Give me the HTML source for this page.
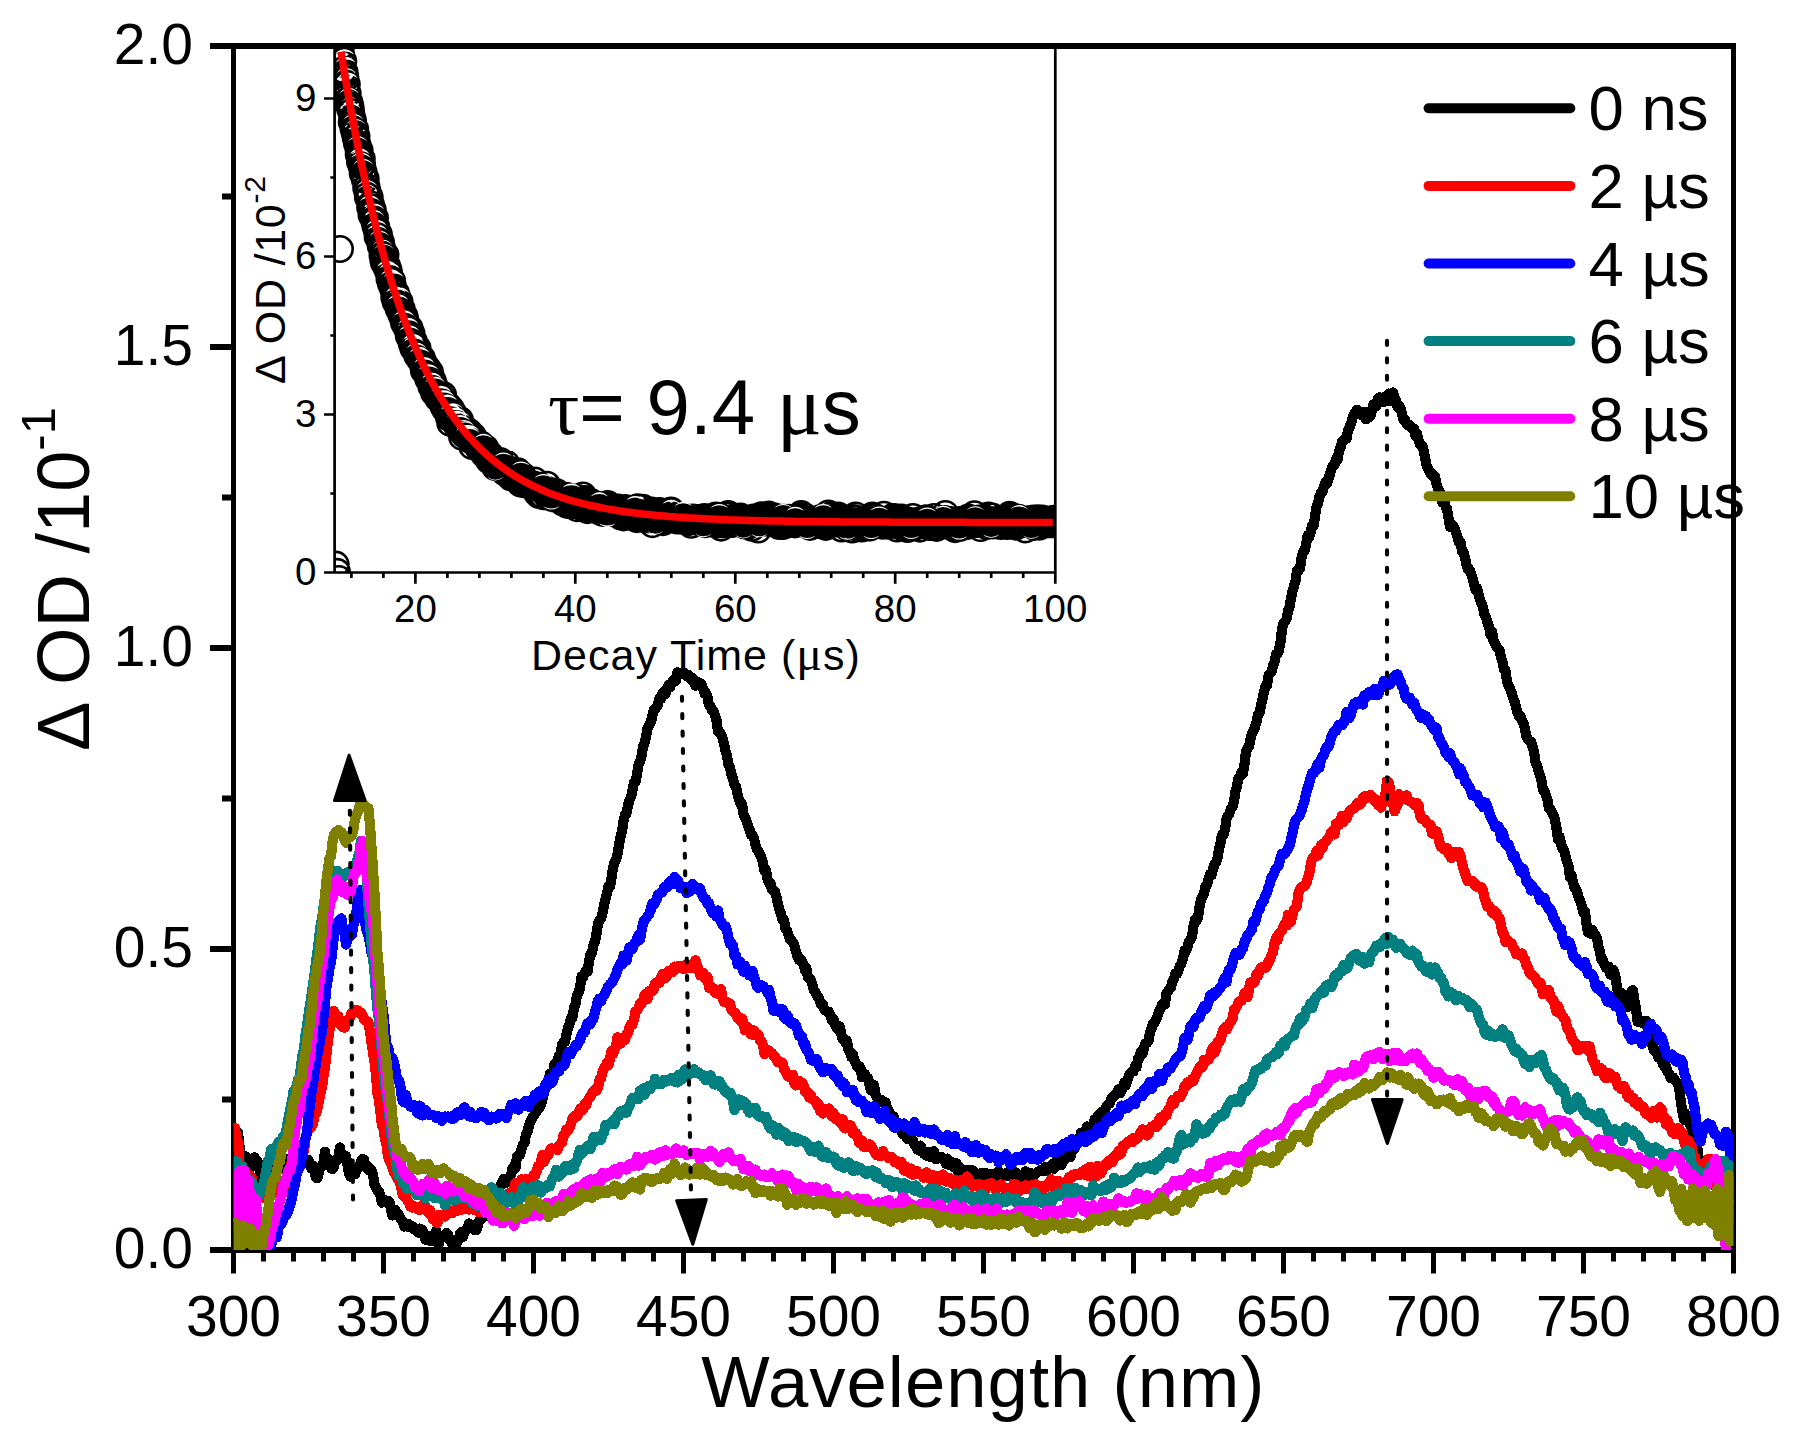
<!DOCTYPE html>
<html lang="en"><head><meta charset="utf-8"><title>Transient absorption spectra</title>
<style>html,body{margin:0;padding:0;background:#fff}svg{display:block}text{font-family:'Liberation Sans', Arial, sans-serif;fill:#000}.s{font-family:'Liberation Serif', 'DejaVu Serif', serif}</style>
</head><body>
<svg width="1798" height="1443" viewBox="0 0 1798 1443">
<rect width="1798" height="1443" fill="#fff"/>
<defs><clipPath id="cm"><rect x="233.5" y="46.0" width="1500.0" height="1204.0"/></clipPath>
<clipPath id="ci"><rect x="334.6" y="46" width="720.7" height="526.5"/></clipPath></defs>
<g stroke="#000" fill="none" stroke-linecap="butt">
<path d="M210,46.0 H1736.0 M210,1250.0 H1736.0 M210,949.0 H233.5 M210,648.0 H233.5 M210,347.0 H233.5 M222,1099.5 H233.5 M222,798.5 H233.5 M222,497.5 H233.5 M222,196.5 H233.5" stroke-width="6"/>
<path d="M233.5,46.0 V1273.5 M1733.5,46.0 V1273.5 M383.5,1250.0 V1273.5 M533.5,1250.0 V1273.5 M683.5,1250.0 V1273.5 M833.5,1250.0 V1273.5 M983.5,1250.0 V1273.5 M1133.5,1250.0 V1273.5 M1283.5,1250.0 V1273.5 M1433.5,1250.0 V1273.5 M1583.5,1250.0 V1273.5 M263.5,1250.0 V1261.5 M293.5,1250.0 V1261.5 M323.5,1250.0 V1261.5 M353.5,1250.0 V1261.5 M413.5,1250.0 V1261.5 M443.5,1250.0 V1261.5 M473.5,1250.0 V1261.5 M503.5,1250.0 V1261.5 M563.5,1250.0 V1261.5 M593.5,1250.0 V1261.5 M623.5,1250.0 V1261.5 M653.5,1250.0 V1261.5 M713.5,1250.0 V1261.5 M743.5,1250.0 V1261.5 M773.5,1250.0 V1261.5 M803.5,1250.0 V1261.5 M863.5,1250.0 V1261.5 M893.5,1250.0 V1261.5 M923.5,1250.0 V1261.5 M953.5,1250.0 V1261.5 M1013.5,1250.0 V1261.5 M1043.5,1250.0 V1261.5 M1073.5,1250.0 V1261.5 M1103.5,1250.0 V1261.5 M1163.5,1250.0 V1261.5 M1193.5,1250.0 V1261.5 M1223.5,1250.0 V1261.5 M1253.5,1250.0 V1261.5 M1313.5,1250.0 V1261.5 M1343.5,1250.0 V1261.5 M1373.5,1250.0 V1261.5 M1403.5,1250.0 V1261.5 M1463.5,1250.0 V1261.5 M1493.5,1250.0 V1261.5 M1523.5,1250.0 V1261.5 M1553.5,1250.0 V1261.5 M1613.5,1250.0 V1261.5 M1643.5,1250.0 V1261.5 M1673.5,1250.0 V1261.5 M1703.5,1250.0 V1261.5" stroke-width="5"/>
</g>
<g font-size="57px" text-anchor="end">
<text x="193" y="1268.0">0.0</text>
<text x="193" y="967.0">0.5</text>
<text x="193" y="666.0">1.0</text>
<text x="193" y="365.0">1.5</text>
<text x="193" y="64.0">2.0</text>
</g>
<g font-size="57px" text-anchor="middle">
<text x="233.5" y="1335.5">300</text>
<text x="383.5" y="1335.5">350</text>
<text x="533.5" y="1335.5">400</text>
<text x="683.5" y="1335.5">450</text>
<text x="833.5" y="1335.5">500</text>
<text x="983.5" y="1335.5">550</text>
<text x="1133.5" y="1335.5">600</text>
<text x="1283.5" y="1335.5">650</text>
<text x="1433.5" y="1335.5">700</text>
<text x="1583.5" y="1335.5">750</text>
<text x="1733.5" y="1335.5">800</text>
</g>
<text x="701.2" y="1406.8" font-size="72.5px" letter-spacing="1">Wavelength (nm)</text>
<text transform="translate(89.3,751) rotate(-90)" font-size="74px">Δ OD /10<tspan font-size="49px" dy="-34">-1</tspan></text>
<g clip-path="url(#ci)">
<polyline points="415.4,347.5 419.4,356.5 423.4,365.1 427.4,373.3 431.4,381.0 435.4,388.3 439.4,395.3 443.4,401.9 447.4,408.1 451.4,414.0 455.4,419.7 459.4,425.0 463.4,430.0 467.4,434.8 471.4,439.4 475.4,443.7 479.4,447.7 483.4,451.6 487.4,455.3 491.4,458.8 495.4,462.1 499.4,465.2 503.4,468.2 507.4,471.0 511.4,473.6 515.4,476.2 519.4,478.6 523.4,480.8 527.4,483.0 531.4,485.0 535.4,487.0 539.4,488.8 543.4,490.6 547.4,492.2 551.3,493.8 555.3,495.3 559.3,496.7 563.3,498.0 567.3,499.3 571.3,500.5 575.3,501.6 579.3,502.7 583.3,503.7 587.3,504.7 591.3,505.6 595.3,506.5 599.3,507.3 603.3,508.1 607.3,508.8 611.3,509.5 615.3,510.2 619.3,510.9 623.3,511.5 627.3,512.0 631.3,512.6 635.3,513.1 639.3,513.6 643.3,514.0 647.3,514.5 651.3,514.9 655.3,515.3 659.3,515.6 663.3,516.0 667.3,516.3 671.3,516.6 675.3,516.9 679.3,517.2 683.3,517.5 687.3,517.8 691.3,518.0 695.3,518.2 699.3,518.5 703.3,518.7 707.3,518.9 711.3,519.0 715.3,519.2 719.3,519.4 723.3,519.6 727.3,519.7 731.3,519.8 735.3,520.0 739.3,520.1 743.3,520.2 747.3,520.3 751.3,520.5 755.3,520.6 759.3,520.7 763.3,520.8 767.3,520.8 771.3,520.9 775.3,521.0 779.3,521.1 783.3,521.2 787.3,521.2 791.3,521.3 795.3,521.3 799.3,521.4 803.3,521.5 807.3,521.5 811.3,521.6 815.2,521.6 819.2,521.7 823.2,521.7 827.2,521.7 831.2,521.8 835.2,521.8 839.2,521.8 843.2,521.9 847.2,521.9 851.2,521.9 855.2,522.0 859.2,522.0 863.2,522.0 867.2,522.0 871.2,522.1 875.2,522.1 879.2,522.1 883.2,522.1 887.2,522.1 891.2,522.2 895.2,522.2 899.2,522.2 903.2,522.2 907.2,522.2 911.2,522.2 915.2,522.2 919.2,522.2 923.2,522.3 927.2,522.3 931.2,522.3 935.2,522.3 939.2,522.3 943.2,522.3 947.2,522.3 951.2,522.3 955.2,522.3 959.2,522.3 963.2,522.3 967.2,522.3 971.2,522.4 975.2,522.4 979.2,522.4 983.2,522.4 987.2,522.4 991.2,522.4 995.2,522.4 999.2,522.4 1003.2,522.4 1007.2,522.4 1011.2,522.4 1015.2,522.4 1019.2,522.4 1023.2,522.4 1027.2,522.4 1031.2,522.4 1035.2,522.4 1039.2,522.4 1043.2,522.4 1047.2,522.4 1051.2,522.4 1055.2,522.4 1059.2,522.4" fill="none" stroke="#000" stroke-width="27" stroke-linejoin="round"/>
<path d="M327.5,46.8a12.7,12.7 0 1,0 25.4,0a12.7,12.7 0 1,0 -25.4,0M328.0,48.6a12.7,12.7 0 1,0 25.4,0a12.7,12.7 0 1,0 -25.4,0M328.4,53.2a12.7,12.7 0 1,0 25.4,0a12.7,12.7 0 1,0 -25.4,0M328.8,58.0a12.7,12.7 0 1,0 25.4,0a12.7,12.7 0 1,0 -25.4,0M329.3,59.3a12.7,12.7 0 1,0 25.4,0a12.7,12.7 0 1,0 -25.4,0M329.7,63.7a12.7,12.7 0 1,0 25.4,0a12.7,12.7 0 1,0 -25.4,0M330.2,63.0a12.7,12.7 0 1,0 25.4,0a12.7,12.7 0 1,0 -25.4,0M330.6,61.5a12.7,12.7 0 1,0 25.4,0a12.7,12.7 0 1,0 -25.4,0M331.0,70.1a12.7,12.7 0 1,0 25.4,0a12.7,12.7 0 1,0 -25.4,0M331.5,73.2a12.7,12.7 0 1,0 25.4,0a12.7,12.7 0 1,0 -25.4,0M331.9,72.2a12.7,12.7 0 1,0 25.4,0a12.7,12.7 0 1,0 -25.4,0M332.4,75.3a12.7,12.7 0 1,0 25.4,0a12.7,12.7 0 1,0 -25.4,0M332.8,78.7a12.7,12.7 0 1,0 25.4,0a12.7,12.7 0 1,0 -25.4,0M333.2,84.7a12.7,12.7 0 1,0 25.4,0a12.7,12.7 0 1,0 -25.4,0M333.7,84.3a12.7,12.7 0 1,0 25.4,0a12.7,12.7 0 1,0 -25.4,0M334.1,84.5a12.7,12.7 0 1,0 25.4,0a12.7,12.7 0 1,0 -25.4,0M334.6,93.7a12.7,12.7 0 1,0 25.4,0a12.7,12.7 0 1,0 -25.4,0M335.0,93.3a12.7,12.7 0 1,0 25.4,0a12.7,12.7 0 1,0 -25.4,0M335.4,100.5a12.7,12.7 0 1,0 25.4,0a12.7,12.7 0 1,0 -25.4,0M335.9,101.0a12.7,12.7 0 1,0 25.4,0a12.7,12.7 0 1,0 -25.4,0M336.3,105.3a12.7,12.7 0 1,0 25.4,0a12.7,12.7 0 1,0 -25.4,0M336.8,102.5a12.7,12.7 0 1,0 25.4,0a12.7,12.7 0 1,0 -25.4,0M337.2,108.4a12.7,12.7 0 1,0 25.4,0a12.7,12.7 0 1,0 -25.4,0M337.6,105.8a12.7,12.7 0 1,0 25.4,0a12.7,12.7 0 1,0 -25.4,0M338.1,108.6a12.7,12.7 0 1,0 25.4,0a12.7,12.7 0 1,0 -25.4,0M338.5,112.1a12.7,12.7 0 1,0 25.4,0a12.7,12.7 0 1,0 -25.4,0M339.0,122.1a12.7,12.7 0 1,0 25.4,0a12.7,12.7 0 1,0 -25.4,0M339.4,118.0a12.7,12.7 0 1,0 25.4,0a12.7,12.7 0 1,0 -25.4,0M339.8,118.8a12.7,12.7 0 1,0 25.4,0a12.7,12.7 0 1,0 -25.4,0M340.3,120.6a12.7,12.7 0 1,0 25.4,0a12.7,12.7 0 1,0 -25.4,0M340.7,128.3a12.7,12.7 0 1,0 25.4,0a12.7,12.7 0 1,0 -25.4,0M341.2,127.2a12.7,12.7 0 1,0 25.4,0a12.7,12.7 0 1,0 -25.4,0M341.6,131.2a12.7,12.7 0 1,0 25.4,0a12.7,12.7 0 1,0 -25.4,0M342.0,132.9a12.7,12.7 0 1,0 25.4,0a12.7,12.7 0 1,0 -25.4,0M342.5,129.1a12.7,12.7 0 1,0 25.4,0a12.7,12.7 0 1,0 -25.4,0M342.9,137.5a12.7,12.7 0 1,0 25.4,0a12.7,12.7 0 1,0 -25.4,0M343.4,137.2a12.7,12.7 0 1,0 25.4,0a12.7,12.7 0 1,0 -25.4,0M343.8,136.5a12.7,12.7 0 1,0 25.4,0a12.7,12.7 0 1,0 -25.4,0M344.2,143.5a12.7,12.7 0 1,0 25.4,0a12.7,12.7 0 1,0 -25.4,0M344.7,144.2a12.7,12.7 0 1,0 25.4,0a12.7,12.7 0 1,0 -25.4,0M345.1,145.7a12.7,12.7 0 1,0 25.4,0a12.7,12.7 0 1,0 -25.4,0M345.6,148.0a12.7,12.7 0 1,0 25.4,0a12.7,12.7 0 1,0 -25.4,0M346.0,154.4a12.7,12.7 0 1,0 25.4,0a12.7,12.7 0 1,0 -25.4,0M346.4,152.3a12.7,12.7 0 1,0 25.4,0a12.7,12.7 0 1,0 -25.4,0M346.9,150.3a12.7,12.7 0 1,0 25.4,0a12.7,12.7 0 1,0 -25.4,0M347.3,161.9a12.7,12.7 0 1,0 25.4,0a12.7,12.7 0 1,0 -25.4,0M347.8,156.2a12.7,12.7 0 1,0 25.4,0a12.7,12.7 0 1,0 -25.4,0M348.2,160.8a12.7,12.7 0 1,0 25.4,0a12.7,12.7 0 1,0 -25.4,0M348.6,165.3a12.7,12.7 0 1,0 25.4,0a12.7,12.7 0 1,0 -25.4,0M349.1,158.8a12.7,12.7 0 1,0 25.4,0a12.7,12.7 0 1,0 -25.4,0M349.5,164.9a12.7,12.7 0 1,0 25.4,0a12.7,12.7 0 1,0 -25.4,0M350.0,173.4a12.7,12.7 0 1,0 25.4,0a12.7,12.7 0 1,0 -25.4,0M350.4,171.3a12.7,12.7 0 1,0 25.4,0a12.7,12.7 0 1,0 -25.4,0M350.8,171.7a12.7,12.7 0 1,0 25.4,0a12.7,12.7 0 1,0 -25.4,0M351.3,176.3a12.7,12.7 0 1,0 25.4,0a12.7,12.7 0 1,0 -25.4,0M351.7,175.4a12.7,12.7 0 1,0 25.4,0a12.7,12.7 0 1,0 -25.4,0M352.2,179.9a12.7,12.7 0 1,0 25.4,0a12.7,12.7 0 1,0 -25.4,0M352.6,179.5a12.7,12.7 0 1,0 25.4,0a12.7,12.7 0 1,0 -25.4,0M353.0,179.0a12.7,12.7 0 1,0 25.4,0a12.7,12.7 0 1,0 -25.4,0M353.5,187.8a12.7,12.7 0 1,0 25.4,0a12.7,12.7 0 1,0 -25.4,0M353.9,186.9a12.7,12.7 0 1,0 25.4,0a12.7,12.7 0 1,0 -25.4,0M354.4,191.1a12.7,12.7 0 1,0 25.4,0a12.7,12.7 0 1,0 -25.4,0M354.8,191.1a12.7,12.7 0 1,0 25.4,0a12.7,12.7 0 1,0 -25.4,0M355.2,197.3a12.7,12.7 0 1,0 25.4,0a12.7,12.7 0 1,0 -25.4,0M355.7,197.2a12.7,12.7 0 1,0 25.4,0a12.7,12.7 0 1,0 -25.4,0M356.1,197.9a12.7,12.7 0 1,0 25.4,0a12.7,12.7 0 1,0 -25.4,0M356.6,196.2a12.7,12.7 0 1,0 25.4,0a12.7,12.7 0 1,0 -25.4,0M357.0,197.3a12.7,12.7 0 1,0 25.4,0a12.7,12.7 0 1,0 -25.4,0M357.4,207.2a12.7,12.7 0 1,0 25.4,0a12.7,12.7 0 1,0 -25.4,0M357.9,207.4a12.7,12.7 0 1,0 25.4,0a12.7,12.7 0 1,0 -25.4,0M358.3,204.5a12.7,12.7 0 1,0 25.4,0a12.7,12.7 0 1,0 -25.4,0M358.8,215.0a12.7,12.7 0 1,0 25.4,0a12.7,12.7 0 1,0 -25.4,0M359.2,211.8a12.7,12.7 0 1,0 25.4,0a12.7,12.7 0 1,0 -25.4,0M359.6,212.4a12.7,12.7 0 1,0 25.4,0a12.7,12.7 0 1,0 -25.4,0M360.1,209.8a12.7,12.7 0 1,0 25.4,0a12.7,12.7 0 1,0 -25.4,0M360.5,213.5a12.7,12.7 0 1,0 25.4,0a12.7,12.7 0 1,0 -25.4,0M361.0,218.6a12.7,12.7 0 1,0 25.4,0a12.7,12.7 0 1,0 -25.4,0M361.4,220.5a12.7,12.7 0 1,0 25.4,0a12.7,12.7 0 1,0 -25.4,0M361.8,221.9a12.7,12.7 0 1,0 25.4,0a12.7,12.7 0 1,0 -25.4,0M362.3,217.9a12.7,12.7 0 1,0 25.4,0a12.7,12.7 0 1,0 -25.4,0M362.7,226.0a12.7,12.7 0 1,0 25.4,0a12.7,12.7 0 1,0 -25.4,0M363.2,227.3a12.7,12.7 0 1,0 25.4,0a12.7,12.7 0 1,0 -25.4,0M363.6,226.9a12.7,12.7 0 1,0 25.4,0a12.7,12.7 0 1,0 -25.4,0M364.0,230.2a12.7,12.7 0 1,0 25.4,0a12.7,12.7 0 1,0 -25.4,0M364.5,232.1a12.7,12.7 0 1,0 25.4,0a12.7,12.7 0 1,0 -25.4,0M364.9,236.8a12.7,12.7 0 1,0 25.4,0a12.7,12.7 0 1,0 -25.4,0M365.4,234.9a12.7,12.7 0 1,0 25.4,0a12.7,12.7 0 1,0 -25.4,0M365.8,238.0a12.7,12.7 0 1,0 25.4,0a12.7,12.7 0 1,0 -25.4,0M366.2,234.4a12.7,12.7 0 1,0 25.4,0a12.7,12.7 0 1,0 -25.4,0M366.7,237.7a12.7,12.7 0 1,0 25.4,0a12.7,12.7 0 1,0 -25.4,0M367.1,241.6a12.7,12.7 0 1,0 25.4,0a12.7,12.7 0 1,0 -25.4,0M367.6,241.0a12.7,12.7 0 1,0 25.4,0a12.7,12.7 0 1,0 -25.4,0M368.0,245.9a12.7,12.7 0 1,0 25.4,0a12.7,12.7 0 1,0 -25.4,0M368.4,243.0a12.7,12.7 0 1,0 25.4,0a12.7,12.7 0 1,0 -25.4,0M368.9,248.0a12.7,12.7 0 1,0 25.4,0a12.7,12.7 0 1,0 -25.4,0M369.3,247.7a12.7,12.7 0 1,0 25.4,0a12.7,12.7 0 1,0 -25.4,0M369.8,255.4a12.7,12.7 0 1,0 25.4,0a12.7,12.7 0 1,0 -25.4,0M370.2,251.7a12.7,12.7 0 1,0 25.4,0a12.7,12.7 0 1,0 -25.4,0M370.6,259.9a12.7,12.7 0 1,0 25.4,0a12.7,12.7 0 1,0 -25.4,0M371.1,262.6a12.7,12.7 0 1,0 25.4,0a12.7,12.7 0 1,0 -25.4,0M371.5,258.5a12.7,12.7 0 1,0 25.4,0a12.7,12.7 0 1,0 -25.4,0M372.0,262.0a12.7,12.7 0 1,0 25.4,0a12.7,12.7 0 1,0 -25.4,0M372.4,260.0a12.7,12.7 0 1,0 25.4,0a12.7,12.7 0 1,0 -25.4,0M372.8,254.8a12.7,12.7 0 1,0 25.4,0a12.7,12.7 0 1,0 -25.4,0M373.3,266.3a12.7,12.7 0 1,0 25.4,0a12.7,12.7 0 1,0 -25.4,0M373.7,267.2a12.7,12.7 0 1,0 25.4,0a12.7,12.7 0 1,0 -25.4,0M374.2,266.0a12.7,12.7 0 1,0 25.4,0a12.7,12.7 0 1,0 -25.4,0M374.6,266.5a12.7,12.7 0 1,0 25.4,0a12.7,12.7 0 1,0 -25.4,0M375.0,270.2a12.7,12.7 0 1,0 25.4,0a12.7,12.7 0 1,0 -25.4,0M375.5,271.7a12.7,12.7 0 1,0 25.4,0a12.7,12.7 0 1,0 -25.4,0M375.9,270.2a12.7,12.7 0 1,0 25.4,0a12.7,12.7 0 1,0 -25.4,0M376.3,272.3a12.7,12.7 0 1,0 25.4,0a12.7,12.7 0 1,0 -25.4,0M376.8,278.8a12.7,12.7 0 1,0 25.4,0a12.7,12.7 0 1,0 -25.4,0M377.2,277.1a12.7,12.7 0 1,0 25.4,0a12.7,12.7 0 1,0 -25.4,0M377.7,278.2a12.7,12.7 0 1,0 25.4,0a12.7,12.7 0 1,0 -25.4,0M378.1,283.2a12.7,12.7 0 1,0 25.4,0a12.7,12.7 0 1,0 -25.4,0M378.5,280.3a12.7,12.7 0 1,0 25.4,0a12.7,12.7 0 1,0 -25.4,0M379.0,285.4a12.7,12.7 0 1,0 25.4,0a12.7,12.7 0 1,0 -25.4,0M379.4,280.8a12.7,12.7 0 1,0 25.4,0a12.7,12.7 0 1,0 -25.4,0M379.9,284.7a12.7,12.7 0 1,0 25.4,0a12.7,12.7 0 1,0 -25.4,0M380.3,286.5a12.7,12.7 0 1,0 25.4,0a12.7,12.7 0 1,0 -25.4,0M380.7,290.0a12.7,12.7 0 1,0 25.4,0a12.7,12.7 0 1,0 -25.4,0M381.2,289.9a12.7,12.7 0 1,0 25.4,0a12.7,12.7 0 1,0 -25.4,0M381.6,297.4a12.7,12.7 0 1,0 25.4,0a12.7,12.7 0 1,0 -25.4,0M382.1,295.9a12.7,12.7 0 1,0 25.4,0a12.7,12.7 0 1,0 -25.4,0M382.5,292.4a12.7,12.7 0 1,0 25.4,0a12.7,12.7 0 1,0 -25.4,0M382.9,301.8a12.7,12.7 0 1,0 25.4,0a12.7,12.7 0 1,0 -25.4,0M383.4,293.4a12.7,12.7 0 1,0 25.4,0a12.7,12.7 0 1,0 -25.4,0M383.8,303.2a12.7,12.7 0 1,0 25.4,0a12.7,12.7 0 1,0 -25.4,0M384.3,296.4a12.7,12.7 0 1,0 25.4,0a12.7,12.7 0 1,0 -25.4,0M384.7,302.9a12.7,12.7 0 1,0 25.4,0a12.7,12.7 0 1,0 -25.4,0M385.1,298.9a12.7,12.7 0 1,0 25.4,0a12.7,12.7 0 1,0 -25.4,0M385.6,302.3a12.7,12.7 0 1,0 25.4,0a12.7,12.7 0 1,0 -25.4,0M386.0,309.0a12.7,12.7 0 1,0 25.4,0a12.7,12.7 0 1,0 -25.4,0M386.5,301.2a12.7,12.7 0 1,0 25.4,0a12.7,12.7 0 1,0 -25.4,0M386.9,301.8a12.7,12.7 0 1,0 25.4,0a12.7,12.7 0 1,0 -25.4,0M387.3,308.0a12.7,12.7 0 1,0 25.4,0a12.7,12.7 0 1,0 -25.4,0M387.8,310.0a12.7,12.7 0 1,0 25.4,0a12.7,12.7 0 1,0 -25.4,0M388.2,310.8a12.7,12.7 0 1,0 25.4,0a12.7,12.7 0 1,0 -25.4,0M388.7,314.7a12.7,12.7 0 1,0 25.4,0a12.7,12.7 0 1,0 -25.4,0M389.1,309.2a12.7,12.7 0 1,0 25.4,0a12.7,12.7 0 1,0 -25.4,0M389.5,315.8a12.7,12.7 0 1,0 25.4,0a12.7,12.7 0 1,0 -25.4,0M390.0,315.4a12.7,12.7 0 1,0 25.4,0a12.7,12.7 0 1,0 -25.4,0M390.4,319.0a12.7,12.7 0 1,0 25.4,0a12.7,12.7 0 1,0 -25.4,0M390.9,319.7a12.7,12.7 0 1,0 25.4,0a12.7,12.7 0 1,0 -25.4,0M391.3,323.0a12.7,12.7 0 1,0 25.4,0a12.7,12.7 0 1,0 -25.4,0M391.7,315.9a12.7,12.7 0 1,0 25.4,0a12.7,12.7 0 1,0 -25.4,0M392.2,321.7a12.7,12.7 0 1,0 25.4,0a12.7,12.7 0 1,0 -25.4,0M392.6,319.2a12.7,12.7 0 1,0 25.4,0a12.7,12.7 0 1,0 -25.4,0M393.1,323.5a12.7,12.7 0 1,0 25.4,0a12.7,12.7 0 1,0 -25.4,0M393.5,327.0a12.7,12.7 0 1,0 25.4,0a12.7,12.7 0 1,0 -25.4,0M393.9,326.9a12.7,12.7 0 1,0 25.4,0a12.7,12.7 0 1,0 -25.4,0M394.4,328.8a12.7,12.7 0 1,0 25.4,0a12.7,12.7 0 1,0 -25.4,0M394.8,328.1a12.7,12.7 0 1,0 25.4,0a12.7,12.7 0 1,0 -25.4,0M395.3,330.5a12.7,12.7 0 1,0 25.4,0a12.7,12.7 0 1,0 -25.4,0M395.7,331.4a12.7,12.7 0 1,0 25.4,0a12.7,12.7 0 1,0 -25.4,0M396.1,336.0a12.7,12.7 0 1,0 25.4,0a12.7,12.7 0 1,0 -25.4,0M396.6,335.3a12.7,12.7 0 1,0 25.4,0a12.7,12.7 0 1,0 -25.4,0M397.0,328.3a12.7,12.7 0 1,0 25.4,0a12.7,12.7 0 1,0 -25.4,0M397.5,337.0a12.7,12.7 0 1,0 25.4,0a12.7,12.7 0 1,0 -25.4,0M397.9,339.4a12.7,12.7 0 1,0 25.4,0a12.7,12.7 0 1,0 -25.4,0M398.3,335.9a12.7,12.7 0 1,0 25.4,0a12.7,12.7 0 1,0 -25.4,0M398.8,333.5a12.7,12.7 0 1,0 25.4,0a12.7,12.7 0 1,0 -25.4,0M399.2,343.9a12.7,12.7 0 1,0 25.4,0a12.7,12.7 0 1,0 -25.4,0M399.7,340.9a12.7,12.7 0 1,0 25.4,0a12.7,12.7 0 1,0 -25.4,0M400.1,343.4a12.7,12.7 0 1,0 25.4,0a12.7,12.7 0 1,0 -25.4,0M400.5,348.1a12.7,12.7 0 1,0 25.4,0a12.7,12.7 0 1,0 -25.4,0M401.0,341.0a12.7,12.7 0 1,0 25.4,0a12.7,12.7 0 1,0 -25.4,0M401.4,344.5a12.7,12.7 0 1,0 25.4,0a12.7,12.7 0 1,0 -25.4,0M401.9,345.3a12.7,12.7 0 1,0 25.4,0a12.7,12.7 0 1,0 -25.4,0M402.3,349.0a12.7,12.7 0 1,0 25.4,0a12.7,12.7 0 1,0 -25.4,0M402.7,346.1a12.7,12.7 0 1,0 25.4,0a12.7,12.7 0 1,0 -25.4,0M403.2,350.3a12.7,12.7 0 1,0 25.4,0a12.7,12.7 0 1,0 -25.4,0M403.6,350.1a12.7,12.7 0 1,0 25.4,0a12.7,12.7 0 1,0 -25.4,0M404.1,354.2a12.7,12.7 0 1,0 25.4,0a12.7,12.7 0 1,0 -25.4,0M404.5,355.6a12.7,12.7 0 1,0 25.4,0a12.7,12.7 0 1,0 -25.4,0M404.9,348.2a12.7,12.7 0 1,0 25.4,0a12.7,12.7 0 1,0 -25.4,0M405.4,355.2a12.7,12.7 0 1,0 25.4,0a12.7,12.7 0 1,0 -25.4,0M405.8,353.6a12.7,12.7 0 1,0 25.4,0a12.7,12.7 0 1,0 -25.4,0M406.3,355.7a12.7,12.7 0 1,0 25.4,0a12.7,12.7 0 1,0 -25.4,0M406.7,358.0a12.7,12.7 0 1,0 25.4,0a12.7,12.7 0 1,0 -25.4,0M407.1,359.2a12.7,12.7 0 1,0 25.4,0a12.7,12.7 0 1,0 -25.4,0M407.6,356.4a12.7,12.7 0 1,0 25.4,0a12.7,12.7 0 1,0 -25.4,0M408.0,360.4a12.7,12.7 0 1,0 25.4,0a12.7,12.7 0 1,0 -25.4,0M408.5,360.9a12.7,12.7 0 1,0 25.4,0a12.7,12.7 0 1,0 -25.4,0M408.9,361.2a12.7,12.7 0 1,0 25.4,0a12.7,12.7 0 1,0 -25.4,0M409.3,358.4a12.7,12.7 0 1,0 25.4,0a12.7,12.7 0 1,0 -25.4,0M409.8,361.0a12.7,12.7 0 1,0 25.4,0a12.7,12.7 0 1,0 -25.4,0M410.2,362.9a12.7,12.7 0 1,0 25.4,0a12.7,12.7 0 1,0 -25.4,0M410.7,366.9a12.7,12.7 0 1,0 25.4,0a12.7,12.7 0 1,0 -25.4,0M411.1,370.5a12.7,12.7 0 1,0 25.4,0a12.7,12.7 0 1,0 -25.4,0M411.5,363.8a12.7,12.7 0 1,0 25.4,0a12.7,12.7 0 1,0 -25.4,0M412.0,364.6a12.7,12.7 0 1,0 25.4,0a12.7,12.7 0 1,0 -25.4,0M412.4,369.1a12.7,12.7 0 1,0 25.4,0a12.7,12.7 0 1,0 -25.4,0M412.9,367.8a12.7,12.7 0 1,0 25.4,0a12.7,12.7 0 1,0 -25.4,0M413.3,367.9a12.7,12.7 0 1,0 25.4,0a12.7,12.7 0 1,0 -25.4,0M413.7,368.6a12.7,12.7 0 1,0 25.4,0a12.7,12.7 0 1,0 -25.4,0M414.2,369.2a12.7,12.7 0 1,0 25.4,0a12.7,12.7 0 1,0 -25.4,0M414.6,374.6a12.7,12.7 0 1,0 25.4,0a12.7,12.7 0 1,0 -25.4,0M415.1,369.0a12.7,12.7 0 1,0 25.4,0a12.7,12.7 0 1,0 -25.4,0M415.5,378.9a12.7,12.7 0 1,0 25.4,0a12.7,12.7 0 1,0 -25.4,0M415.9,372.9a12.7,12.7 0 1,0 25.4,0a12.7,12.7 0 1,0 -25.4,0M416.4,375.0a12.7,12.7 0 1,0 25.4,0a12.7,12.7 0 1,0 -25.4,0M416.8,374.6a12.7,12.7 0 1,0 25.4,0a12.7,12.7 0 1,0 -25.4,0M417.3,372.1a12.7,12.7 0 1,0 25.4,0a12.7,12.7 0 1,0 -25.4,0M417.7,374.3a12.7,12.7 0 1,0 25.4,0a12.7,12.7 0 1,0 -25.4,0M418.1,383.7a12.7,12.7 0 1,0 25.4,0a12.7,12.7 0 1,0 -25.4,0M418.6,386.3a12.7,12.7 0 1,0 25.4,0a12.7,12.7 0 1,0 -25.4,0M419.0,378.9a12.7,12.7 0 1,0 25.4,0a12.7,12.7 0 1,0 -25.4,0M419.5,385.7a12.7,12.7 0 1,0 25.4,0a12.7,12.7 0 1,0 -25.4,0M419.9,383.3a12.7,12.7 0 1,0 25.4,0a12.7,12.7 0 1,0 -25.4,0M420.3,381.3a12.7,12.7 0 1,0 25.4,0a12.7,12.7 0 1,0 -25.4,0M420.8,390.2a12.7,12.7 0 1,0 25.4,0a12.7,12.7 0 1,0 -25.4,0M421.2,392.6a12.7,12.7 0 1,0 25.4,0a12.7,12.7 0 1,0 -25.4,0M421.7,385.6a12.7,12.7 0 1,0 25.4,0a12.7,12.7 0 1,0 -25.4,0M422.1,387.1a12.7,12.7 0 1,0 25.4,0a12.7,12.7 0 1,0 -25.4,0M422.5,388.8a12.7,12.7 0 1,0 25.4,0a12.7,12.7 0 1,0 -25.4,0M423.0,388.7a12.7,12.7 0 1,0 25.4,0a12.7,12.7 0 1,0 -25.4,0M423.4,392.4a12.7,12.7 0 1,0 25.4,0a12.7,12.7 0 1,0 -25.4,0M423.9,395.3a12.7,12.7 0 1,0 25.4,0a12.7,12.7 0 1,0 -25.4,0M424.3,391.7a12.7,12.7 0 1,0 25.4,0a12.7,12.7 0 1,0 -25.4,0M424.7,395.1a12.7,12.7 0 1,0 25.4,0a12.7,12.7 0 1,0 -25.4,0M425.2,398.1a12.7,12.7 0 1,0 25.4,0a12.7,12.7 0 1,0 -25.4,0M425.6,391.8a12.7,12.7 0 1,0 25.4,0a12.7,12.7 0 1,0 -25.4,0M426.1,394.4a12.7,12.7 0 1,0 25.4,0a12.7,12.7 0 1,0 -25.4,0M426.5,393.6a12.7,12.7 0 1,0 25.4,0a12.7,12.7 0 1,0 -25.4,0M426.9,398.9a12.7,12.7 0 1,0 25.4,0a12.7,12.7 0 1,0 -25.4,0M427.4,398.6a12.7,12.7 0 1,0 25.4,0a12.7,12.7 0 1,0 -25.4,0M427.8,400.4a12.7,12.7 0 1,0 25.4,0a12.7,12.7 0 1,0 -25.4,0M428.3,400.8a12.7,12.7 0 1,0 25.4,0a12.7,12.7 0 1,0 -25.4,0M428.7,398.0a12.7,12.7 0 1,0 25.4,0a12.7,12.7 0 1,0 -25.4,0M429.1,401.9a12.7,12.7 0 1,0 25.4,0a12.7,12.7 0 1,0 -25.4,0M429.6,398.9a12.7,12.7 0 1,0 25.4,0a12.7,12.7 0 1,0 -25.4,0M430.0,399.7a12.7,12.7 0 1,0 25.4,0a12.7,12.7 0 1,0 -25.4,0M430.4,394.9a12.7,12.7 0 1,0 25.4,0a12.7,12.7 0 1,0 -25.4,0M430.9,406.7a12.7,12.7 0 1,0 25.4,0a12.7,12.7 0 1,0 -25.4,0M431.3,400.0a12.7,12.7 0 1,0 25.4,0a12.7,12.7 0 1,0 -25.4,0M431.8,403.9a12.7,12.7 0 1,0 25.4,0a12.7,12.7 0 1,0 -25.4,0M432.2,404.3a12.7,12.7 0 1,0 25.4,0a12.7,12.7 0 1,0 -25.4,0M432.6,409.7a12.7,12.7 0 1,0 25.4,0a12.7,12.7 0 1,0 -25.4,0M433.1,407.2a12.7,12.7 0 1,0 25.4,0a12.7,12.7 0 1,0 -25.4,0M433.5,403.9a12.7,12.7 0 1,0 25.4,0a12.7,12.7 0 1,0 -25.4,0M434.0,407.3a12.7,12.7 0 1,0 25.4,0a12.7,12.7 0 1,0 -25.4,0M434.4,407.4a12.7,12.7 0 1,0 25.4,0a12.7,12.7 0 1,0 -25.4,0M434.8,409.3a12.7,12.7 0 1,0 25.4,0a12.7,12.7 0 1,0 -25.4,0M435.3,405.3a12.7,12.7 0 1,0 25.4,0a12.7,12.7 0 1,0 -25.4,0M435.7,409.8a12.7,12.7 0 1,0 25.4,0a12.7,12.7 0 1,0 -25.4,0M436.2,417.5a12.7,12.7 0 1,0 25.4,0a12.7,12.7 0 1,0 -25.4,0M436.6,413.3a12.7,12.7 0 1,0 25.4,0a12.7,12.7 0 1,0 -25.4,0M437.0,418.1a12.7,12.7 0 1,0 25.4,0a12.7,12.7 0 1,0 -25.4,0M437.5,422.9a12.7,12.7 0 1,0 25.4,0a12.7,12.7 0 1,0 -25.4,0M437.9,414.7a12.7,12.7 0 1,0 25.4,0a12.7,12.7 0 1,0 -25.4,0M438.4,409.2a12.7,12.7 0 1,0 25.4,0a12.7,12.7 0 1,0 -25.4,0M438.8,414.1a12.7,12.7 0 1,0 25.4,0a12.7,12.7 0 1,0 -25.4,0M439.2,418.7a12.7,12.7 0 1,0 25.4,0a12.7,12.7 0 1,0 -25.4,0M439.7,418.5a12.7,12.7 0 1,0 25.4,0a12.7,12.7 0 1,0 -25.4,0M440.1,412.4a12.7,12.7 0 1,0 25.4,0a12.7,12.7 0 1,0 -25.4,0M440.6,416.2a12.7,12.7 0 1,0 25.4,0a12.7,12.7 0 1,0 -25.4,0M441.0,417.2a12.7,12.7 0 1,0 25.4,0a12.7,12.7 0 1,0 -25.4,0M441.4,418.1a12.7,12.7 0 1,0 25.4,0a12.7,12.7 0 1,0 -25.4,0M441.9,418.4a12.7,12.7 0 1,0 25.4,0a12.7,12.7 0 1,0 -25.4,0M442.3,416.5a12.7,12.7 0 1,0 25.4,0a12.7,12.7 0 1,0 -25.4,0M442.8,418.0a12.7,12.7 0 1,0 25.4,0a12.7,12.7 0 1,0 -25.4,0M443.2,419.7a12.7,12.7 0 1,0 25.4,0a12.7,12.7 0 1,0 -25.4,0M443.6,424.4a12.7,12.7 0 1,0 25.4,0a12.7,12.7 0 1,0 -25.4,0M444.1,419.9a12.7,12.7 0 1,0 25.4,0a12.7,12.7 0 1,0 -25.4,0M444.5,424.4a12.7,12.7 0 1,0 25.4,0a12.7,12.7 0 1,0 -25.4,0M445.0,419.2a12.7,12.7 0 1,0 25.4,0a12.7,12.7 0 1,0 -25.4,0M445.4,427.5a12.7,12.7 0 1,0 25.4,0a12.7,12.7 0 1,0 -25.4,0M445.8,424.3a12.7,12.7 0 1,0 25.4,0a12.7,12.7 0 1,0 -25.4,0M446.3,424.5a12.7,12.7 0 1,0 25.4,0a12.7,12.7 0 1,0 -25.4,0M446.7,429.4a12.7,12.7 0 1,0 25.4,0a12.7,12.7 0 1,0 -25.4,0M447.2,420.0a12.7,12.7 0 1,0 25.4,0a12.7,12.7 0 1,0 -25.4,0M447.6,421.4a12.7,12.7 0 1,0 25.4,0a12.7,12.7 0 1,0 -25.4,0M448.0,428.2a12.7,12.7 0 1,0 25.4,0a12.7,12.7 0 1,0 -25.4,0M448.5,424.8a12.7,12.7 0 1,0 25.4,0a12.7,12.7 0 1,0 -25.4,0M448.9,426.6a12.7,12.7 0 1,0 25.4,0a12.7,12.7 0 1,0 -25.4,0M449.4,436.9a12.7,12.7 0 1,0 25.4,0a12.7,12.7 0 1,0 -25.4,0M449.8,428.1a12.7,12.7 0 1,0 25.4,0a12.7,12.7 0 1,0 -25.4,0M450.2,429.7a12.7,12.7 0 1,0 25.4,0a12.7,12.7 0 1,0 -25.4,0M450.7,429.8a12.7,12.7 0 1,0 25.4,0a12.7,12.7 0 1,0 -25.4,0M451.6,434.6a12.7,12.7 0 1,0 25.4,0a12.7,12.7 0 1,0 -25.4,0M452.4,433.0a12.7,12.7 0 1,0 25.4,0a12.7,12.7 0 1,0 -25.4,0M453.3,433.8a12.7,12.7 0 1,0 25.4,0a12.7,12.7 0 1,0 -25.4,0M454.2,430.4a12.7,12.7 0 1,0 25.4,0a12.7,12.7 0 1,0 -25.4,0M455.1,434.2a12.7,12.7 0 1,0 25.4,0a12.7,12.7 0 1,0 -25.4,0M456.0,436.3a12.7,12.7 0 1,0 25.4,0a12.7,12.7 0 1,0 -25.4,0M456.8,432.3a12.7,12.7 0 1,0 25.4,0a12.7,12.7 0 1,0 -25.4,0M457.7,440.1a12.7,12.7 0 1,0 25.4,0a12.7,12.7 0 1,0 -25.4,0M458.6,440.5a12.7,12.7 0 1,0 25.4,0a12.7,12.7 0 1,0 -25.4,0M459.5,446.2a12.7,12.7 0 1,0 25.4,0a12.7,12.7 0 1,0 -25.4,0M460.4,436.1a12.7,12.7 0 1,0 25.4,0a12.7,12.7 0 1,0 -25.4,0M461.2,439.0a12.7,12.7 0 1,0 25.4,0a12.7,12.7 0 1,0 -25.4,0M462.1,440.1a12.7,12.7 0 1,0 25.4,0a12.7,12.7 0 1,0 -25.4,0M463.0,441.8a12.7,12.7 0 1,0 25.4,0a12.7,12.7 0 1,0 -25.4,0M463.9,444.6a12.7,12.7 0 1,0 25.4,0a12.7,12.7 0 1,0 -25.4,0M464.8,445.1a12.7,12.7 0 1,0 25.4,0a12.7,12.7 0 1,0 -25.4,0M465.6,447.5a12.7,12.7 0 1,0 25.4,0a12.7,12.7 0 1,0 -25.4,0M466.5,448.3a12.7,12.7 0 1,0 25.4,0a12.7,12.7 0 1,0 -25.4,0M467.4,448.3a12.7,12.7 0 1,0 25.4,0a12.7,12.7 0 1,0 -25.4,0M468.3,444.4a12.7,12.7 0 1,0 25.4,0a12.7,12.7 0 1,0 -25.4,0M469.2,448.4a12.7,12.7 0 1,0 25.4,0a12.7,12.7 0 1,0 -25.4,0M470.0,451.2a12.7,12.7 0 1,0 25.4,0a12.7,12.7 0 1,0 -25.4,0M470.9,453.7a12.7,12.7 0 1,0 25.4,0a12.7,12.7 0 1,0 -25.4,0M471.8,454.7a12.7,12.7 0 1,0 25.4,0a12.7,12.7 0 1,0 -25.4,0M472.7,448.2a12.7,12.7 0 1,0 25.4,0a12.7,12.7 0 1,0 -25.4,0M473.6,452.6a12.7,12.7 0 1,0 25.4,0a12.7,12.7 0 1,0 -25.4,0M474.4,454.9a12.7,12.7 0 1,0 25.4,0a12.7,12.7 0 1,0 -25.4,0M475.3,457.0a12.7,12.7 0 1,0 25.4,0a12.7,12.7 0 1,0 -25.4,0M476.2,460.3a12.7,12.7 0 1,0 25.4,0a12.7,12.7 0 1,0 -25.4,0M477.1,457.6a12.7,12.7 0 1,0 25.4,0a12.7,12.7 0 1,0 -25.4,0M478.0,455.3a12.7,12.7 0 1,0 25.4,0a12.7,12.7 0 1,0 -25.4,0M478.8,460.2a12.7,12.7 0 1,0 25.4,0a12.7,12.7 0 1,0 -25.4,0M479.7,460.4a12.7,12.7 0 1,0 25.4,0a12.7,12.7 0 1,0 -25.4,0M480.6,461.1a12.7,12.7 0 1,0 25.4,0a12.7,12.7 0 1,0 -25.4,0M481.5,460.7a12.7,12.7 0 1,0 25.4,0a12.7,12.7 0 1,0 -25.4,0M482.4,467.0a12.7,12.7 0 1,0 25.4,0a12.7,12.7 0 1,0 -25.4,0M483.2,463.3a12.7,12.7 0 1,0 25.4,0a12.7,12.7 0 1,0 -25.4,0M484.1,466.0a12.7,12.7 0 1,0 25.4,0a12.7,12.7 0 1,0 -25.4,0M485.0,461.0a12.7,12.7 0 1,0 25.4,0a12.7,12.7 0 1,0 -25.4,0M485.9,467.1a12.7,12.7 0 1,0 25.4,0a12.7,12.7 0 1,0 -25.4,0M486.7,463.4a12.7,12.7 0 1,0 25.4,0a12.7,12.7 0 1,0 -25.4,0M487.6,460.9a12.7,12.7 0 1,0 25.4,0a12.7,12.7 0 1,0 -25.4,0M488.5,467.6a12.7,12.7 0 1,0 25.4,0a12.7,12.7 0 1,0 -25.4,0M489.4,469.2a12.7,12.7 0 1,0 25.4,0a12.7,12.7 0 1,0 -25.4,0M490.3,467.2a12.7,12.7 0 1,0 25.4,0a12.7,12.7 0 1,0 -25.4,0M491.1,468.5a12.7,12.7 0 1,0 25.4,0a12.7,12.7 0 1,0 -25.4,0M492.0,472.4a12.7,12.7 0 1,0 25.4,0a12.7,12.7 0 1,0 -25.4,0M492.9,468.3a12.7,12.7 0 1,0 25.4,0a12.7,12.7 0 1,0 -25.4,0M493.8,463.8a12.7,12.7 0 1,0 25.4,0a12.7,12.7 0 1,0 -25.4,0M494.7,471.8a12.7,12.7 0 1,0 25.4,0a12.7,12.7 0 1,0 -25.4,0M495.5,472.2a12.7,12.7 0 1,0 25.4,0a12.7,12.7 0 1,0 -25.4,0M496.4,475.6a12.7,12.7 0 1,0 25.4,0a12.7,12.7 0 1,0 -25.4,0M497.3,471.7a12.7,12.7 0 1,0 25.4,0a12.7,12.7 0 1,0 -25.4,0M498.2,477.4a12.7,12.7 0 1,0 25.4,0a12.7,12.7 0 1,0 -25.4,0M499.1,477.5a12.7,12.7 0 1,0 25.4,0a12.7,12.7 0 1,0 -25.4,0M499.9,470.3a12.7,12.7 0 1,0 25.4,0a12.7,12.7 0 1,0 -25.4,0M500.8,478.0a12.7,12.7 0 1,0 25.4,0a12.7,12.7 0 1,0 -25.4,0M501.7,472.0a12.7,12.7 0 1,0 25.4,0a12.7,12.7 0 1,0 -25.4,0M502.6,471.1a12.7,12.7 0 1,0 25.4,0a12.7,12.7 0 1,0 -25.4,0M503.5,475.8a12.7,12.7 0 1,0 25.4,0a12.7,12.7 0 1,0 -25.4,0M504.3,475.4a12.7,12.7 0 1,0 25.4,0a12.7,12.7 0 1,0 -25.4,0M505.2,471.3a12.7,12.7 0 1,0 25.4,0a12.7,12.7 0 1,0 -25.4,0M506.1,478.9a12.7,12.7 0 1,0 25.4,0a12.7,12.7 0 1,0 -25.4,0M507.0,480.7a12.7,12.7 0 1,0 25.4,0a12.7,12.7 0 1,0 -25.4,0M507.9,483.7a12.7,12.7 0 1,0 25.4,0a12.7,12.7 0 1,0 -25.4,0M508.7,479.6a12.7,12.7 0 1,0 25.4,0a12.7,12.7 0 1,0 -25.4,0M509.6,475.4a12.7,12.7 0 1,0 25.4,0a12.7,12.7 0 1,0 -25.4,0M510.5,477.6a12.7,12.7 0 1,0 25.4,0a12.7,12.7 0 1,0 -25.4,0M511.4,484.3a12.7,12.7 0 1,0 25.4,0a12.7,12.7 0 1,0 -25.4,0M512.3,484.5a12.7,12.7 0 1,0 25.4,0a12.7,12.7 0 1,0 -25.4,0M513.1,483.8a12.7,12.7 0 1,0 25.4,0a12.7,12.7 0 1,0 -25.4,0M514.0,481.7a12.7,12.7 0 1,0 25.4,0a12.7,12.7 0 1,0 -25.4,0M514.9,483.8a12.7,12.7 0 1,0 25.4,0a12.7,12.7 0 1,0 -25.4,0M515.8,482.9a12.7,12.7 0 1,0 25.4,0a12.7,12.7 0 1,0 -25.4,0M516.7,483.1a12.7,12.7 0 1,0 25.4,0a12.7,12.7 0 1,0 -25.4,0M517.5,485.5a12.7,12.7 0 1,0 25.4,0a12.7,12.7 0 1,0 -25.4,0M518.4,485.1a12.7,12.7 0 1,0 25.4,0a12.7,12.7 0 1,0 -25.4,0M519.3,484.7a12.7,12.7 0 1,0 25.4,0a12.7,12.7 0 1,0 -25.4,0M520.2,486.1a12.7,12.7 0 1,0 25.4,0a12.7,12.7 0 1,0 -25.4,0M521.1,484.6a12.7,12.7 0 1,0 25.4,0a12.7,12.7 0 1,0 -25.4,0M521.9,480.5a12.7,12.7 0 1,0 25.4,0a12.7,12.7 0 1,0 -25.4,0M522.8,485.1a12.7,12.7 0 1,0 25.4,0a12.7,12.7 0 1,0 -25.4,0M523.7,487.3a12.7,12.7 0 1,0 25.4,0a12.7,12.7 0 1,0 -25.4,0M524.6,493.4a12.7,12.7 0 1,0 25.4,0a12.7,12.7 0 1,0 -25.4,0M525.5,487.0a12.7,12.7 0 1,0 25.4,0a12.7,12.7 0 1,0 -25.4,0M526.3,495.0a12.7,12.7 0 1,0 25.4,0a12.7,12.7 0 1,0 -25.4,0M527.2,493.7a12.7,12.7 0 1,0 25.4,0a12.7,12.7 0 1,0 -25.4,0M528.1,486.7a12.7,12.7 0 1,0 25.4,0a12.7,12.7 0 1,0 -25.4,0M529.0,487.5a12.7,12.7 0 1,0 25.4,0a12.7,12.7 0 1,0 -25.4,0M529.9,490.7a12.7,12.7 0 1,0 25.4,0a12.7,12.7 0 1,0 -25.4,0M530.7,496.2a12.7,12.7 0 1,0 25.4,0a12.7,12.7 0 1,0 -25.4,0M531.6,492.2a12.7,12.7 0 1,0 25.4,0a12.7,12.7 0 1,0 -25.4,0M532.5,493.5a12.7,12.7 0 1,0 25.4,0a12.7,12.7 0 1,0 -25.4,0M533.4,489.6a12.7,12.7 0 1,0 25.4,0a12.7,12.7 0 1,0 -25.4,0M534.3,484.7a12.7,12.7 0 1,0 25.4,0a12.7,12.7 0 1,0 -25.4,0M535.1,491.7a12.7,12.7 0 1,0 25.4,0a12.7,12.7 0 1,0 -25.4,0M536.0,495.3a12.7,12.7 0 1,0 25.4,0a12.7,12.7 0 1,0 -25.4,0M536.9,496.9a12.7,12.7 0 1,0 25.4,0a12.7,12.7 0 1,0 -25.4,0M537.8,493.6a12.7,12.7 0 1,0 25.4,0a12.7,12.7 0 1,0 -25.4,0M538.6,494.4a12.7,12.7 0 1,0 25.4,0a12.7,12.7 0 1,0 -25.4,0M539.5,497.9a12.7,12.7 0 1,0 25.4,0a12.7,12.7 0 1,0 -25.4,0M540.4,494.1a12.7,12.7 0 1,0 25.4,0a12.7,12.7 0 1,0 -25.4,0M541.3,498.5a12.7,12.7 0 1,0 25.4,0a12.7,12.7 0 1,0 -25.4,0M542.2,491.5a12.7,12.7 0 1,0 25.4,0a12.7,12.7 0 1,0 -25.4,0M543.0,491.9a12.7,12.7 0 1,0 25.4,0a12.7,12.7 0 1,0 -25.4,0M543.9,492.2a12.7,12.7 0 1,0 25.4,0a12.7,12.7 0 1,0 -25.4,0M544.8,497.6a12.7,12.7 0 1,0 25.4,0a12.7,12.7 0 1,0 -25.4,0M545.7,494.7a12.7,12.7 0 1,0 25.4,0a12.7,12.7 0 1,0 -25.4,0M546.6,497.1a12.7,12.7 0 1,0 25.4,0a12.7,12.7 0 1,0 -25.4,0M547.4,498.2a12.7,12.7 0 1,0 25.4,0a12.7,12.7 0 1,0 -25.4,0M548.3,498.4a12.7,12.7 0 1,0 25.4,0a12.7,12.7 0 1,0 -25.4,0M549.2,501.8a12.7,12.7 0 1,0 25.4,0a12.7,12.7 0 1,0 -25.4,0M550.1,502.5a12.7,12.7 0 1,0 25.4,0a12.7,12.7 0 1,0 -25.4,0M551.0,495.5a12.7,12.7 0 1,0 25.4,0a12.7,12.7 0 1,0 -25.4,0M551.8,499.0a12.7,12.7 0 1,0 25.4,0a12.7,12.7 0 1,0 -25.4,0M552.7,498.0a12.7,12.7 0 1,0 25.4,0a12.7,12.7 0 1,0 -25.4,0M553.6,495.7a12.7,12.7 0 1,0 25.4,0a12.7,12.7 0 1,0 -25.4,0M554.5,504.9a12.7,12.7 0 1,0 25.4,0a12.7,12.7 0 1,0 -25.4,0M555.4,502.1a12.7,12.7 0 1,0 25.4,0a12.7,12.7 0 1,0 -25.4,0M556.2,499.2a12.7,12.7 0 1,0 25.4,0a12.7,12.7 0 1,0 -25.4,0M557.1,498.8a12.7,12.7 0 1,0 25.4,0a12.7,12.7 0 1,0 -25.4,0M558.0,501.5a12.7,12.7 0 1,0 25.4,0a12.7,12.7 0 1,0 -25.4,0M558.9,497.2a12.7,12.7 0 1,0 25.4,0a12.7,12.7 0 1,0 -25.4,0M559.8,500.1a12.7,12.7 0 1,0 25.4,0a12.7,12.7 0 1,0 -25.4,0M560.6,505.0a12.7,12.7 0 1,0 25.4,0a12.7,12.7 0 1,0 -25.4,0M561.5,504.3a12.7,12.7 0 1,0 25.4,0a12.7,12.7 0 1,0 -25.4,0M562.4,498.9a12.7,12.7 0 1,0 25.4,0a12.7,12.7 0 1,0 -25.4,0M563.3,500.3a12.7,12.7 0 1,0 25.4,0a12.7,12.7 0 1,0 -25.4,0M564.2,508.2a12.7,12.7 0 1,0 25.4,0a12.7,12.7 0 1,0 -25.4,0M565.0,497.9a12.7,12.7 0 1,0 25.4,0a12.7,12.7 0 1,0 -25.4,0M565.9,500.6a12.7,12.7 0 1,0 25.4,0a12.7,12.7 0 1,0 -25.4,0M566.8,498.4a12.7,12.7 0 1,0 25.4,0a12.7,12.7 0 1,0 -25.4,0M567.7,504.2a12.7,12.7 0 1,0 25.4,0a12.7,12.7 0 1,0 -25.4,0M568.6,504.2a12.7,12.7 0 1,0 25.4,0a12.7,12.7 0 1,0 -25.4,0M569.4,507.1a12.7,12.7 0 1,0 25.4,0a12.7,12.7 0 1,0 -25.4,0M570.3,495.4a12.7,12.7 0 1,0 25.4,0a12.7,12.7 0 1,0 -25.4,0M571.2,504.4a12.7,12.7 0 1,0 25.4,0a12.7,12.7 0 1,0 -25.4,0M572.1,498.9a12.7,12.7 0 1,0 25.4,0a12.7,12.7 0 1,0 -25.4,0M573.0,506.4a12.7,12.7 0 1,0 25.4,0a12.7,12.7 0 1,0 -25.4,0M573.8,504.0a12.7,12.7 0 1,0 25.4,0a12.7,12.7 0 1,0 -25.4,0M574.7,510.2a12.7,12.7 0 1,0 25.4,0a12.7,12.7 0 1,0 -25.4,0M575.6,506.2a12.7,12.7 0 1,0 25.4,0a12.7,12.7 0 1,0 -25.4,0M576.5,501.9a12.7,12.7 0 1,0 25.4,0a12.7,12.7 0 1,0 -25.4,0M577.4,509.4a12.7,12.7 0 1,0 25.4,0a12.7,12.7 0 1,0 -25.4,0M578.2,502.0a12.7,12.7 0 1,0 25.4,0a12.7,12.7 0 1,0 -25.4,0M579.1,504.6a12.7,12.7 0 1,0 25.4,0a12.7,12.7 0 1,0 -25.4,0M580.0,509.3a12.7,12.7 0 1,0 25.4,0a12.7,12.7 0 1,0 -25.4,0M580.9,507.7a12.7,12.7 0 1,0 25.4,0a12.7,12.7 0 1,0 -25.4,0M581.8,507.8a12.7,12.7 0 1,0 25.4,0a12.7,12.7 0 1,0 -25.4,0M582.6,506.6a12.7,12.7 0 1,0 25.4,0a12.7,12.7 0 1,0 -25.4,0M583.5,508.4a12.7,12.7 0 1,0 25.4,0a12.7,12.7 0 1,0 -25.4,0M584.4,509.6a12.7,12.7 0 1,0 25.4,0a12.7,12.7 0 1,0 -25.4,0M585.3,508.0a12.7,12.7 0 1,0 25.4,0a12.7,12.7 0 1,0 -25.4,0M586.2,510.6a12.7,12.7 0 1,0 25.4,0a12.7,12.7 0 1,0 -25.4,0M587.0,511.6a12.7,12.7 0 1,0 25.4,0a12.7,12.7 0 1,0 -25.4,0M587.9,507.7a12.7,12.7 0 1,0 25.4,0a12.7,12.7 0 1,0 -25.4,0M588.8,504.9a12.7,12.7 0 1,0 25.4,0a12.7,12.7 0 1,0 -25.4,0M589.7,512.9a12.7,12.7 0 1,0 25.4,0a12.7,12.7 0 1,0 -25.4,0M590.5,508.1a12.7,12.7 0 1,0 25.4,0a12.7,12.7 0 1,0 -25.4,0M591.4,510.4a12.7,12.7 0 1,0 25.4,0a12.7,12.7 0 1,0 -25.4,0M592.3,511.6a12.7,12.7 0 1,0 25.4,0a12.7,12.7 0 1,0 -25.4,0M593.2,505.8a12.7,12.7 0 1,0 25.4,0a12.7,12.7 0 1,0 -25.4,0M594.1,510.4a12.7,12.7 0 1,0 25.4,0a12.7,12.7 0 1,0 -25.4,0M594.9,504.0a12.7,12.7 0 1,0 25.4,0a12.7,12.7 0 1,0 -25.4,0M595.8,511.6a12.7,12.7 0 1,0 25.4,0a12.7,12.7 0 1,0 -25.4,0M596.7,508.0a12.7,12.7 0 1,0 25.4,0a12.7,12.7 0 1,0 -25.4,0M597.6,510.1a12.7,12.7 0 1,0 25.4,0a12.7,12.7 0 1,0 -25.4,0M598.5,512.0a12.7,12.7 0 1,0 25.4,0a12.7,12.7 0 1,0 -25.4,0M599.3,507.8a12.7,12.7 0 1,0 25.4,0a12.7,12.7 0 1,0 -25.4,0M600.2,510.3a12.7,12.7 0 1,0 25.4,0a12.7,12.7 0 1,0 -25.4,0M601.1,508.0a12.7,12.7 0 1,0 25.4,0a12.7,12.7 0 1,0 -25.4,0M602.0,510.3a12.7,12.7 0 1,0 25.4,0a12.7,12.7 0 1,0 -25.4,0M602.9,513.8a12.7,12.7 0 1,0 25.4,0a12.7,12.7 0 1,0 -25.4,0M603.7,510.7a12.7,12.7 0 1,0 25.4,0a12.7,12.7 0 1,0 -25.4,0M604.6,510.4a12.7,12.7 0 1,0 25.4,0a12.7,12.7 0 1,0 -25.4,0M605.5,507.5a12.7,12.7 0 1,0 25.4,0a12.7,12.7 0 1,0 -25.4,0M606.4,513.8a12.7,12.7 0 1,0 25.4,0a12.7,12.7 0 1,0 -25.4,0M607.3,511.1a12.7,12.7 0 1,0 25.4,0a12.7,12.7 0 1,0 -25.4,0M608.1,516.7a12.7,12.7 0 1,0 25.4,0a12.7,12.7 0 1,0 -25.4,0M609.0,509.1a12.7,12.7 0 1,0 25.4,0a12.7,12.7 0 1,0 -25.4,0M609.9,514.9a12.7,12.7 0 1,0 25.4,0a12.7,12.7 0 1,0 -25.4,0M610.8,517.4a12.7,12.7 0 1,0 25.4,0a12.7,12.7 0 1,0 -25.4,0M611.7,511.8a12.7,12.7 0 1,0 25.4,0a12.7,12.7 0 1,0 -25.4,0M612.5,508.1a12.7,12.7 0 1,0 25.4,0a12.7,12.7 0 1,0 -25.4,0M613.4,516.8a12.7,12.7 0 1,0 25.4,0a12.7,12.7 0 1,0 -25.4,0M614.3,515.5a12.7,12.7 0 1,0 25.4,0a12.7,12.7 0 1,0 -25.4,0M615.2,514.5a12.7,12.7 0 1,0 25.4,0a12.7,12.7 0 1,0 -25.4,0M616.1,515.9a12.7,12.7 0 1,0 25.4,0a12.7,12.7 0 1,0 -25.4,0M616.9,511.1a12.7,12.7 0 1,0 25.4,0a12.7,12.7 0 1,0 -25.4,0M617.8,515.1a12.7,12.7 0 1,0 25.4,0a12.7,12.7 0 1,0 -25.4,0M618.7,514.9a12.7,12.7 0 1,0 25.4,0a12.7,12.7 0 1,0 -25.4,0M619.6,510.8a12.7,12.7 0 1,0 25.4,0a12.7,12.7 0 1,0 -25.4,0M620.5,515.3a12.7,12.7 0 1,0 25.4,0a12.7,12.7 0 1,0 -25.4,0M621.3,511.5a12.7,12.7 0 1,0 25.4,0a12.7,12.7 0 1,0 -25.4,0M622.2,516.2a12.7,12.7 0 1,0 25.4,0a12.7,12.7 0 1,0 -25.4,0M623.1,517.1a12.7,12.7 0 1,0 25.4,0a12.7,12.7 0 1,0 -25.4,0M624.0,519.2a12.7,12.7 0 1,0 25.4,0a12.7,12.7 0 1,0 -25.4,0M624.9,507.3a12.7,12.7 0 1,0 25.4,0a12.7,12.7 0 1,0 -25.4,0M625.7,514.5a12.7,12.7 0 1,0 25.4,0a12.7,12.7 0 1,0 -25.4,0M626.6,512.8a12.7,12.7 0 1,0 25.4,0a12.7,12.7 0 1,0 -25.4,0M627.5,513.8a12.7,12.7 0 1,0 25.4,0a12.7,12.7 0 1,0 -25.4,0M628.4,513.2a12.7,12.7 0 1,0 25.4,0a12.7,12.7 0 1,0 -25.4,0M629.3,513.7a12.7,12.7 0 1,0 25.4,0a12.7,12.7 0 1,0 -25.4,0M630.1,507.7a12.7,12.7 0 1,0 25.4,0a12.7,12.7 0 1,0 -25.4,0M631.0,517.5a12.7,12.7 0 1,0 25.4,0a12.7,12.7 0 1,0 -25.4,0M631.9,519.3a12.7,12.7 0 1,0 25.4,0a12.7,12.7 0 1,0 -25.4,0M632.8,517.6a12.7,12.7 0 1,0 25.4,0a12.7,12.7 0 1,0 -25.4,0M633.7,518.7a12.7,12.7 0 1,0 25.4,0a12.7,12.7 0 1,0 -25.4,0M634.5,512.0a12.7,12.7 0 1,0 25.4,0a12.7,12.7 0 1,0 -25.4,0M635.4,511.9a12.7,12.7 0 1,0 25.4,0a12.7,12.7 0 1,0 -25.4,0M636.3,517.8a12.7,12.7 0 1,0 25.4,0a12.7,12.7 0 1,0 -25.4,0M637.2,519.3a12.7,12.7 0 1,0 25.4,0a12.7,12.7 0 1,0 -25.4,0M638.1,516.0a12.7,12.7 0 1,0 25.4,0a12.7,12.7 0 1,0 -25.4,0M638.9,510.4a12.7,12.7 0 1,0 25.4,0a12.7,12.7 0 1,0 -25.4,0M639.8,524.2a12.7,12.7 0 1,0 25.4,0a12.7,12.7 0 1,0 -25.4,0M640.7,513.4a12.7,12.7 0 1,0 25.4,0a12.7,12.7 0 1,0 -25.4,0M641.6,518.7a12.7,12.7 0 1,0 25.4,0a12.7,12.7 0 1,0 -25.4,0M642.5,511.9a12.7,12.7 0 1,0 25.4,0a12.7,12.7 0 1,0 -25.4,0M643.3,518.9a12.7,12.7 0 1,0 25.4,0a12.7,12.7 0 1,0 -25.4,0M644.2,516.4a12.7,12.7 0 1,0 25.4,0a12.7,12.7 0 1,0 -25.4,0M645.1,520.4a12.7,12.7 0 1,0 25.4,0a12.7,12.7 0 1,0 -25.4,0M646.0,518.8a12.7,12.7 0 1,0 25.4,0a12.7,12.7 0 1,0 -25.4,0M646.8,511.1a12.7,12.7 0 1,0 25.4,0a12.7,12.7 0 1,0 -25.4,0M647.7,513.1a12.7,12.7 0 1,0 25.4,0a12.7,12.7 0 1,0 -25.4,0M648.6,517.1a12.7,12.7 0 1,0 25.4,0a12.7,12.7 0 1,0 -25.4,0M649.5,518.7a12.7,12.7 0 1,0 25.4,0a12.7,12.7 0 1,0 -25.4,0M650.4,522.2a12.7,12.7 0 1,0 25.4,0a12.7,12.7 0 1,0 -25.4,0M651.2,517.3a12.7,12.7 0 1,0 25.4,0a12.7,12.7 0 1,0 -25.4,0M652.1,516.2a12.7,12.7 0 1,0 25.4,0a12.7,12.7 0 1,0 -25.4,0M653.0,516.5a12.7,12.7 0 1,0 25.4,0a12.7,12.7 0 1,0 -25.4,0M653.9,516.6a12.7,12.7 0 1,0 25.4,0a12.7,12.7 0 1,0 -25.4,0M654.8,520.0a12.7,12.7 0 1,0 25.4,0a12.7,12.7 0 1,0 -25.4,0M655.6,516.6a12.7,12.7 0 1,0 25.4,0a12.7,12.7 0 1,0 -25.4,0M656.5,516.6a12.7,12.7 0 1,0 25.4,0a12.7,12.7 0 1,0 -25.4,0M657.4,512.3a12.7,12.7 0 1,0 25.4,0a12.7,12.7 0 1,0 -25.4,0M658.3,510.5a12.7,12.7 0 1,0 25.4,0a12.7,12.7 0 1,0 -25.4,0M659.2,517.1a12.7,12.7 0 1,0 25.4,0a12.7,12.7 0 1,0 -25.4,0M660.0,519.3a12.7,12.7 0 1,0 25.4,0a12.7,12.7 0 1,0 -25.4,0M660.9,517.0a12.7,12.7 0 1,0 25.4,0a12.7,12.7 0 1,0 -25.4,0M661.8,518.9a12.7,12.7 0 1,0 25.4,0a12.7,12.7 0 1,0 -25.4,0M662.7,519.4a12.7,12.7 0 1,0 25.4,0a12.7,12.7 0 1,0 -25.4,0M663.6,517.2a12.7,12.7 0 1,0 25.4,0a12.7,12.7 0 1,0 -25.4,0M664.4,520.5a12.7,12.7 0 1,0 25.4,0a12.7,12.7 0 1,0 -25.4,0M665.3,515.2a12.7,12.7 0 1,0 25.4,0a12.7,12.7 0 1,0 -25.4,0M666.2,517.5a12.7,12.7 0 1,0 25.4,0a12.7,12.7 0 1,0 -25.4,0M667.1,516.5a12.7,12.7 0 1,0 25.4,0a12.7,12.7 0 1,0 -25.4,0M668.0,517.9a12.7,12.7 0 1,0 25.4,0a12.7,12.7 0 1,0 -25.4,0M668.8,519.8a12.7,12.7 0 1,0 25.4,0a12.7,12.7 0 1,0 -25.4,0M669.7,520.5a12.7,12.7 0 1,0 25.4,0a12.7,12.7 0 1,0 -25.4,0M670.6,518.3a12.7,12.7 0 1,0 25.4,0a12.7,12.7 0 1,0 -25.4,0M671.5,519.4a12.7,12.7 0 1,0 25.4,0a12.7,12.7 0 1,0 -25.4,0M672.4,516.9a12.7,12.7 0 1,0 25.4,0a12.7,12.7 0 1,0 -25.4,0M673.2,517.7a12.7,12.7 0 1,0 25.4,0a12.7,12.7 0 1,0 -25.4,0M674.1,522.2a12.7,12.7 0 1,0 25.4,0a12.7,12.7 0 1,0 -25.4,0M675.0,517.6a12.7,12.7 0 1,0 25.4,0a12.7,12.7 0 1,0 -25.4,0M675.9,522.2a12.7,12.7 0 1,0 25.4,0a12.7,12.7 0 1,0 -25.4,0M676.8,519.9a12.7,12.7 0 1,0 25.4,0a12.7,12.7 0 1,0 -25.4,0M677.6,518.9a12.7,12.7 0 1,0 25.4,0a12.7,12.7 0 1,0 -25.4,0M678.5,524.8a12.7,12.7 0 1,0 25.4,0a12.7,12.7 0 1,0 -25.4,0M679.4,517.8a12.7,12.7 0 1,0 25.4,0a12.7,12.7 0 1,0 -25.4,0M680.3,517.6a12.7,12.7 0 1,0 25.4,0a12.7,12.7 0 1,0 -25.4,0M681.2,518.7a12.7,12.7 0 1,0 25.4,0a12.7,12.7 0 1,0 -25.4,0M682.0,519.6a12.7,12.7 0 1,0 25.4,0a12.7,12.7 0 1,0 -25.4,0M682.9,519.5a12.7,12.7 0 1,0 25.4,0a12.7,12.7 0 1,0 -25.4,0M683.8,521.5a12.7,12.7 0 1,0 25.4,0a12.7,12.7 0 1,0 -25.4,0M684.7,519.2a12.7,12.7 0 1,0 25.4,0a12.7,12.7 0 1,0 -25.4,0M685.6,520.2a12.7,12.7 0 1,0 25.4,0a12.7,12.7 0 1,0 -25.4,0M686.4,518.1a12.7,12.7 0 1,0 25.4,0a12.7,12.7 0 1,0 -25.4,0M687.3,522.4a12.7,12.7 0 1,0 25.4,0a12.7,12.7 0 1,0 -25.4,0M688.2,517.8a12.7,12.7 0 1,0 25.4,0a12.7,12.7 0 1,0 -25.4,0M689.1,518.1a12.7,12.7 0 1,0 25.4,0a12.7,12.7 0 1,0 -25.4,0M690.0,519.1a12.7,12.7 0 1,0 25.4,0a12.7,12.7 0 1,0 -25.4,0M690.8,520.1a12.7,12.7 0 1,0 25.4,0a12.7,12.7 0 1,0 -25.4,0M691.7,516.9a12.7,12.7 0 1,0 25.4,0a12.7,12.7 0 1,0 -25.4,0M692.6,524.2a12.7,12.7 0 1,0 25.4,0a12.7,12.7 0 1,0 -25.4,0M693.5,517.3a12.7,12.7 0 1,0 25.4,0a12.7,12.7 0 1,0 -25.4,0M694.4,518.1a12.7,12.7 0 1,0 25.4,0a12.7,12.7 0 1,0 -25.4,0M695.2,518.0a12.7,12.7 0 1,0 25.4,0a12.7,12.7 0 1,0 -25.4,0M696.1,517.7a12.7,12.7 0 1,0 25.4,0a12.7,12.7 0 1,0 -25.4,0M697.0,521.1a12.7,12.7 0 1,0 25.4,0a12.7,12.7 0 1,0 -25.4,0M697.9,519.9a12.7,12.7 0 1,0 25.4,0a12.7,12.7 0 1,0 -25.4,0M698.7,517.0a12.7,12.7 0 1,0 25.4,0a12.7,12.7 0 1,0 -25.4,0M699.6,517.7a12.7,12.7 0 1,0 25.4,0a12.7,12.7 0 1,0 -25.4,0M700.5,518.5a12.7,12.7 0 1,0 25.4,0a12.7,12.7 0 1,0 -25.4,0M701.4,524.1a12.7,12.7 0 1,0 25.4,0a12.7,12.7 0 1,0 -25.4,0M702.3,517.5a12.7,12.7 0 1,0 25.4,0a12.7,12.7 0 1,0 -25.4,0M703.1,515.4a12.7,12.7 0 1,0 25.4,0a12.7,12.7 0 1,0 -25.4,0M704.0,516.0a12.7,12.7 0 1,0 25.4,0a12.7,12.7 0 1,0 -25.4,0M704.9,518.6a12.7,12.7 0 1,0 25.4,0a12.7,12.7 0 1,0 -25.4,0M705.8,524.4a12.7,12.7 0 1,0 25.4,0a12.7,12.7 0 1,0 -25.4,0M706.7,516.3a12.7,12.7 0 1,0 25.4,0a12.7,12.7 0 1,0 -25.4,0M707.5,519.9a12.7,12.7 0 1,0 25.4,0a12.7,12.7 0 1,0 -25.4,0M708.4,527.7a12.7,12.7 0 1,0 25.4,0a12.7,12.7 0 1,0 -25.4,0M709.3,518.3a12.7,12.7 0 1,0 25.4,0a12.7,12.7 0 1,0 -25.4,0M710.2,524.4a12.7,12.7 0 1,0 25.4,0a12.7,12.7 0 1,0 -25.4,0M711.1,523.8a12.7,12.7 0 1,0 25.4,0a12.7,12.7 0 1,0 -25.4,0M711.9,521.7a12.7,12.7 0 1,0 25.4,0a12.7,12.7 0 1,0 -25.4,0M712.8,515.5a12.7,12.7 0 1,0 25.4,0a12.7,12.7 0 1,0 -25.4,0M713.7,520.9a12.7,12.7 0 1,0 25.4,0a12.7,12.7 0 1,0 -25.4,0M714.6,518.8a12.7,12.7 0 1,0 25.4,0a12.7,12.7 0 1,0 -25.4,0M715.5,514.0a12.7,12.7 0 1,0 25.4,0a12.7,12.7 0 1,0 -25.4,0M716.3,514.6a12.7,12.7 0 1,0 25.4,0a12.7,12.7 0 1,0 -25.4,0M717.2,520.1a12.7,12.7 0 1,0 25.4,0a12.7,12.7 0 1,0 -25.4,0M718.1,520.6a12.7,12.7 0 1,0 25.4,0a12.7,12.7 0 1,0 -25.4,0M719.0,524.0a12.7,12.7 0 1,0 25.4,0a12.7,12.7 0 1,0 -25.4,0M719.9,522.2a12.7,12.7 0 1,0 25.4,0a12.7,12.7 0 1,0 -25.4,0M720.7,518.5a12.7,12.7 0 1,0 25.4,0a12.7,12.7 0 1,0 -25.4,0M721.6,518.7a12.7,12.7 0 1,0 25.4,0a12.7,12.7 0 1,0 -25.4,0M722.5,519.6a12.7,12.7 0 1,0 25.4,0a12.7,12.7 0 1,0 -25.4,0M723.4,516.8a12.7,12.7 0 1,0 25.4,0a12.7,12.7 0 1,0 -25.4,0M724.3,522.6a12.7,12.7 0 1,0 25.4,0a12.7,12.7 0 1,0 -25.4,0M725.1,520.2a12.7,12.7 0 1,0 25.4,0a12.7,12.7 0 1,0 -25.4,0M726.0,517.7a12.7,12.7 0 1,0 25.4,0a12.7,12.7 0 1,0 -25.4,0M726.9,518.2a12.7,12.7 0 1,0 25.4,0a12.7,12.7 0 1,0 -25.4,0M727.8,516.6a12.7,12.7 0 1,0 25.4,0a12.7,12.7 0 1,0 -25.4,0M728.7,518.9a12.7,12.7 0 1,0 25.4,0a12.7,12.7 0 1,0 -25.4,0M729.5,521.2a12.7,12.7 0 1,0 25.4,0a12.7,12.7 0 1,0 -25.4,0M730.4,519.0a12.7,12.7 0 1,0 25.4,0a12.7,12.7 0 1,0 -25.4,0M731.3,523.5a12.7,12.7 0 1,0 25.4,0a12.7,12.7 0 1,0 -25.4,0M732.2,525.6a12.7,12.7 0 1,0 25.4,0a12.7,12.7 0 1,0 -25.4,0M733.1,518.4a12.7,12.7 0 1,0 25.4,0a12.7,12.7 0 1,0 -25.4,0M733.9,520.5a12.7,12.7 0 1,0 25.4,0a12.7,12.7 0 1,0 -25.4,0M734.8,519.3a12.7,12.7 0 1,0 25.4,0a12.7,12.7 0 1,0 -25.4,0M735.7,525.9a12.7,12.7 0 1,0 25.4,0a12.7,12.7 0 1,0 -25.4,0M736.6,521.6a12.7,12.7 0 1,0 25.4,0a12.7,12.7 0 1,0 -25.4,0M737.5,522.4a12.7,12.7 0 1,0 25.4,0a12.7,12.7 0 1,0 -25.4,0M738.3,523.3a12.7,12.7 0 1,0 25.4,0a12.7,12.7 0 1,0 -25.4,0M739.2,527.8a12.7,12.7 0 1,0 25.4,0a12.7,12.7 0 1,0 -25.4,0M740.1,521.6a12.7,12.7 0 1,0 25.4,0a12.7,12.7 0 1,0 -25.4,0M741.0,517.6a12.7,12.7 0 1,0 25.4,0a12.7,12.7 0 1,0 -25.4,0M741.9,519.3a12.7,12.7 0 1,0 25.4,0a12.7,12.7 0 1,0 -25.4,0M742.7,522.5a12.7,12.7 0 1,0 25.4,0a12.7,12.7 0 1,0 -25.4,0M743.6,520.6a12.7,12.7 0 1,0 25.4,0a12.7,12.7 0 1,0 -25.4,0M744.5,518.1a12.7,12.7 0 1,0 25.4,0a12.7,12.7 0 1,0 -25.4,0M745.4,529.6a12.7,12.7 0 1,0 25.4,0a12.7,12.7 0 1,0 -25.4,0M746.3,521.1a12.7,12.7 0 1,0 25.4,0a12.7,12.7 0 1,0 -25.4,0M747.1,518.9a12.7,12.7 0 1,0 25.4,0a12.7,12.7 0 1,0 -25.4,0M748.0,518.5a12.7,12.7 0 1,0 25.4,0a12.7,12.7 0 1,0 -25.4,0M748.9,515.2a12.7,12.7 0 1,0 25.4,0a12.7,12.7 0 1,0 -25.4,0M749.8,517.0a12.7,12.7 0 1,0 25.4,0a12.7,12.7 0 1,0 -25.4,0M750.6,519.7a12.7,12.7 0 1,0 25.4,0a12.7,12.7 0 1,0 -25.4,0M751.5,519.8a12.7,12.7 0 1,0 25.4,0a12.7,12.7 0 1,0 -25.4,0M752.4,518.2a12.7,12.7 0 1,0 25.4,0a12.7,12.7 0 1,0 -25.4,0M753.3,522.6a12.7,12.7 0 1,0 25.4,0a12.7,12.7 0 1,0 -25.4,0M754.2,521.0a12.7,12.7 0 1,0 25.4,0a12.7,12.7 0 1,0 -25.4,0M755.0,517.9a12.7,12.7 0 1,0 25.4,0a12.7,12.7 0 1,0 -25.4,0M755.9,514.5a12.7,12.7 0 1,0 25.4,0a12.7,12.7 0 1,0 -25.4,0M756.8,521.4a12.7,12.7 0 1,0 25.4,0a12.7,12.7 0 1,0 -25.4,0M757.7,521.1a12.7,12.7 0 1,0 25.4,0a12.7,12.7 0 1,0 -25.4,0M758.6,520.3a12.7,12.7 0 1,0 25.4,0a12.7,12.7 0 1,0 -25.4,0M759.4,516.6a12.7,12.7 0 1,0 25.4,0a12.7,12.7 0 1,0 -25.4,0M760.3,521.1a12.7,12.7 0 1,0 25.4,0a12.7,12.7 0 1,0 -25.4,0M761.2,516.2a12.7,12.7 0 1,0 25.4,0a12.7,12.7 0 1,0 -25.4,0M762.1,524.2a12.7,12.7 0 1,0 25.4,0a12.7,12.7 0 1,0 -25.4,0M763.0,521.6a12.7,12.7 0 1,0 25.4,0a12.7,12.7 0 1,0 -25.4,0M763.8,521.7a12.7,12.7 0 1,0 25.4,0a12.7,12.7 0 1,0 -25.4,0M764.7,518.5a12.7,12.7 0 1,0 25.4,0a12.7,12.7 0 1,0 -25.4,0M765.6,517.6a12.7,12.7 0 1,0 25.4,0a12.7,12.7 0 1,0 -25.4,0M766.5,526.0a12.7,12.7 0 1,0 25.4,0a12.7,12.7 0 1,0 -25.4,0M767.4,524.1a12.7,12.7 0 1,0 25.4,0a12.7,12.7 0 1,0 -25.4,0M768.2,520.0a12.7,12.7 0 1,0 25.4,0a12.7,12.7 0 1,0 -25.4,0M769.1,523.3a12.7,12.7 0 1,0 25.4,0a12.7,12.7 0 1,0 -25.4,0M770.0,526.1a12.7,12.7 0 1,0 25.4,0a12.7,12.7 0 1,0 -25.4,0M770.9,517.8a12.7,12.7 0 1,0 25.4,0a12.7,12.7 0 1,0 -25.4,0M771.8,519.6a12.7,12.7 0 1,0 25.4,0a12.7,12.7 0 1,0 -25.4,0M772.6,519.6a12.7,12.7 0 1,0 25.4,0a12.7,12.7 0 1,0 -25.4,0M773.5,522.8a12.7,12.7 0 1,0 25.4,0a12.7,12.7 0 1,0 -25.4,0M774.4,517.9a12.7,12.7 0 1,0 25.4,0a12.7,12.7 0 1,0 -25.4,0M775.3,522.0a12.7,12.7 0 1,0 25.4,0a12.7,12.7 0 1,0 -25.4,0M776.2,517.7a12.7,12.7 0 1,0 25.4,0a12.7,12.7 0 1,0 -25.4,0M777.0,524.2a12.7,12.7 0 1,0 25.4,0a12.7,12.7 0 1,0 -25.4,0M777.9,524.1a12.7,12.7 0 1,0 25.4,0a12.7,12.7 0 1,0 -25.4,0M778.8,520.6a12.7,12.7 0 1,0 25.4,0a12.7,12.7 0 1,0 -25.4,0M779.7,523.6a12.7,12.7 0 1,0 25.4,0a12.7,12.7 0 1,0 -25.4,0M780.6,519.1a12.7,12.7 0 1,0 25.4,0a12.7,12.7 0 1,0 -25.4,0M781.4,520.5a12.7,12.7 0 1,0 25.4,0a12.7,12.7 0 1,0 -25.4,0M782.3,524.4a12.7,12.7 0 1,0 25.4,0a12.7,12.7 0 1,0 -25.4,0M783.2,521.1a12.7,12.7 0 1,0 25.4,0a12.7,12.7 0 1,0 -25.4,0M784.1,522.5a12.7,12.7 0 1,0 25.4,0a12.7,12.7 0 1,0 -25.4,0M785.0,518.4a12.7,12.7 0 1,0 25.4,0a12.7,12.7 0 1,0 -25.4,0M785.8,523.5a12.7,12.7 0 1,0 25.4,0a12.7,12.7 0 1,0 -25.4,0M786.7,522.8a12.7,12.7 0 1,0 25.4,0a12.7,12.7 0 1,0 -25.4,0M787.6,517.5a12.7,12.7 0 1,0 25.4,0a12.7,12.7 0 1,0 -25.4,0M788.5,514.1a12.7,12.7 0 1,0 25.4,0a12.7,12.7 0 1,0 -25.4,0M789.4,514.9a12.7,12.7 0 1,0 25.4,0a12.7,12.7 0 1,0 -25.4,0M790.2,521.2a12.7,12.7 0 1,0 25.4,0a12.7,12.7 0 1,0 -25.4,0M791.1,520.8a12.7,12.7 0 1,0 25.4,0a12.7,12.7 0 1,0 -25.4,0M792.0,516.5a12.7,12.7 0 1,0 25.4,0a12.7,12.7 0 1,0 -25.4,0M792.9,521.9a12.7,12.7 0 1,0 25.4,0a12.7,12.7 0 1,0 -25.4,0M793.8,524.7a12.7,12.7 0 1,0 25.4,0a12.7,12.7 0 1,0 -25.4,0M794.6,521.1a12.7,12.7 0 1,0 25.4,0a12.7,12.7 0 1,0 -25.4,0M795.5,520.0a12.7,12.7 0 1,0 25.4,0a12.7,12.7 0 1,0 -25.4,0M796.4,524.2a12.7,12.7 0 1,0 25.4,0a12.7,12.7 0 1,0 -25.4,0M797.3,526.9a12.7,12.7 0 1,0 25.4,0a12.7,12.7 0 1,0 -25.4,0M798.2,526.2a12.7,12.7 0 1,0 25.4,0a12.7,12.7 0 1,0 -25.4,0M799.0,519.4a12.7,12.7 0 1,0 25.4,0a12.7,12.7 0 1,0 -25.4,0M799.9,524.1a12.7,12.7 0 1,0 25.4,0a12.7,12.7 0 1,0 -25.4,0M800.8,522.0a12.7,12.7 0 1,0 25.4,0a12.7,12.7 0 1,0 -25.4,0M801.7,520.9a12.7,12.7 0 1,0 25.4,0a12.7,12.7 0 1,0 -25.4,0M802.5,519.6a12.7,12.7 0 1,0 25.4,0a12.7,12.7 0 1,0 -25.4,0M803.4,522.7a12.7,12.7 0 1,0 25.4,0a12.7,12.7 0 1,0 -25.4,0M804.3,520.0a12.7,12.7 0 1,0 25.4,0a12.7,12.7 0 1,0 -25.4,0M805.2,524.5a12.7,12.7 0 1,0 25.4,0a12.7,12.7 0 1,0 -25.4,0M806.1,522.8a12.7,12.7 0 1,0 25.4,0a12.7,12.7 0 1,0 -25.4,0M806.9,525.0a12.7,12.7 0 1,0 25.4,0a12.7,12.7 0 1,0 -25.4,0M807.8,518.0a12.7,12.7 0 1,0 25.4,0a12.7,12.7 0 1,0 -25.4,0M808.7,521.8a12.7,12.7 0 1,0 25.4,0a12.7,12.7 0 1,0 -25.4,0M809.6,524.1a12.7,12.7 0 1,0 25.4,0a12.7,12.7 0 1,0 -25.4,0M810.5,522.8a12.7,12.7 0 1,0 25.4,0a12.7,12.7 0 1,0 -25.4,0M811.3,522.4a12.7,12.7 0 1,0 25.4,0a12.7,12.7 0 1,0 -25.4,0M812.2,519.4a12.7,12.7 0 1,0 25.4,0a12.7,12.7 0 1,0 -25.4,0M813.1,526.9a12.7,12.7 0 1,0 25.4,0a12.7,12.7 0 1,0 -25.4,0M814.0,525.1a12.7,12.7 0 1,0 25.4,0a12.7,12.7 0 1,0 -25.4,0M814.9,523.0a12.7,12.7 0 1,0 25.4,0a12.7,12.7 0 1,0 -25.4,0M815.7,513.5a12.7,12.7 0 1,0 25.4,0a12.7,12.7 0 1,0 -25.4,0M816.6,518.6a12.7,12.7 0 1,0 25.4,0a12.7,12.7 0 1,0 -25.4,0M817.5,522.1a12.7,12.7 0 1,0 25.4,0a12.7,12.7 0 1,0 -25.4,0M818.4,519.4a12.7,12.7 0 1,0 25.4,0a12.7,12.7 0 1,0 -25.4,0M819.3,515.1a12.7,12.7 0 1,0 25.4,0a12.7,12.7 0 1,0 -25.4,0M820.1,522.5a12.7,12.7 0 1,0 25.4,0a12.7,12.7 0 1,0 -25.4,0M821.0,523.0a12.7,12.7 0 1,0 25.4,0a12.7,12.7 0 1,0 -25.4,0M821.9,517.8a12.7,12.7 0 1,0 25.4,0a12.7,12.7 0 1,0 -25.4,0M822.8,520.2a12.7,12.7 0 1,0 25.4,0a12.7,12.7 0 1,0 -25.4,0M823.7,519.6a12.7,12.7 0 1,0 25.4,0a12.7,12.7 0 1,0 -25.4,0M824.5,523.5a12.7,12.7 0 1,0 25.4,0a12.7,12.7 0 1,0 -25.4,0M825.4,515.5a12.7,12.7 0 1,0 25.4,0a12.7,12.7 0 1,0 -25.4,0M826.3,516.3a12.7,12.7 0 1,0 25.4,0a12.7,12.7 0 1,0 -25.4,0M827.2,520.0a12.7,12.7 0 1,0 25.4,0a12.7,12.7 0 1,0 -25.4,0M828.1,519.6a12.7,12.7 0 1,0 25.4,0a12.7,12.7 0 1,0 -25.4,0M828.9,528.5a12.7,12.7 0 1,0 25.4,0a12.7,12.7 0 1,0 -25.4,0M829.8,519.8a12.7,12.7 0 1,0 25.4,0a12.7,12.7 0 1,0 -25.4,0M830.7,522.5a12.7,12.7 0 1,0 25.4,0a12.7,12.7 0 1,0 -25.4,0M831.6,520.5a12.7,12.7 0 1,0 25.4,0a12.7,12.7 0 1,0 -25.4,0M832.5,519.7a12.7,12.7 0 1,0 25.4,0a12.7,12.7 0 1,0 -25.4,0M833.3,523.0a12.7,12.7 0 1,0 25.4,0a12.7,12.7 0 1,0 -25.4,0M834.2,527.4a12.7,12.7 0 1,0 25.4,0a12.7,12.7 0 1,0 -25.4,0M835.1,520.7a12.7,12.7 0 1,0 25.4,0a12.7,12.7 0 1,0 -25.4,0M836.0,524.3a12.7,12.7 0 1,0 25.4,0a12.7,12.7 0 1,0 -25.4,0M836.9,523.0a12.7,12.7 0 1,0 25.4,0a12.7,12.7 0 1,0 -25.4,0M837.7,523.9a12.7,12.7 0 1,0 25.4,0a12.7,12.7 0 1,0 -25.4,0M838.6,523.0a12.7,12.7 0 1,0 25.4,0a12.7,12.7 0 1,0 -25.4,0M839.5,529.5a12.7,12.7 0 1,0 25.4,0a12.7,12.7 0 1,0 -25.4,0M840.4,518.0a12.7,12.7 0 1,0 25.4,0a12.7,12.7 0 1,0 -25.4,0M841.3,521.1a12.7,12.7 0 1,0 25.4,0a12.7,12.7 0 1,0 -25.4,0M842.1,518.3a12.7,12.7 0 1,0 25.4,0a12.7,12.7 0 1,0 -25.4,0M843.0,515.5a12.7,12.7 0 1,0 25.4,0a12.7,12.7 0 1,0 -25.4,0M843.9,521.9a12.7,12.7 0 1,0 25.4,0a12.7,12.7 0 1,0 -25.4,0M844.8,527.9a12.7,12.7 0 1,0 25.4,0a12.7,12.7 0 1,0 -25.4,0M845.7,524.9a12.7,12.7 0 1,0 25.4,0a12.7,12.7 0 1,0 -25.4,0M846.5,525.9a12.7,12.7 0 1,0 25.4,0a12.7,12.7 0 1,0 -25.4,0M847.4,523.6a12.7,12.7 0 1,0 25.4,0a12.7,12.7 0 1,0 -25.4,0M848.3,521.7a12.7,12.7 0 1,0 25.4,0a12.7,12.7 0 1,0 -25.4,0M849.2,528.5a12.7,12.7 0 1,0 25.4,0a12.7,12.7 0 1,0 -25.4,0M850.1,520.9a12.7,12.7 0 1,0 25.4,0a12.7,12.7 0 1,0 -25.4,0M850.9,526.9a12.7,12.7 0 1,0 25.4,0a12.7,12.7 0 1,0 -25.4,0M851.8,521.0a12.7,12.7 0 1,0 25.4,0a12.7,12.7 0 1,0 -25.4,0M852.7,522.4a12.7,12.7 0 1,0 25.4,0a12.7,12.7 0 1,0 -25.4,0M853.6,523.1a12.7,12.7 0 1,0 25.4,0a12.7,12.7 0 1,0 -25.4,0M854.5,522.3a12.7,12.7 0 1,0 25.4,0a12.7,12.7 0 1,0 -25.4,0M855.3,523.8a12.7,12.7 0 1,0 25.4,0a12.7,12.7 0 1,0 -25.4,0M856.2,524.0a12.7,12.7 0 1,0 25.4,0a12.7,12.7 0 1,0 -25.4,0M857.1,527.5a12.7,12.7 0 1,0 25.4,0a12.7,12.7 0 1,0 -25.4,0M858.0,522.2a12.7,12.7 0 1,0 25.4,0a12.7,12.7 0 1,0 -25.4,0M858.8,516.0a12.7,12.7 0 1,0 25.4,0a12.7,12.7 0 1,0 -25.4,0M859.7,515.6a12.7,12.7 0 1,0 25.4,0a12.7,12.7 0 1,0 -25.4,0M860.6,517.8a12.7,12.7 0 1,0 25.4,0a12.7,12.7 0 1,0 -25.4,0M861.5,519.8a12.7,12.7 0 1,0 25.4,0a12.7,12.7 0 1,0 -25.4,0M862.4,524.3a12.7,12.7 0 1,0 25.4,0a12.7,12.7 0 1,0 -25.4,0M863.2,517.4a12.7,12.7 0 1,0 25.4,0a12.7,12.7 0 1,0 -25.4,0M864.1,522.3a12.7,12.7 0 1,0 25.4,0a12.7,12.7 0 1,0 -25.4,0M865.0,522.3a12.7,12.7 0 1,0 25.4,0a12.7,12.7 0 1,0 -25.4,0M865.9,523.0a12.7,12.7 0 1,0 25.4,0a12.7,12.7 0 1,0 -25.4,0M866.8,521.8a12.7,12.7 0 1,0 25.4,0a12.7,12.7 0 1,0 -25.4,0M867.6,523.5a12.7,12.7 0 1,0 25.4,0a12.7,12.7 0 1,0 -25.4,0M868.5,522.4a12.7,12.7 0 1,0 25.4,0a12.7,12.7 0 1,0 -25.4,0M869.4,525.7a12.7,12.7 0 1,0 25.4,0a12.7,12.7 0 1,0 -25.4,0M870.3,523.3a12.7,12.7 0 1,0 25.4,0a12.7,12.7 0 1,0 -25.4,0M871.2,514.7a12.7,12.7 0 1,0 25.4,0a12.7,12.7 0 1,0 -25.4,0M872.0,522.4a12.7,12.7 0 1,0 25.4,0a12.7,12.7 0 1,0 -25.4,0M872.9,522.9a12.7,12.7 0 1,0 25.4,0a12.7,12.7 0 1,0 -25.4,0M873.8,520.4a12.7,12.7 0 1,0 25.4,0a12.7,12.7 0 1,0 -25.4,0M874.7,519.8a12.7,12.7 0 1,0 25.4,0a12.7,12.7 0 1,0 -25.4,0M875.6,525.8a12.7,12.7 0 1,0 25.4,0a12.7,12.7 0 1,0 -25.4,0M876.4,522.8a12.7,12.7 0 1,0 25.4,0a12.7,12.7 0 1,0 -25.4,0M877.3,519.1a12.7,12.7 0 1,0 25.4,0a12.7,12.7 0 1,0 -25.4,0M878.2,521.3a12.7,12.7 0 1,0 25.4,0a12.7,12.7 0 1,0 -25.4,0M879.1,521.8a12.7,12.7 0 1,0 25.4,0a12.7,12.7 0 1,0 -25.4,0M880.0,517.1a12.7,12.7 0 1,0 25.4,0a12.7,12.7 0 1,0 -25.4,0M880.8,524.4a12.7,12.7 0 1,0 25.4,0a12.7,12.7 0 1,0 -25.4,0M881.7,521.9a12.7,12.7 0 1,0 25.4,0a12.7,12.7 0 1,0 -25.4,0M882.6,523.9a12.7,12.7 0 1,0 25.4,0a12.7,12.7 0 1,0 -25.4,0M883.5,517.3a12.7,12.7 0 1,0 25.4,0a12.7,12.7 0 1,0 -25.4,0M884.4,528.5a12.7,12.7 0 1,0 25.4,0a12.7,12.7 0 1,0 -25.4,0M885.2,524.4a12.7,12.7 0 1,0 25.4,0a12.7,12.7 0 1,0 -25.4,0M886.1,523.9a12.7,12.7 0 1,0 25.4,0a12.7,12.7 0 1,0 -25.4,0M887.0,520.0a12.7,12.7 0 1,0 25.4,0a12.7,12.7 0 1,0 -25.4,0M887.9,520.2a12.7,12.7 0 1,0 25.4,0a12.7,12.7 0 1,0 -25.4,0M888.8,517.6a12.7,12.7 0 1,0 25.4,0a12.7,12.7 0 1,0 -25.4,0M889.6,527.3a12.7,12.7 0 1,0 25.4,0a12.7,12.7 0 1,0 -25.4,0M890.5,519.7a12.7,12.7 0 1,0 25.4,0a12.7,12.7 0 1,0 -25.4,0M891.4,523.2a12.7,12.7 0 1,0 25.4,0a12.7,12.7 0 1,0 -25.4,0M892.3,524.4a12.7,12.7 0 1,0 25.4,0a12.7,12.7 0 1,0 -25.4,0M893.2,520.4a12.7,12.7 0 1,0 25.4,0a12.7,12.7 0 1,0 -25.4,0M894.0,525.2a12.7,12.7 0 1,0 25.4,0a12.7,12.7 0 1,0 -25.4,0M894.9,529.0a12.7,12.7 0 1,0 25.4,0a12.7,12.7 0 1,0 -25.4,0M895.8,523.4a12.7,12.7 0 1,0 25.4,0a12.7,12.7 0 1,0 -25.4,0M896.7,527.1a12.7,12.7 0 1,0 25.4,0a12.7,12.7 0 1,0 -25.4,0M897.6,524.3a12.7,12.7 0 1,0 25.4,0a12.7,12.7 0 1,0 -25.4,0M898.4,521.0a12.7,12.7 0 1,0 25.4,0a12.7,12.7 0 1,0 -25.4,0M899.3,521.2a12.7,12.7 0 1,0 25.4,0a12.7,12.7 0 1,0 -25.4,0M900.2,517.0a12.7,12.7 0 1,0 25.4,0a12.7,12.7 0 1,0 -25.4,0M901.1,522.9a12.7,12.7 0 1,0 25.4,0a12.7,12.7 0 1,0 -25.4,0M902.0,527.2a12.7,12.7 0 1,0 25.4,0a12.7,12.7 0 1,0 -25.4,0M902.8,524.7a12.7,12.7 0 1,0 25.4,0a12.7,12.7 0 1,0 -25.4,0M903.7,525.2a12.7,12.7 0 1,0 25.4,0a12.7,12.7 0 1,0 -25.4,0M904.6,526.2a12.7,12.7 0 1,0 25.4,0a12.7,12.7 0 1,0 -25.4,0M905.5,520.8a12.7,12.7 0 1,0 25.4,0a12.7,12.7 0 1,0 -25.4,0M906.4,524.4a12.7,12.7 0 1,0 25.4,0a12.7,12.7 0 1,0 -25.4,0M907.2,528.7a12.7,12.7 0 1,0 25.4,0a12.7,12.7 0 1,0 -25.4,0M908.1,520.0a12.7,12.7 0 1,0 25.4,0a12.7,12.7 0 1,0 -25.4,0M909.0,522.6a12.7,12.7 0 1,0 25.4,0a12.7,12.7 0 1,0 -25.4,0M909.9,521.1a12.7,12.7 0 1,0 25.4,0a12.7,12.7 0 1,0 -25.4,0M910.7,521.9a12.7,12.7 0 1,0 25.4,0a12.7,12.7 0 1,0 -25.4,0M911.6,520.2a12.7,12.7 0 1,0 25.4,0a12.7,12.7 0 1,0 -25.4,0M912.5,522.1a12.7,12.7 0 1,0 25.4,0a12.7,12.7 0 1,0 -25.4,0M913.4,518.2a12.7,12.7 0 1,0 25.4,0a12.7,12.7 0 1,0 -25.4,0M914.3,520.9a12.7,12.7 0 1,0 25.4,0a12.7,12.7 0 1,0 -25.4,0M915.1,521.0a12.7,12.7 0 1,0 25.4,0a12.7,12.7 0 1,0 -25.4,0M916.0,520.9a12.7,12.7 0 1,0 25.4,0a12.7,12.7 0 1,0 -25.4,0M916.9,527.0a12.7,12.7 0 1,0 25.4,0a12.7,12.7 0 1,0 -25.4,0M917.8,522.8a12.7,12.7 0 1,0 25.4,0a12.7,12.7 0 1,0 -25.4,0M918.7,523.1a12.7,12.7 0 1,0 25.4,0a12.7,12.7 0 1,0 -25.4,0M919.5,521.6a12.7,12.7 0 1,0 25.4,0a12.7,12.7 0 1,0 -25.4,0M920.4,526.7a12.7,12.7 0 1,0 25.4,0a12.7,12.7 0 1,0 -25.4,0M921.3,517.0a12.7,12.7 0 1,0 25.4,0a12.7,12.7 0 1,0 -25.4,0M922.2,521.9a12.7,12.7 0 1,0 25.4,0a12.7,12.7 0 1,0 -25.4,0M923.1,526.2a12.7,12.7 0 1,0 25.4,0a12.7,12.7 0 1,0 -25.4,0M923.9,527.9a12.7,12.7 0 1,0 25.4,0a12.7,12.7 0 1,0 -25.4,0M924.8,523.2a12.7,12.7 0 1,0 25.4,0a12.7,12.7 0 1,0 -25.4,0M925.7,522.6a12.7,12.7 0 1,0 25.4,0a12.7,12.7 0 1,0 -25.4,0M926.6,524.6a12.7,12.7 0 1,0 25.4,0a12.7,12.7 0 1,0 -25.4,0M927.5,522.0a12.7,12.7 0 1,0 25.4,0a12.7,12.7 0 1,0 -25.4,0M928.3,524.4a12.7,12.7 0 1,0 25.4,0a12.7,12.7 0 1,0 -25.4,0M929.2,520.5a12.7,12.7 0 1,0 25.4,0a12.7,12.7 0 1,0 -25.4,0M930.1,524.7a12.7,12.7 0 1,0 25.4,0a12.7,12.7 0 1,0 -25.4,0M931.0,522.4a12.7,12.7 0 1,0 25.4,0a12.7,12.7 0 1,0 -25.4,0M931.9,519.1a12.7,12.7 0 1,0 25.4,0a12.7,12.7 0 1,0 -25.4,0M932.7,513.9a12.7,12.7 0 1,0 25.4,0a12.7,12.7 0 1,0 -25.4,0M933.6,525.6a12.7,12.7 0 1,0 25.4,0a12.7,12.7 0 1,0 -25.4,0M934.5,523.8a12.7,12.7 0 1,0 25.4,0a12.7,12.7 0 1,0 -25.4,0M935.4,525.1a12.7,12.7 0 1,0 25.4,0a12.7,12.7 0 1,0 -25.4,0M936.3,519.8a12.7,12.7 0 1,0 25.4,0a12.7,12.7 0 1,0 -25.4,0M937.1,526.1a12.7,12.7 0 1,0 25.4,0a12.7,12.7 0 1,0 -25.4,0M938.0,523.9a12.7,12.7 0 1,0 25.4,0a12.7,12.7 0 1,0 -25.4,0M938.9,522.4a12.7,12.7 0 1,0 25.4,0a12.7,12.7 0 1,0 -25.4,0M939.8,525.5a12.7,12.7 0 1,0 25.4,0a12.7,12.7 0 1,0 -25.4,0M940.7,525.5a12.7,12.7 0 1,0 25.4,0a12.7,12.7 0 1,0 -25.4,0M941.5,523.9a12.7,12.7 0 1,0 25.4,0a12.7,12.7 0 1,0 -25.4,0M942.4,529.2a12.7,12.7 0 1,0 25.4,0a12.7,12.7 0 1,0 -25.4,0M943.3,527.1a12.7,12.7 0 1,0 25.4,0a12.7,12.7 0 1,0 -25.4,0M944.2,523.7a12.7,12.7 0 1,0 25.4,0a12.7,12.7 0 1,0 -25.4,0M945.1,521.9a12.7,12.7 0 1,0 25.4,0a12.7,12.7 0 1,0 -25.4,0M945.9,522.9a12.7,12.7 0 1,0 25.4,0a12.7,12.7 0 1,0 -25.4,0M946.8,528.1a12.7,12.7 0 1,0 25.4,0a12.7,12.7 0 1,0 -25.4,0M947.7,523.9a12.7,12.7 0 1,0 25.4,0a12.7,12.7 0 1,0 -25.4,0M948.6,519.7a12.7,12.7 0 1,0 25.4,0a12.7,12.7 0 1,0 -25.4,0M949.5,520.5a12.7,12.7 0 1,0 25.4,0a12.7,12.7 0 1,0 -25.4,0M950.3,522.6a12.7,12.7 0 1,0 25.4,0a12.7,12.7 0 1,0 -25.4,0M951.2,525.2a12.7,12.7 0 1,0 25.4,0a12.7,12.7 0 1,0 -25.4,0M952.1,520.3a12.7,12.7 0 1,0 25.4,0a12.7,12.7 0 1,0 -25.4,0M953.0,524.2a12.7,12.7 0 1,0 25.4,0a12.7,12.7 0 1,0 -25.4,0M953.9,526.2a12.7,12.7 0 1,0 25.4,0a12.7,12.7 0 1,0 -25.4,0M954.7,525.0a12.7,12.7 0 1,0 25.4,0a12.7,12.7 0 1,0 -25.4,0M955.6,517.6a12.7,12.7 0 1,0 25.4,0a12.7,12.7 0 1,0 -25.4,0M956.5,521.6a12.7,12.7 0 1,0 25.4,0a12.7,12.7 0 1,0 -25.4,0M957.4,518.6a12.7,12.7 0 1,0 25.4,0a12.7,12.7 0 1,0 -25.4,0M958.3,523.9a12.7,12.7 0 1,0 25.4,0a12.7,12.7 0 1,0 -25.4,0M959.1,519.3a12.7,12.7 0 1,0 25.4,0a12.7,12.7 0 1,0 -25.4,0M960.0,524.3a12.7,12.7 0 1,0 25.4,0a12.7,12.7 0 1,0 -25.4,0M960.9,522.9a12.7,12.7 0 1,0 25.4,0a12.7,12.7 0 1,0 -25.4,0M961.8,514.2a12.7,12.7 0 1,0 25.4,0a12.7,12.7 0 1,0 -25.4,0M962.6,519.9a12.7,12.7 0 1,0 25.4,0a12.7,12.7 0 1,0 -25.4,0M963.5,524.0a12.7,12.7 0 1,0 25.4,0a12.7,12.7 0 1,0 -25.4,0M964.4,522.6a12.7,12.7 0 1,0 25.4,0a12.7,12.7 0 1,0 -25.4,0M965.3,521.3a12.7,12.7 0 1,0 25.4,0a12.7,12.7 0 1,0 -25.4,0M966.2,518.4a12.7,12.7 0 1,0 25.4,0a12.7,12.7 0 1,0 -25.4,0M967.0,524.0a12.7,12.7 0 1,0 25.4,0a12.7,12.7 0 1,0 -25.4,0M967.9,528.1a12.7,12.7 0 1,0 25.4,0a12.7,12.7 0 1,0 -25.4,0M968.8,523.3a12.7,12.7 0 1,0 25.4,0a12.7,12.7 0 1,0 -25.4,0M969.7,522.3a12.7,12.7 0 1,0 25.4,0a12.7,12.7 0 1,0 -25.4,0M970.6,522.0a12.7,12.7 0 1,0 25.4,0a12.7,12.7 0 1,0 -25.4,0M971.4,518.1a12.7,12.7 0 1,0 25.4,0a12.7,12.7 0 1,0 -25.4,0M972.3,521.3a12.7,12.7 0 1,0 25.4,0a12.7,12.7 0 1,0 -25.4,0M973.2,519.7a12.7,12.7 0 1,0 25.4,0a12.7,12.7 0 1,0 -25.4,0M974.1,526.0a12.7,12.7 0 1,0 25.4,0a12.7,12.7 0 1,0 -25.4,0M975.0,519.5a12.7,12.7 0 1,0 25.4,0a12.7,12.7 0 1,0 -25.4,0M975.8,515.5a12.7,12.7 0 1,0 25.4,0a12.7,12.7 0 1,0 -25.4,0M976.7,519.9a12.7,12.7 0 1,0 25.4,0a12.7,12.7 0 1,0 -25.4,0M977.6,521.6a12.7,12.7 0 1,0 25.4,0a12.7,12.7 0 1,0 -25.4,0M978.5,521.9a12.7,12.7 0 1,0 25.4,0a12.7,12.7 0 1,0 -25.4,0M979.4,516.5a12.7,12.7 0 1,0 25.4,0a12.7,12.7 0 1,0 -25.4,0M980.2,525.4a12.7,12.7 0 1,0 25.4,0a12.7,12.7 0 1,0 -25.4,0M981.1,522.7a12.7,12.7 0 1,0 25.4,0a12.7,12.7 0 1,0 -25.4,0M982.0,520.9a12.7,12.7 0 1,0 25.4,0a12.7,12.7 0 1,0 -25.4,0M982.9,520.0a12.7,12.7 0 1,0 25.4,0a12.7,12.7 0 1,0 -25.4,0M983.8,523.8a12.7,12.7 0 1,0 25.4,0a12.7,12.7 0 1,0 -25.4,0M984.6,521.4a12.7,12.7 0 1,0 25.4,0a12.7,12.7 0 1,0 -25.4,0M985.5,523.3a12.7,12.7 0 1,0 25.4,0a12.7,12.7 0 1,0 -25.4,0M986.4,522.0a12.7,12.7 0 1,0 25.4,0a12.7,12.7 0 1,0 -25.4,0M987.3,522.8a12.7,12.7 0 1,0 25.4,0a12.7,12.7 0 1,0 -25.4,0M988.2,526.1a12.7,12.7 0 1,0 25.4,0a12.7,12.7 0 1,0 -25.4,0M989.0,522.5a12.7,12.7 0 1,0 25.4,0a12.7,12.7 0 1,0 -25.4,0M989.9,519.5a12.7,12.7 0 1,0 25.4,0a12.7,12.7 0 1,0 -25.4,0M990.8,525.6a12.7,12.7 0 1,0 25.4,0a12.7,12.7 0 1,0 -25.4,0M991.7,523.2a12.7,12.7 0 1,0 25.4,0a12.7,12.7 0 1,0 -25.4,0M992.6,520.2a12.7,12.7 0 1,0 25.4,0a12.7,12.7 0 1,0 -25.4,0M993.4,525.9a12.7,12.7 0 1,0 25.4,0a12.7,12.7 0 1,0 -25.4,0M994.3,521.8a12.7,12.7 0 1,0 25.4,0a12.7,12.7 0 1,0 -25.4,0M995.2,525.9a12.7,12.7 0 1,0 25.4,0a12.7,12.7 0 1,0 -25.4,0M996.1,518.7a12.7,12.7 0 1,0 25.4,0a12.7,12.7 0 1,0 -25.4,0M997.0,514.8a12.7,12.7 0 1,0 25.4,0a12.7,12.7 0 1,0 -25.4,0M997.8,515.8a12.7,12.7 0 1,0 25.4,0a12.7,12.7 0 1,0 -25.4,0M998.7,523.1a12.7,12.7 0 1,0 25.4,0a12.7,12.7 0 1,0 -25.4,0M999.6,520.0a12.7,12.7 0 1,0 25.4,0a12.7,12.7 0 1,0 -25.4,0M1000.5,522.0a12.7,12.7 0 1,0 25.4,0a12.7,12.7 0 1,0 -25.4,0M1001.4,522.1a12.7,12.7 0 1,0 25.4,0a12.7,12.7 0 1,0 -25.4,0M1002.2,517.3a12.7,12.7 0 1,0 25.4,0a12.7,12.7 0 1,0 -25.4,0M1003.1,526.7a12.7,12.7 0 1,0 25.4,0a12.7,12.7 0 1,0 -25.4,0M1004.0,519.0a12.7,12.7 0 1,0 25.4,0a12.7,12.7 0 1,0 -25.4,0M1004.9,522.6a12.7,12.7 0 1,0 25.4,0a12.7,12.7 0 1,0 -25.4,0M1005.8,517.8a12.7,12.7 0 1,0 25.4,0a12.7,12.7 0 1,0 -25.4,0M1006.6,521.8a12.7,12.7 0 1,0 25.4,0a12.7,12.7 0 1,0 -25.4,0M1007.5,524.6a12.7,12.7 0 1,0 25.4,0a12.7,12.7 0 1,0 -25.4,0M1008.4,521.5a12.7,12.7 0 1,0 25.4,0a12.7,12.7 0 1,0 -25.4,0M1009.3,520.0a12.7,12.7 0 1,0 25.4,0a12.7,12.7 0 1,0 -25.4,0M1010.2,522.3a12.7,12.7 0 1,0 25.4,0a12.7,12.7 0 1,0 -25.4,0M1011.0,520.8a12.7,12.7 0 1,0 25.4,0a12.7,12.7 0 1,0 -25.4,0M1011.9,524.1a12.7,12.7 0 1,0 25.4,0a12.7,12.7 0 1,0 -25.4,0M1012.8,529.4a12.7,12.7 0 1,0 25.4,0a12.7,12.7 0 1,0 -25.4,0M1013.7,519.5a12.7,12.7 0 1,0 25.4,0a12.7,12.7 0 1,0 -25.4,0M1014.6,520.1a12.7,12.7 0 1,0 25.4,0a12.7,12.7 0 1,0 -25.4,0M1015.4,521.9a12.7,12.7 0 1,0 25.4,0a12.7,12.7 0 1,0 -25.4,0M1016.3,522.2a12.7,12.7 0 1,0 25.4,0a12.7,12.7 0 1,0 -25.4,0M1017.2,519.0a12.7,12.7 0 1,0 25.4,0a12.7,12.7 0 1,0 -25.4,0M1018.1,523.9a12.7,12.7 0 1,0 25.4,0a12.7,12.7 0 1,0 -25.4,0M1018.9,524.7a12.7,12.7 0 1,0 25.4,0a12.7,12.7 0 1,0 -25.4,0M1019.8,523.0a12.7,12.7 0 1,0 25.4,0a12.7,12.7 0 1,0 -25.4,0M1020.7,518.5a12.7,12.7 0 1,0 25.4,0a12.7,12.7 0 1,0 -25.4,0M1021.6,526.9a12.7,12.7 0 1,0 25.4,0a12.7,12.7 0 1,0 -25.4,0M1022.5,518.5a12.7,12.7 0 1,0 25.4,0a12.7,12.7 0 1,0 -25.4,0M1023.3,524.5a12.7,12.7 0 1,0 25.4,0a12.7,12.7 0 1,0 -25.4,0M1024.2,526.0a12.7,12.7 0 1,0 25.4,0a12.7,12.7 0 1,0 -25.4,0M1025.1,518.3a12.7,12.7 0 1,0 25.4,0a12.7,12.7 0 1,0 -25.4,0M1026.0,522.7a12.7,12.7 0 1,0 25.4,0a12.7,12.7 0 1,0 -25.4,0M1026.9,526.7a12.7,12.7 0 1,0 25.4,0a12.7,12.7 0 1,0 -25.4,0M1027.7,523.6a12.7,12.7 0 1,0 25.4,0a12.7,12.7 0 1,0 -25.4,0M1028.6,519.4a12.7,12.7 0 1,0 25.4,0a12.7,12.7 0 1,0 -25.4,0M1029.5,518.5a12.7,12.7 0 1,0 25.4,0a12.7,12.7 0 1,0 -25.4,0M1030.4,523.8a12.7,12.7 0 1,0 25.4,0a12.7,12.7 0 1,0 -25.4,0M1031.3,521.1a12.7,12.7 0 1,0 25.4,0a12.7,12.7 0 1,0 -25.4,0M1032.1,520.1a12.7,12.7 0 1,0 25.4,0a12.7,12.7 0 1,0 -25.4,0M1033.0,524.5a12.7,12.7 0 1,0 25.4,0a12.7,12.7 0 1,0 -25.4,0M1033.9,521.3a12.7,12.7 0 1,0 25.4,0a12.7,12.7 0 1,0 -25.4,0M1034.8,522.5a12.7,12.7 0 1,0 25.4,0a12.7,12.7 0 1,0 -25.4,0M1035.7,524.2a12.7,12.7 0 1,0 25.4,0a12.7,12.7 0 1,0 -25.4,0M1036.5,524.0a12.7,12.7 0 1,0 25.4,0a12.7,12.7 0 1,0 -25.4,0M1037.4,522.2a12.7,12.7 0 1,0 25.4,0a12.7,12.7 0 1,0 -25.4,0M1038.3,522.3a12.7,12.7 0 1,0 25.4,0a12.7,12.7 0 1,0 -25.4,0M1039.2,524.3a12.7,12.7 0 1,0 25.4,0a12.7,12.7 0 1,0 -25.4,0M1040.1,523.8a12.7,12.7 0 1,0 25.4,0a12.7,12.7 0 1,0 -25.4,0M1040.9,518.8a12.7,12.7 0 1,0 25.4,0a12.7,12.7 0 1,0 -25.4,0M1041.8,521.7a12.7,12.7 0 1,0 25.4,0a12.7,12.7 0 1,0 -25.4,0M1042.7,519.5a12.7,12.7 0 1,0 25.4,0a12.7,12.7 0 1,0 -25.4,0M1043.6,518.5a12.7,12.7 0 1,0 25.4,0a12.7,12.7 0 1,0 -25.4,0M327.3,249.0a12.7,12.7 0 1,0 25.4,0a12.7,12.7 0 1,0 -25.4,0M323.0,564.6a12.7,12.7 0 1,0 25.4,0a12.7,12.7 0 1,0 -25.4,0M324.3,571.8a12.7,12.7 0 1,0 25.4,0a12.7,12.7 0 1,0 -25.4,0M326.1,579.0a12.7,12.7 0 1,0 25.4,0a12.7,12.7 0 1,0 -25.4,0" fill="none" stroke="#000" stroke-width="2.6"/>
<path d="M334.6,54.8A11.4,11.4 0 0 1 354.3,54.8A16.1,16.1 0 0 0 334.6,54.8ZM335.7,62.8A11.4,11.4 0 0 1 355.5,62.8A16.7,16.7 0 0 0 335.7,62.8ZM336.3,73.6A11.4,11.4 0 0 1 356.0,73.6A14.1,14.1 0 0 0 336.3,73.6ZM337.9,78.2A11.4,11.4 0 0 1 357.6,78.2A15.5,15.5 0 0 0 337.9,78.2ZM339.2,93.7A11.4,11.4 0 0 1 359.0,93.7A13.4,13.4 0 0 0 339.2,93.7ZM340.5,108.1A11.4,11.4 0 0 1 360.3,108.1A15.3,15.3 0 0 0 340.5,108.1ZM343.5,119.7A11.4,11.4 0 0 1 363.3,119.7A13.2,13.2 0 0 0 343.5,119.7ZM345.9,125.1A11.4,11.4 0 0 1 365.7,125.1A12.7,12.7 0 0 0 345.9,125.1ZM347.8,141.9A11.4,11.4 0 0 1 367.6,141.9A13.5,13.5 0 0 0 347.8,141.9ZM349.8,154.2A11.4,11.4 0 0 1 369.6,154.2A16.6,16.6 0 0 0 349.8,154.2ZM351.2,158.1A11.4,11.4 0 0 1 370.9,158.1A14.3,14.3 0 0 0 351.2,158.1ZM353.3,164.7A11.4,11.4 0 0 1 373.1,164.7A13.2,13.2 0 0 0 353.3,164.7ZM357.4,185.9A11.4,11.4 0 0 1 377.1,185.9A13.5,13.5 0 0 0 357.4,185.9ZM357.3,190.1A11.4,11.4 0 0 1 377.0,190.1A13.1,13.1 0 0 0 357.3,190.1ZM360.0,201.3A11.4,11.4 0 0 1 379.8,201.3A15.0,15.0 0 0 0 360.0,201.3ZM364.5,209.4A11.4,11.4 0 0 1 384.3,209.4A14.8,14.8 0 0 0 364.5,209.4ZM364.3,216.0A11.4,11.4 0 0 1 384.1,216.0A13.7,13.7 0 0 0 364.3,216.0ZM366.7,225.5A11.4,11.4 0 0 1 386.4,225.5A16.0,16.0 0 0 0 366.7,225.5ZM367.3,230.1A11.4,11.4 0 0 1 387.0,230.1A16.4,16.4 0 0 0 367.3,230.1ZM369.5,236.1A11.4,11.4 0 0 1 389.2,236.1A14.0,14.0 0 0 0 369.5,236.1ZM372.9,245.6A11.4,11.4 0 0 1 392.7,245.6A12.7,12.7 0 0 0 372.9,245.6ZM374.1,249.5A11.4,11.4 0 0 1 393.8,249.5A12.8,12.8 0 0 0 374.1,249.5ZM377.3,266.4A11.4,11.4 0 0 1 397.0,266.4A16.7,16.7 0 0 0 377.3,266.4ZM379.8,268.2A11.4,11.4 0 0 1 399.5,268.2A16.8,16.8 0 0 0 379.8,268.2ZM381.1,274.8A11.4,11.4 0 0 1 400.8,274.8A16.0,16.0 0 0 0 381.1,274.8ZM383.8,277.0A11.4,11.4 0 0 1 403.5,277.0A15.9,15.9 0 0 0 383.8,277.0ZM386.0,292.6A11.4,11.4 0 0 1 405.8,292.6A16.4,16.4 0 0 0 386.0,292.6ZM389.7,293.2A11.4,11.4 0 0 1 409.5,293.2A16.0,16.0 0 0 0 389.7,293.2ZM388.3,299.8A11.4,11.4 0 0 1 408.0,299.8A16.1,16.1 0 0 0 388.3,299.8ZM394.2,315.8A11.4,11.4 0 0 1 413.9,315.8A16.7,16.7 0 0 0 394.2,315.8ZM398.4,323.8A11.4,11.4 0 0 1 418.2,323.8A15.9,15.9 0 0 0 398.4,323.8ZM399.3,330.8A11.4,11.4 0 0 1 419.0,330.8A16.5,16.5 0 0 0 399.3,330.8ZM403.3,339.6A11.4,11.4 0 0 1 423.0,339.6A16.8,16.8 0 0 0 403.3,339.6ZM403.9,341.7A11.4,11.4 0 0 1 423.7,341.7A15.7,15.7 0 0 0 403.9,341.7ZM406.7,348.6A11.4,11.4 0 0 1 426.5,348.6A13.8,13.8 0 0 0 406.7,348.6ZM409.6,352.8A11.4,11.4 0 0 1 429.4,352.8A15.3,15.3 0 0 0 409.6,352.8ZM414.4,362.7A11.4,11.4 0 0 1 434.1,362.7A16.5,16.5 0 0 0 414.4,362.7ZM418.7,369.8A11.4,11.4 0 0 1 438.4,369.8A16.6,16.6 0 0 0 418.7,369.8ZM422.0,378.5A11.4,11.4 0 0 1 441.8,378.5A14.8,14.8 0 0 0 422.0,378.5ZM425.1,382.6A11.4,11.4 0 0 1 444.9,382.6A14.0,14.0 0 0 0 425.1,382.6ZM431.2,391.5A11.4,11.4 0 0 1 450.9,391.5A16.7,16.7 0 0 0 431.2,391.5ZM434.1,396.1A11.4,11.4 0 0 1 453.9,396.1A15.7,15.7 0 0 0 434.1,396.1ZM437.3,400.2A11.4,11.4 0 0 1 457.0,400.2A16.3,16.3 0 0 0 437.3,400.2ZM441.0,409.4A11.4,11.4 0 0 1 460.7,409.4A16.8,16.8 0 0 0 441.0,409.4ZM443.2,408.8A11.4,11.4 0 0 1 462.9,408.8A14.0,14.0 0 0 0 443.2,408.8ZM445.9,413.2A11.4,11.4 0 0 1 465.6,413.2A16.5,16.5 0 0 0 445.9,413.2ZM446.8,416.9A11.4,11.4 0 0 1 466.6,416.9A14.8,14.8 0 0 0 446.8,416.9ZM447.2,416.5A11.4,11.4 0 0 1 466.9,416.5A15.3,15.3 0 0 0 447.2,416.5ZM449.9,417.2A11.4,11.4 0 0 1 469.6,417.2A14.9,14.9 0 0 0 449.9,417.2ZM450.5,420.7A11.4,11.4 0 0 1 470.2,420.7A15.0,15.0 0 0 0 450.5,420.7ZM454.1,425.6A11.4,11.4 0 0 1 473.8,425.6A12.9,12.9 0 0 0 454.1,425.6ZM455.1,426.8A11.4,11.4 0 0 1 474.8,426.8A13.4,13.4 0 0 0 455.1,426.8ZM456.2,430.7A11.4,11.4 0 0 1 476.0,430.7A15.6,15.6 0 0 0 456.2,430.7ZM459.5,431.0A11.4,11.4 0 0 1 479.3,431.0A14.2,14.2 0 0 0 459.5,431.0ZM459.7,432.9A11.4,11.4 0 0 1 479.5,432.9A14.5,14.5 0 0 0 459.7,432.9ZM474.6,437.9A11.4,11.4 0 0 1 492.1,437.9A17.2,17.2 0 0 0 474.6,437.9ZM494.6,456.5A11.4,11.4 0 0 1 512.1,456.5A16.1,16.1 0 0 0 494.6,456.5ZM512.2,465.6A11.4,11.4 0 0 1 529.7,465.6A14.8,14.8 0 0 0 512.2,465.6ZM534.6,478.0A11.4,11.4 0 0 1 552.1,478.0A15.2,15.2 0 0 0 534.6,478.0ZM562.6,487.6A11.4,11.4 0 0 1 580.1,487.6A17.8,17.8 0 0 0 562.6,487.6ZM590.6,496.4A11.4,11.4 0 0 1 608.1,496.4A17.8,17.8 0 0 0 590.6,496.4ZM626.6,500.1A11.4,11.4 0 0 1 644.1,500.1A17.0,17.0 0 0 0 626.6,500.1ZM662.6,503.8A11.4,11.4 0 0 1 680.0,503.8A17.4,17.4 0 0 0 662.6,503.8ZM674.6,505.9A11.4,11.4 0 0 1 692.0,505.9A16.5,16.5 0 0 0 674.6,505.9ZM710.6,508.0A11.4,11.4 0 0 1 728.0,508.0A15.5,15.5 0 0 0 710.6,508.0ZM774.5,508.1A11.4,11.4 0 0 1 792.0,508.1A14.0,14.0 0 0 0 774.5,508.1ZM786.5,510.8A11.4,11.4 0 0 1 804.0,510.8A17.0,17.0 0 0 0 786.5,510.8ZM814.5,508.1A11.4,11.4 0 0 1 832.0,508.1A16.3,16.3 0 0 0 814.5,508.1ZM870.5,510.5A11.4,11.4 0 0 1 888.0,510.5A16.3,16.3 0 0 0 870.5,510.5ZM918.5,511.6A11.4,11.4 0 0 1 935.9,511.6A16.3,16.3 0 0 0 918.5,511.6ZM934.5,509.7A11.4,11.4 0 0 1 951.9,509.7A16.1,16.1 0 0 0 934.5,509.7ZM966.5,510.2A11.4,11.4 0 0 1 983.9,510.2A14.1,14.1 0 0 0 966.5,510.2ZM1010.4,509.2A11.4,11.4 0 0 1 1027.9,509.2A15.3,15.3 0 0 0 1010.4,509.2ZM487.3,477.1A11.4,11.4 0 0 0 503.4,477.1A14.8,14.8 0 0 1 487.3,477.1ZM543.3,506.2A11.4,11.4 0 0 0 559.4,506.2A15.7,15.7 0 0 1 543.3,506.2ZM599.3,523.4A11.4,11.4 0 0 0 615.4,523.4A17.6,17.6 0 0 1 599.3,523.4ZM647.2,530.9A11.4,11.4 0 0 0 663.4,530.9A13.3,13.3 0 0 1 647.2,530.9ZM695.2,533.8A11.4,11.4 0 0 0 711.4,533.8A14.3,14.3 0 0 1 695.2,533.8ZM735.2,535.1A11.4,11.4 0 0 0 751.3,535.1A14.9,14.9 0 0 1 735.2,535.1ZM751.2,534.0A11.4,11.4 0 0 0 767.3,534.0A15.4,15.4 0 0 1 751.2,534.0ZM799.2,535.7A11.4,11.4 0 0 0 815.3,535.7A16.5,16.5 0 0 1 799.2,535.7ZM839.2,536.5A11.4,11.4 0 0 0 855.3,536.5A16.4,16.4 0 0 1 839.2,536.5ZM863.2,535.7A11.4,11.4 0 0 0 879.3,535.7A16.4,16.4 0 0 1 863.2,535.7ZM903.2,535.7A11.4,11.4 0 0 0 919.3,535.7A16.0,16.0 0 0 1 903.2,535.7ZM951.1,536.2A11.4,11.4 0 0 0 967.3,536.2A15.8,15.8 0 0 1 951.1,536.2ZM983.1,534.5A11.4,11.4 0 0 0 999.2,534.5A15.5,15.5 0 0 1 983.1,534.5ZM1023.1,535.4A11.4,11.4 0 0 0 1039.2,535.4A14.9,14.9 0 0 1 1023.1,535.4Z" fill="#fff"/>
<polyline points="341.0,51.8 345.0,76.2 349.0,99.3 353.0,121.2 357.0,142.0 361.0,161.7 365.0,180.4 369.0,198.1 373.0,214.9 377.0,230.9 381.0,246.0 385.0,260.3 389.0,273.9 393.0,286.7 397.0,299.0 401.0,310.5 405.0,321.5 409.0,331.9 413.0,341.8 417.0,351.1 421.0,360.0 425.0,368.4 429.0,376.4 433.0,384.0 437.0,391.2 441.0,398.0 445.0,404.4 449.0,410.5 453.0,416.3 457.0,421.8 461.0,427.0 465.0,432.0 469.0,436.7 473.0,441.1 477.0,445.3 481.0,449.3 485.0,453.1 489.0,456.7 493.0,460.1 497.0,463.3 501.0,466.4 505.0,469.3 509.0,472.1 513.0,474.7 517.0,477.1 521.0,479.5 525.0,481.7 529.0,483.8 533.0,485.8 537.0,487.7 541.0,489.5 545.0,491.2 548.9,492.9 552.9,494.4 556.9,495.8 560.9,497.2 564.9,498.5 568.9,499.8 572.9,500.9 576.9,502.1 580.9,503.1 584.9,504.1 588.9,505.1 592.9,506.0 596.9,506.8 600.9,507.6 604.9,508.4 608.9,509.1 612.9,509.8 616.9,510.5 620.9,511.1 624.9,511.7 628.9,512.2 632.9,512.8 636.9,513.3 640.9,513.8 644.9,514.2 648.9,514.6 652.9,515.0 656.9,515.4 660.9,515.8 664.9,516.1 668.9,516.5 672.9,516.8 676.9,517.1 680.9,517.3 684.9,517.6 688.9,517.9 692.9,518.1 696.9,518.3 700.9,518.5 704.9,518.7 708.9,518.9 712.9,519.1 716.9,519.3 720.9,519.5 724.9,519.6 728.9,519.8 732.9,519.9 736.9,520.0 740.9,520.2 744.9,520.3 748.9,520.4 752.9,520.5 756.9,520.6 760.9,520.7 764.9,520.8 768.9,520.9 772.9,521.0 776.9,521.0 780.9,521.1 784.9,521.2 788.9,521.2 792.9,521.3 796.9,521.4 800.9,521.4 804.9,521.5 808.9,521.5 812.9,521.6 816.8,521.6 820.8,521.7 824.8,521.7 828.8,521.7 832.8,521.8 836.8,521.8 840.8,521.9 844.8,521.9 848.8,521.9 852.8,521.9 856.8,522.0 860.8,522.0 864.8,522.0 868.8,522.0 872.8,522.1 876.8,522.1 880.8,522.1 884.8,522.1 888.8,522.1 892.8,522.2 896.8,522.2 900.8,522.2 904.8,522.2 908.8,522.2 912.8,522.2 916.8,522.2 920.8,522.3 924.8,522.3 928.8,522.3 932.8,522.3 936.8,522.3 940.8,522.3 944.8,522.3 948.8,522.3 952.8,522.3 956.8,522.3 960.8,522.3 964.8,522.3 968.8,522.4 972.8,522.4 976.8,522.4 980.8,522.4 984.8,522.4 988.8,522.4 992.8,522.4 996.8,522.4 1000.8,522.4 1004.8,522.4 1008.8,522.4 1012.8,522.4 1016.8,522.4 1020.8,522.4 1024.8,522.4 1028.8,522.4 1032.8,522.4 1036.8,522.4 1040.8,522.4 1044.8,522.4 1048.8,522.4 1052.8,522.4" fill="none" stroke="#ff0000" stroke-width="7.5" stroke-linejoin="round"/>
</g>
<path d="M334.6,46 V573.8 M324,572.5 H1056.7 M1055.3,46 V583.8 M324,414.5 H334.6 M324,256.5 H334.6 M324,98.5 H334.6 M330.3,493.5 H334.6 M330.3,335.5 H334.6 M330.3,177.5 H334.6 M351.4,572.5 V578 M383.4,572.5 V578 M415.4,572.5 V583.8 M447.4,572.5 V578 M479.4,572.5 V578 M511.4,572.5 V578 M543.4,572.5 V578 M575.3,572.5 V583.8 M607.3,572.5 V578 M639.3,572.5 V578 M671.3,572.5 V578 M703.3,572.5 V578 M735.3,572.5 V583.8 M767.3,572.5 V578 M799.3,572.5 V578 M831.2,572.5 V578 M863.2,572.5 V578 M895.2,572.5 V583.8 M927.2,572.5 V578 M959.2,572.5 V578 M991.2,572.5 V578 M1023.2,572.5 V578" fill="none" stroke="#000" stroke-width="2.7"/>
<g font-size="38.5px" text-anchor="end">
<text x="316.5" y="584.5">0</text>
<text x="316.5" y="426.5">3</text>
<text x="316.5" y="268.5">6</text>
<text x="316.5" y="110.5">9</text>
</g>
<g font-size="38.5px" text-anchor="middle">
<text x="415.4" y="621.5">20</text>
<text x="575.3" y="621.5">40</text>
<text x="735.3" y="621.5">60</text>
<text x="895.2" y="621.5">80</text>
<text x="1055.2" y="621.5">100</text>
</g>
<text x="531" y="670.2" font-size="43px" letter-spacing="1">Decay Time (<tspan class="s" font-size="48px">μ</tspan>s)</text>
<text transform="translate(284.6,384) rotate(-90)" font-size="43px" letter-spacing="0.75">Δ OD /10<tspan font-size="30px" dy="-19.6">-2</tspan></text>
<text x="548" y="434.3" font-size="78px"><tspan class="s">τ</tspan>= 9.4 <tspan class="s" font-size="84px">μ</tspan>s</text>
<g clip-path="url(#cm)" fill="none" stroke-width="10.2" stroke-linejoin="round" stroke-linecap="round" shape-rendering="crispEdges">
<polyline stroke="#000000" points="233.5,1146.4 235.0,1142.0 236.5,1139.6 238.0,1132.3 239.5,1146.2 241.0,1159.1 242.5,1165.4 244.0,1163.7 245.5,1156.2 247.0,1162.1 248.5,1170.8 250.0,1165.2 251.5,1164.8 253.0,1162.7 254.5,1157.2 256.0,1165.2 257.5,1161.3 259.0,1166.5 260.5,1176.2 262.0,1181.0 263.5,1179.3 265.0,1177.3 266.5,1171.9 268.0,1167.4 269.5,1169.4 271.0,1167.2 272.5,1163.7 274.0,1162.3 275.5,1163.6 277.0,1159.4 278.5,1158.8 280.0,1157.7 281.5,1162.0 283.0,1163.6 284.5,1168.0 286.0,1159.4 287.5,1158.7 289.0,1163.6 290.5,1161.7 292.0,1160.4 293.5,1165.7 295.0,1161.8 296.5,1157.9 298.0,1156.8 299.5,1161.0 301.0,1162.2 302.5,1157.7 304.0,1157.4 305.5,1161.6 307.0,1162.9 308.5,1159.9 310.0,1164.3 311.5,1168.6 313.0,1165.8 314.5,1171.1 316.0,1177.7 317.5,1178.0 319.0,1171.5 320.5,1167.7 322.0,1165.7 323.5,1162.6 325.0,1151.7 326.5,1162.4 328.0,1158.7 329.5,1163.3 331.0,1168.0 332.5,1169.3 334.0,1166.5 335.5,1160.1 337.0,1160.5 338.5,1155.9 340.0,1147.5 341.5,1157.3 343.0,1154.9 344.5,1158.0 346.0,1156.1 347.5,1164.7 349.0,1173.3 350.5,1176.8 352.0,1174.5 353.5,1171.7 355.0,1174.3 356.5,1170.3 358.0,1167.2 359.5,1166.4 361.0,1161.0 362.5,1159.0 364.0,1159.4 365.5,1166.4 367.0,1168.7 368.5,1166.8 370.0,1171.0 371.5,1169.7 373.0,1174.4 374.5,1185.2 376.0,1187.0 377.5,1191.0 379.0,1191.5 380.5,1196.2 382.0,1202.7 383.5,1199.3 385.0,1201.3 386.5,1200.6 388.0,1200.6 389.5,1201.8 391.0,1209.9 392.5,1215.5 394.0,1212.8 395.5,1209.8 397.0,1213.9 398.5,1214.0 400.0,1217.9 401.5,1220.0 403.0,1222.6 404.5,1226.5 406.0,1226.1 407.5,1226.8 409.0,1224.3 410.5,1227.1 412.0,1226.0 413.5,1228.9 415.0,1228.1 416.5,1230.5 418.0,1232.6 419.5,1228.6 421.0,1229.3 422.5,1230.2 424.0,1235.2 425.5,1239.8 427.0,1239.4 428.5,1236.6 430.0,1241.0 431.5,1235.5 433.0,1241.1 434.5,1238.1 436.0,1230.9 437.5,1242.5 439.0,1243.4 440.5,1235.6 442.0,1236.1 443.5,1235.7 445.0,1236.1 446.5,1232.8 448.0,1234.6 449.5,1239.5 451.0,1241.2 452.5,1244.8 454.0,1243.6 455.5,1248.6 457.0,1241.8 458.5,1240.4 460.0,1233.9 461.5,1232.0 463.0,1237.1 464.5,1230.8 466.0,1230.2 467.5,1227.6 469.0,1223.4 470.5,1224.6 472.0,1225.7 473.5,1226.7 475.0,1230.3 476.5,1230.2 478.0,1224.9 479.5,1220.0 481.0,1219.1 482.5,1215.3 484.0,1214.4 485.5,1216.5 487.0,1210.7 488.5,1204.6 490.0,1201.2 491.5,1197.0 493.0,1194.0 494.5,1191.4 496.0,1190.5 497.5,1188.6 499.0,1189.4 500.5,1185.4 502.0,1183.1 503.5,1178.8 505.0,1183.2 506.5,1180.5 508.0,1180.6 509.5,1176.7 511.0,1175.0 512.5,1168.1 514.0,1166.0 515.5,1168.2 517.0,1156.2 518.5,1155.6 520.0,1155.1 521.5,1148.7 523.0,1144.8 524.5,1142.6 526.0,1134.2 527.5,1131.7 529.0,1125.5 530.5,1121.4 532.0,1118.3 533.5,1116.2 535.0,1114.0 536.5,1111.7 538.0,1103.8 539.5,1107.7 541.0,1104.6 542.5,1099.2 544.0,1092.3 545.5,1088.4 547.0,1086.4 548.5,1082.7 550.0,1073.5 551.5,1074.4 553.0,1078.2 554.5,1064.0 556.0,1064.0 557.5,1060.8 559.0,1055.2 560.5,1054.6 562.0,1044.9 563.5,1042.1 565.0,1042.0 566.5,1034.2 568.0,1027.7 569.5,1024.1 571.0,1018.1 572.5,1017.6 574.0,1007.3 575.5,1004.5 577.0,995.0 578.5,993.1 580.0,987.7 581.5,976.5 583.0,977.4 584.5,973.1 586.0,970.2 587.5,971.8 589.0,961.9 590.5,954.3 592.0,952.8 593.5,944.6 595.0,941.2 596.5,933.6 598.0,924.1 599.5,920.0 601.0,918.6 602.5,913.4 604.0,905.1 605.5,899.0 607.0,893.1 608.5,886.3 610.0,886.7 611.5,877.9 613.0,867.6 614.5,862.3 616.0,859.6 617.5,853.8 619.0,845.3 620.5,836.8 622.0,831.7 623.5,821.4 625.0,814.4 626.5,813.5 628.0,805.2 629.5,800.1 631.0,796.9 632.5,790.3 634.0,782.5 635.5,781.9 637.0,774.2 638.5,765.0 640.0,761.6 641.5,756.1 643.0,747.1 644.5,743.0 646.0,737.7 647.5,727.7 649.0,726.1 650.5,722.7 652.0,717.9 653.5,710.6 655.0,709.0 656.5,707.1 658.0,704.3 659.5,698.1 661.0,698.9 662.5,692.9 664.0,691.7 665.5,694.1 667.0,688.0 668.5,685.0 670.0,687.4 671.5,683.0 673.0,680.2 674.5,679.8 676.0,680.9 677.5,672.3 679.0,672.9 680.5,673.2 682.0,672.7 683.5,673.0 685.0,673.2 686.5,676.4 688.0,674.8 689.5,677.3 691.0,679.8 692.5,678.1 694.0,680.4 695.5,685.8 697.0,684.6 698.5,682.2 700.0,684.2 701.5,684.0 703.0,688.2 704.5,693.3 706.0,693.0 707.5,697.2 709.0,705.1 710.5,705.8 712.0,710.2 713.5,711.6 715.0,715.3 716.5,720.4 718.0,731.7 719.5,731.6 721.0,733.9 722.5,738.3 724.0,743.9 725.5,751.1 727.0,755.5 728.5,765.0 730.0,767.1 731.5,774.5 733.0,778.7 734.5,785.0 736.0,786.3 737.5,793.6 739.0,799.8 740.5,804.2 742.0,803.9 743.5,814.4 745.0,817.8 746.5,820.9 748.0,825.4 749.5,829.5 751.0,834.9 752.5,834.9 754.0,838.1 755.5,845.0 757.0,849.3 758.5,851.7 760.0,854.6 761.5,857.6 763.0,863.2 764.5,870.7 766.0,869.9 767.5,878.7 769.0,883.0 770.5,883.4 772.0,889.9 773.5,889.6 775.0,891.8 776.5,897.3 778.0,904.4 779.5,909.9 781.0,914.0 782.5,920.2 784.0,919.8 785.5,929.2 787.0,930.6 788.5,934.7 790.0,939.2 791.5,940.6 793.0,942.5 794.5,946.1 796.0,951.6 797.5,956.6 799.0,959.9 800.5,958.9 802.0,961.3 803.5,964.2 805.0,970.6 806.5,968.4 808.0,977.8 809.5,978.9 811.0,979.8 812.5,985.3 814.0,990.7 815.5,992.2 817.0,996.2 818.5,997.2 820.0,1001.9 821.5,1005.4 823.0,1004.7 824.5,1010.2 826.0,1010.7 827.5,1012.1 829.0,1011.9 830.5,1015.2 832.0,1020.8 833.5,1018.7 835.0,1024.5 836.5,1027.7 838.0,1029.9 839.5,1026.3 841.0,1032.5 842.5,1038.9 844.0,1039.0 845.5,1043.2 847.0,1040.9 848.5,1049.8 850.0,1051.7 851.5,1057.4 853.0,1054.4 854.5,1061.2 856.0,1063.1 857.5,1067.3 859.0,1066.0 860.5,1067.6 862.0,1077.2 863.5,1073.8 865.0,1073.9 866.5,1077.3 868.0,1078.0 869.5,1085.2 871.0,1090.5 872.5,1087.1 874.0,1085.0 875.5,1093.7 877.0,1098.0 878.5,1099.5 880.0,1102.3 881.5,1099.7 883.0,1102.2 884.5,1101.8 886.0,1102.9 887.5,1111.0 889.0,1110.8 890.5,1119.0 892.0,1117.8 893.5,1116.4 895.0,1121.5 896.5,1127.1 898.0,1126.7 899.5,1123.6 901.0,1128.4 902.5,1134.2 904.0,1132.3 905.5,1132.2 907.0,1138.4 908.5,1139.4 910.0,1137.3 911.5,1139.8 913.0,1140.8 914.5,1144.4 916.0,1146.0 917.5,1149.7 919.0,1150.5 920.5,1145.6 922.0,1149.8 923.5,1153.5 925.0,1153.8 926.5,1155.8 928.0,1153.2 929.5,1151.9 931.0,1157.2 932.5,1154.5 934.0,1151.1 935.5,1159.1 937.0,1157.9 938.5,1158.4 940.0,1156.8 941.5,1156.9 943.0,1158.1 944.5,1160.9 946.0,1164.0 947.5,1158.5 949.0,1164.8 950.5,1162.8 952.0,1162.2 953.5,1167.2 955.0,1167.1 956.5,1163.4 958.0,1171.3 959.5,1167.5 961.0,1168.7 962.5,1169.9 964.0,1173.3 965.5,1170.0 967.0,1172.6 968.5,1169.7 970.0,1173.4 971.5,1170.5 973.0,1170.5 974.5,1176.8 976.0,1175.0 977.5,1173.7 979.0,1179.3 980.5,1176.6 982.0,1172.6 983.5,1175.9 985.0,1172.6 986.5,1177.3 988.0,1179.5 989.5,1175.3 991.0,1174.0 992.5,1176.1 994.0,1176.4 995.5,1173.8 997.0,1176.9 998.5,1171.5 1000.0,1173.5 1001.5,1174.8 1003.0,1175.1 1004.5,1176.6 1006.0,1173.1 1007.5,1176.4 1009.0,1175.8 1010.5,1173.9 1012.0,1171.7 1013.5,1171.5 1015.0,1175.4 1016.5,1173.1 1018.0,1174.6 1019.5,1177.7 1021.0,1178.3 1022.5,1179.4 1024.0,1174.9 1025.5,1171.2 1027.0,1175.5 1028.5,1174.9 1030.0,1176.0 1031.5,1173.4 1033.0,1175.0 1034.5,1174.5 1036.0,1173.4 1037.5,1172.2 1039.0,1171.2 1040.5,1170.1 1042.0,1169.4 1043.5,1170.7 1045.0,1167.0 1046.5,1170.9 1048.0,1167.4 1049.5,1168.1 1051.0,1165.6 1052.5,1163.8 1054.0,1168.7 1055.5,1163.8 1057.0,1158.9 1058.5,1158.8 1060.0,1159.4 1061.5,1165.0 1063.0,1161.0 1064.5,1160.3 1066.0,1154.9 1067.5,1155.5 1069.0,1155.8 1070.5,1157.2 1072.0,1150.0 1073.5,1149.5 1075.0,1147.8 1076.5,1142.3 1078.0,1141.8 1079.5,1140.0 1081.0,1132.7 1082.5,1136.4 1084.0,1136.3 1085.5,1131.6 1087.0,1126.5 1088.5,1130.7 1090.0,1127.6 1091.5,1126.5 1093.0,1126.2 1094.5,1119.8 1096.0,1119.9 1097.5,1116.6 1099.0,1114.6 1100.5,1113.1 1102.0,1111.6 1103.5,1112.8 1105.0,1109.5 1106.5,1106.4 1108.0,1104.1 1109.5,1103.8 1111.0,1099.2 1112.5,1097.3 1114.0,1096.7 1115.5,1093.7 1117.0,1092.3 1118.5,1089.3 1120.0,1093.3 1121.5,1091.3 1123.0,1086.4 1124.5,1082.2 1126.0,1085.2 1127.5,1079.9 1129.0,1075.1 1130.5,1073.3 1132.0,1071.2 1133.5,1071.4 1135.0,1066.0 1136.5,1067.5 1138.0,1058.8 1139.5,1057.5 1141.0,1051.4 1142.5,1054.1 1144.0,1047.7 1145.5,1043.5 1147.0,1042.9 1148.5,1041.2 1150.0,1032.1 1151.5,1028.8 1153.0,1023.3 1154.5,1022.9 1156.0,1020.1 1157.5,1015.9 1159.0,1011.5 1160.5,1008.6 1162.0,1004.6 1163.5,1004.1 1165.0,1004.2 1166.5,992.9 1168.0,991.5 1169.5,988.8 1171.0,987.5 1172.5,981.2 1174.0,978.7 1175.5,973.6 1177.0,973.9 1178.5,970.3 1180.0,965.8 1181.5,963.3 1183.0,958.4 1184.5,950.6 1186.0,950.8 1187.5,947.3 1189.0,941.5 1190.5,939.5 1192.0,936.3 1193.5,925.8 1195.0,919.7 1196.5,920.7 1198.0,917.2 1199.5,907.1 1201.0,899.9 1202.5,896.6 1204.0,893.2 1205.5,886.3 1207.0,885.3 1208.5,879.0 1210.0,874.1 1211.5,875.4 1213.0,868.8 1214.5,864.7 1216.0,862.2 1217.5,857.8 1219.0,848.9 1220.5,842.7 1222.0,834.8 1223.5,835.2 1225.0,829.3 1226.5,819.1 1228.0,815.7 1229.5,813.4 1231.0,808.4 1232.5,806.6 1234.0,801.5 1235.5,791.3 1237.0,786.0 1238.5,778.4 1240.0,776.3 1241.5,772.2 1243.0,773.5 1244.5,763.9 1246.0,751.5 1247.5,748.4 1249.0,746.4 1250.5,738.6 1252.0,733.6 1253.5,730.1 1255.0,727.3 1256.5,721.7 1258.0,714.5 1259.5,713.0 1261.0,705.7 1262.5,699.2 1264.0,691.3 1265.5,686.5 1267.0,685.2 1268.5,675.7 1270.0,673.4 1271.5,672.2 1273.0,665.7 1274.5,661.9 1276.0,654.1 1277.5,654.1 1279.0,650.1 1280.5,641.9 1282.0,629.5 1283.5,622.7 1285.0,621.7 1286.5,619.3 1288.0,610.9 1289.5,607.0 1291.0,597.7 1292.5,591.4 1294.0,586.0 1295.5,581.1 1297.0,570.8 1298.5,570.4 1300.0,568.6 1301.5,558.4 1303.0,551.8 1304.5,551.4 1306.0,545.5 1307.5,535.6 1309.0,537.4 1310.5,533.1 1312.0,525.7 1313.5,526.0 1315.0,516.7 1316.5,506.8 1318.0,503.1 1319.5,496.5 1321.0,492.4 1322.5,491.7 1324.0,486.5 1325.5,482.1 1327.0,483.4 1328.5,478.7 1330.0,473.9 1331.5,469.3 1333.0,465.5 1334.5,464.8 1336.0,458.9 1337.5,459.6 1339.0,451.1 1340.5,447.6 1342.0,441.8 1343.5,439.9 1345.0,439.2 1346.5,438.7 1348.0,430.9 1349.5,427.4 1351.0,423.3 1352.5,418.4 1354.0,413.9 1355.5,414.3 1357.0,409.6 1358.5,412.9 1360.0,414.7 1361.5,413.6 1363.0,412.8 1364.5,411.8 1366.0,419.3 1367.5,413.2 1369.0,417.3 1370.5,416.1 1372.0,410.5 1373.5,404.4 1375.0,405.7 1376.5,406.2 1378.0,398.6 1379.5,397.3 1381.0,400.4 1382.5,398.9 1384.0,402.0 1385.5,396.5 1387.0,397.1 1388.5,393.6 1390.0,401.0 1391.5,397.2 1393.0,392.4 1394.5,397.7 1396.0,400.6 1397.5,407.2 1399.0,405.3 1400.5,407.8 1402.0,413.4 1403.5,420.1 1405.0,419.8 1406.5,423.7 1408.0,425.3 1409.5,424.8 1411.0,426.9 1412.5,429.0 1414.0,428.7 1415.5,435.7 1417.0,433.3 1418.5,440.3 1420.0,444.7 1421.5,445.4 1423.0,447.1 1424.5,454.6 1426.0,462.9 1427.5,468.0 1429.0,470.2 1430.5,474.3 1432.0,473.5 1433.5,477.0 1435.0,476.3 1436.5,484.4 1438.0,488.5 1439.5,490.8 1441.0,498.5 1442.5,502.6 1444.0,497.6 1445.5,506.3 1447.0,508.8 1448.5,517.9 1450.0,527.0 1451.5,523.7 1453.0,525.8 1454.5,528.2 1456.0,532.4 1457.5,536.9 1459.0,542.6 1460.5,541.8 1462.0,551.3 1463.5,551.7 1465.0,557.5 1466.5,565.2 1468.0,569.4 1469.5,569.6 1471.0,573.4 1472.5,578.3 1474.0,583.2 1475.5,589.9 1477.0,588.0 1478.5,594.0 1480.0,599.4 1481.5,603.5 1483.0,607.6 1484.5,614.8 1486.0,617.7 1487.5,622.5 1489.0,626.8 1490.5,634.6 1492.0,631.1 1493.5,640.9 1495.0,643.7 1496.5,646.5 1498.0,648.6 1499.5,649.8 1501.0,657.0 1502.5,662.0 1504.0,669.5 1505.5,670.5 1507.0,681.4 1508.5,685.8 1510.0,688.7 1511.5,692.5 1513.0,697.3 1514.5,701.5 1516.0,707.2 1517.5,712.9 1519.0,716.3 1520.5,716.2 1522.0,721.1 1523.5,723.4 1525.0,728.7 1526.5,737.2 1528.0,739.4 1529.5,740.7 1531.0,741.7 1532.5,746.5 1534.0,751.3 1535.5,762.2 1537.0,765.3 1538.5,771.2 1540.0,775.1 1541.5,781.4 1543.0,790.3 1544.5,791.1 1546.0,795.5 1547.5,799.7 1549.0,808.5 1550.5,809.6 1552.0,812.2 1553.5,815.7 1555.0,819.5 1556.5,828.4 1558.0,839.4 1559.5,836.6 1561.0,843.8 1562.5,848.6 1564.0,849.9 1565.5,856.1 1567.0,861.9 1568.5,866.0 1570.0,877.5 1571.5,874.7 1573.0,882.3 1574.5,887.9 1576.0,889.0 1577.5,893.4 1579.0,899.1 1580.5,901.6 1582.0,906.5 1583.5,912.9 1585.0,911.7 1586.5,923.7 1588.0,932.4 1589.5,932.7 1591.0,934.1 1592.5,930.0 1594.0,933.6 1595.5,935.2 1597.0,938.3 1598.5,946.9 1600.0,951.6 1601.5,960.1 1603.0,960.2 1604.5,964.9 1606.0,968.0 1607.5,966.9 1609.0,967.0 1610.5,974.7 1612.0,969.8 1613.5,969.8 1615.0,974.1 1616.5,984.0 1618.0,992.7 1619.5,993.1 1621.0,992.6 1622.5,996.5 1624.0,1004.3 1625.5,1002.7 1627.0,1007.4 1628.5,1005.1 1630.0,995.5 1631.5,990.7 1633.0,990.2 1634.5,1001.1 1636.0,1008.3 1637.5,1021.6 1639.0,1021.3 1640.5,1020.2 1642.0,1023.1 1643.5,1023.6 1645.0,1022.0 1646.5,1020.8 1648.0,1023.8 1649.5,1034.5 1651.0,1042.9 1652.5,1045.1 1654.0,1050.5 1655.5,1050.1 1657.0,1053.1 1658.5,1057.6 1660.0,1056.8 1661.5,1058.6 1663.0,1064.4 1664.5,1066.6 1666.0,1066.3 1667.5,1072.2 1669.0,1073.5 1670.5,1078.3 1672.0,1077.9 1673.5,1077.5 1675.0,1080.3 1676.5,1082.0 1678.0,1083.3 1679.5,1090.3 1681.0,1103.1 1682.5,1112.4 1684.0,1119.7 1685.5,1113.5 1687.0,1116.7 1688.5,1119.9 1690.0,1124.6 1691.5,1128.0 1693.0,1133.8 1694.5,1144.7 1696.0,1149.2 1697.5,1148.9 1699.0,1161.0 1700.5,1166.8 1702.0,1164.7 1703.5,1171.4 1705.0,1170.2 1706.5,1178.1 1708.0,1177.6 1709.5,1176.0 1711.0,1178.9 1712.5,1179.5 1714.0,1184.4 1715.5,1187.0 1717.0,1187.8 1718.5,1186.4 1720.0,1173.9 1721.5,1187.0 1723.0,1184.4 1724.5,1192.3 1726.0,1200.3 1727.5,1198.8 1729.0,1195.7 1730.5,1196.7 1732.0,1198.2 1733.5,1197.1"/>
<polyline stroke="#ff0000" points="233.5,1129.7 235.0,1128.1 236.5,1138.4 238.0,1142.4 239.5,1162.3 241.0,1168.5 242.5,1170.6 244.0,1171.5 245.5,1174.7 247.0,1177.7 248.5,1177.2 250.0,1175.4 251.5,1177.2 253.0,1189.2 254.5,1188.3 256.0,1188.7 257.5,1195.4 259.0,1195.8 260.5,1193.6 262.0,1190.0 263.5,1197.8 265.0,1194.3 266.5,1193.2 268.0,1191.4 269.5,1187.3 271.0,1186.7 272.5,1192.0 274.0,1193.1 275.5,1190.4 277.0,1186.1 278.5,1183.2 280.0,1184.7 281.5,1181.0 283.0,1185.2 284.5,1186.0 286.0,1188.8 287.5,1182.5 289.0,1174.4 290.5,1169.7 292.0,1159.5 293.5,1162.4 295.0,1163.4 296.5,1164.5 298.0,1162.2 299.5,1159.4 301.0,1155.6 302.5,1153.1 304.0,1151.1 305.5,1138.5 307.0,1131.4 308.5,1124.6 310.0,1128.4 311.5,1127.3 313.0,1123.3 314.5,1115.1 316.0,1113.7 317.5,1108.3 319.0,1101.2 320.5,1093.1 322.0,1087.2 323.5,1076.4 325.0,1067.3 326.5,1053.6 328.0,1040.0 329.5,1030.3 331.0,1021.1 332.5,1016.0 334.0,1010.9 335.5,1013.9 337.0,1016.9 338.5,1016.8 340.0,1024.8 341.5,1023.8 343.0,1027.4 344.5,1027.6 346.0,1021.1 347.5,1020.1 349.0,1019.5 350.5,1016.4 352.0,1012.2 353.5,1012.9 355.0,1010.0 356.5,1011.2 358.0,1010.6 359.5,1013.0 361.0,1012.5 362.5,1015.4 364.0,1019.4 365.5,1020.5 367.0,1021.1 368.5,1022.4 370.0,1031.8 371.5,1042.4 373.0,1052.4 374.5,1061.7 376.0,1075.8 377.5,1093.5 379.0,1100.3 380.5,1112.5 382.0,1126.0 383.5,1127.8 385.0,1139.1 386.5,1145.3 388.0,1156.8 389.5,1160.8 391.0,1163.0 392.5,1167.9 394.0,1172.7 395.5,1174.3 397.0,1178.0 398.5,1178.2 400.0,1183.1 401.5,1189.3 403.0,1195.8 404.5,1196.2 406.0,1196.5 407.5,1200.6 409.0,1203.0 410.5,1206.5 412.0,1207.4 413.5,1205.6 415.0,1207.1 416.5,1208.3 418.0,1209.5 419.5,1210.0 421.0,1208.1 422.5,1204.6 424.0,1207.7 425.5,1206.0 427.0,1210.9 428.5,1213.0 430.0,1209.9 431.5,1215.8 433.0,1219.2 434.5,1218.3 436.0,1222.0 437.5,1223.4 439.0,1214.8 440.5,1216.9 442.0,1216.2 443.5,1215.3 445.0,1216.5 446.5,1212.8 448.0,1211.8 449.5,1211.3 451.0,1211.3 452.5,1212.9 454.0,1210.0 455.5,1209.5 457.0,1211.1 458.5,1209.7 460.0,1210.3 461.5,1205.0 463.0,1206.1 464.5,1207.5 466.0,1209.0 467.5,1207.2 469.0,1209.6 470.5,1208.1 472.0,1207.7 473.5,1208.0 475.0,1210.2 476.5,1208.2 478.0,1211.7 479.5,1211.6 481.0,1210.6 482.5,1210.2 484.0,1211.3 485.5,1212.8 487.0,1212.9 488.5,1211.3 490.0,1212.0 491.5,1210.2 493.0,1212.1 494.5,1209.1 496.0,1202.2 497.5,1208.4 499.0,1206.9 500.5,1201.8 502.0,1202.0 503.5,1199.5 505.0,1204.8 506.5,1201.4 508.0,1193.5 509.5,1195.6 511.0,1193.3 512.5,1196.7 514.0,1189.5 515.5,1182.8 517.0,1186.4 518.5,1186.0 520.0,1184.6 521.5,1179.4 523.0,1183.8 524.5,1188.1 526.0,1179.2 527.5,1183.4 529.0,1180.3 530.5,1185.0 532.0,1180.5 533.5,1175.2 535.0,1175.3 536.5,1172.0 538.0,1166.0 539.5,1165.7 541.0,1161.2 542.5,1155.1 544.0,1162.2 545.5,1157.8 547.0,1154.2 548.5,1155.3 550.0,1150.2 551.5,1148.2 553.0,1149.4 554.5,1148.8 556.0,1148.9 557.5,1150.4 559.0,1145.2 560.5,1144.0 562.0,1142.2 563.5,1135.2 565.0,1134.1 566.5,1129.2 568.0,1130.4 569.5,1127.7 571.0,1123.8 572.5,1117.9 574.0,1118.4 575.5,1115.2 577.0,1116.2 578.5,1113.2 580.0,1108.8 581.5,1110.6 583.0,1109.3 584.5,1103.9 586.0,1105.4 587.5,1101.1 589.0,1098.1 590.5,1097.1 592.0,1093.1 593.5,1090.9 595.0,1089.3 596.5,1090.6 598.0,1088.1 599.5,1079.6 601.0,1078.7 602.5,1071.9 604.0,1068.0 605.5,1066.5 607.0,1062.6 608.5,1064.9 610.0,1058.6 611.5,1051.1 613.0,1054.0 614.5,1049.4 616.0,1046.1 617.5,1037.3 619.0,1043.1 620.5,1043.6 622.0,1041.5 623.5,1040.1 625.0,1040.0 626.5,1034.2 628.0,1033.1 629.5,1027.2 631.0,1024.1 632.5,1024.3 634.0,1019.9 635.5,1011.3 637.0,1010.8 638.5,1008.1 640.0,1003.7 641.5,1004.1 643.0,1000.8 644.5,995.3 646.0,993.6 647.5,999.3 649.0,991.3 650.5,991.3 652.0,991.6 653.5,990.0 655.0,983.4 656.5,982.3 658.0,982.3 659.5,982.6 661.0,977.9 662.5,974.1 664.0,977.8 665.5,978.4 667.0,975.3 668.5,971.1 670.0,971.8 671.5,970.9 673.0,971.8 674.5,966.6 676.0,968.2 677.5,968.4 679.0,965.7 680.5,968.1 682.0,968.6 683.5,967.2 685.0,968.7 686.5,964.4 688.0,965.9 689.5,967.6 691.0,966.9 692.5,968.3 694.0,962.9 695.5,960.4 697.0,965.3 698.5,968.6 700.0,975.0 701.5,974.9 703.0,972.6 704.5,978.2 706.0,977.6 707.5,976.7 709.0,987.9 710.5,986.7 712.0,987.3 713.5,988.5 715.0,992.8 716.5,991.2 718.0,993.8 719.5,990.3 721.0,989.3 722.5,997.9 724.0,1002.0 725.5,1001.5 727.0,1002.1 728.5,1003.7 730.0,1003.4 731.5,1010.3 733.0,1011.7 734.5,1012.6 736.0,1014.2 737.5,1017.8 739.0,1019.0 740.5,1021.1 742.0,1018.5 743.5,1023.1 745.0,1030.4 746.5,1026.7 748.0,1027.3 749.5,1031.8 751.0,1034.2 752.5,1034.8 754.0,1030.4 755.5,1035.4 757.0,1034.2 758.5,1035.4 760.0,1040.8 761.5,1041.5 763.0,1045.5 764.5,1054.2 766.0,1052.2 767.5,1052.4 769.0,1050.4 770.5,1052.0 772.0,1053.1 773.5,1056.1 775.0,1056.9 776.5,1059.2 778.0,1062.2 779.5,1062.1 781.0,1061.9 782.5,1063.2 784.0,1069.2 785.5,1071.0 787.0,1074.6 788.5,1076.9 790.0,1074.9 791.5,1077.9 793.0,1074.8 794.5,1084.0 796.0,1085.5 797.5,1082.6 799.0,1080.7 800.5,1085.3 802.0,1082.4 803.5,1085.0 805.0,1091.3 806.5,1092.5 808.0,1092.4 809.5,1097.6 811.0,1095.7 812.5,1099.4 814.0,1100.3 815.5,1100.6 817.0,1105.1 818.5,1103.7 820.0,1111.0 821.5,1108.0 823.0,1113.5 824.5,1108.7 826.0,1111.5 827.5,1109.2 829.0,1108.4 830.5,1113.0 832.0,1116.4 833.5,1113.1 835.0,1118.9 836.5,1117.0 838.0,1119.1 839.5,1121.7 841.0,1123.7 842.5,1119.2 844.0,1127.2 845.5,1128.5 847.0,1126.6 848.5,1125.7 850.0,1125.0 851.5,1126.8 853.0,1133.3 854.5,1134.1 856.0,1133.0 857.5,1135.5 859.0,1142.8 860.5,1141.2 862.0,1140.6 863.5,1146.6 865.0,1147.2 866.5,1146.7 868.0,1145.9 869.5,1144.2 871.0,1145.6 872.5,1148.7 874.0,1150.9 875.5,1153.6 877.0,1155.4 878.5,1155.6 880.0,1156.2 881.5,1153.9 883.0,1150.9 884.5,1154.8 886.0,1155.6 887.5,1156.7 889.0,1158.4 890.5,1156.9 892.0,1157.1 893.5,1160.3 895.0,1162.2 896.5,1161.0 898.0,1163.9 899.5,1163.6 901.0,1161.7 902.5,1164.5 904.0,1170.6 905.5,1166.3 907.0,1169.7 908.5,1172.3 910.0,1173.5 911.5,1168.6 913.0,1174.7 914.5,1172.7 916.0,1171.1 917.5,1171.5 919.0,1174.3 920.5,1174.1 922.0,1173.7 923.5,1177.6 925.0,1174.2 926.5,1172.2 928.0,1177.0 929.5,1178.5 931.0,1179.7 932.5,1174.9 934.0,1179.0 935.5,1179.4 937.0,1182.4 938.5,1176.1 940.0,1177.8 941.5,1177.9 943.0,1174.5 944.5,1176.0 946.0,1181.5 947.5,1179.2 949.0,1177.6 950.5,1181.7 952.0,1183.5 953.5,1184.0 955.0,1179.8 956.5,1180.7 958.0,1184.3 959.5,1181.3 961.0,1180.1 962.5,1184.3 964.0,1187.7 965.5,1181.8 967.0,1176.5 968.5,1178.6 970.0,1180.9 971.5,1183.7 973.0,1186.5 974.5,1185.5 976.0,1183.8 977.5,1185.7 979.0,1183.8 980.5,1185.4 982.0,1184.8 983.5,1192.9 985.0,1190.9 986.5,1185.5 988.0,1184.1 989.5,1185.5 991.0,1183.1 992.5,1184.6 994.0,1185.5 995.5,1189.7 997.0,1187.7 998.5,1186.0 1000.0,1184.5 1001.5,1184.6 1003.0,1187.5 1004.5,1188.1 1006.0,1191.4 1007.5,1188.1 1009.0,1191.0 1010.5,1190.2 1012.0,1188.9 1013.5,1183.7 1015.0,1183.9 1016.5,1189.3 1018.0,1192.4 1019.5,1189.7 1021.0,1190.0 1022.5,1187.3 1024.0,1186.3 1025.5,1185.4 1027.0,1189.0 1028.5,1188.5 1030.0,1186.4 1031.5,1185.5 1033.0,1187.5 1034.5,1187.5 1036.0,1184.3 1037.5,1189.7 1039.0,1187.9 1040.5,1186.1 1042.0,1189.5 1043.5,1189.4 1045.0,1186.2 1046.5,1186.9 1048.0,1183.3 1049.5,1183.0 1051.0,1179.2 1052.5,1186.6 1054.0,1181.3 1055.5,1185.2 1057.0,1183.0 1058.5,1181.0 1060.0,1182.2 1061.5,1183.1 1063.0,1183.4 1064.5,1185.6 1066.0,1182.0 1067.5,1181.3 1069.0,1177.0 1070.5,1178.3 1072.0,1177.1 1073.5,1174.5 1075.0,1174.4 1076.5,1174.4 1078.0,1174.7 1079.5,1175.1 1081.0,1172.8 1082.5,1171.3 1084.0,1174.6 1085.5,1169.4 1087.0,1170.0 1088.5,1176.0 1090.0,1166.8 1091.5,1168.3 1093.0,1172.9 1094.5,1167.7 1096.0,1176.1 1097.5,1165.8 1099.0,1171.2 1100.5,1173.7 1102.0,1171.3 1103.5,1167.0 1105.0,1166.5 1106.5,1162.7 1108.0,1164.9 1109.5,1160.2 1111.0,1159.7 1112.5,1162.3 1114.0,1156.7 1115.5,1155.6 1117.0,1156.0 1118.5,1151.0 1120.0,1154.5 1121.5,1152.6 1123.0,1145.7 1124.5,1146.3 1126.0,1143.9 1127.5,1142.1 1129.0,1142.6 1130.5,1139.9 1132.0,1142.2 1133.5,1138.1 1135.0,1139.9 1136.5,1137.4 1138.0,1137.8 1139.5,1133.9 1141.0,1131.9 1142.5,1129.2 1144.0,1132.1 1145.5,1133.3 1147.0,1135.6 1148.5,1133.5 1150.0,1129.3 1151.5,1126.5 1153.0,1126.7 1154.5,1125.0 1156.0,1127.4 1157.5,1126.0 1159.0,1119.8 1160.5,1117.3 1162.0,1120.9 1163.5,1118.1 1165.0,1114.1 1166.5,1115.4 1168.0,1110.6 1169.5,1107.8 1171.0,1105.5 1172.5,1099.7 1174.0,1103.9 1175.5,1099.0 1177.0,1097.2 1178.5,1095.5 1180.0,1097.2 1181.5,1094.4 1183.0,1092.1 1184.5,1085.9 1186.0,1086.6 1187.5,1082.2 1189.0,1083.4 1190.5,1082.5 1192.0,1079.0 1193.5,1081.3 1195.0,1076.6 1196.5,1073.3 1198.0,1070.1 1199.5,1067.0 1201.0,1067.8 1202.5,1067.3 1204.0,1059.7 1205.5,1062.0 1207.0,1060.7 1208.5,1059.7 1210.0,1056.9 1211.5,1050.3 1213.0,1047.3 1214.5,1052.8 1216.0,1049.2 1217.5,1041.7 1219.0,1042.8 1220.5,1040.0 1222.0,1033.4 1223.5,1028.7 1225.0,1027.3 1226.5,1029.5 1228.0,1027.0 1229.5,1023.1 1231.0,1021.1 1232.5,1019.2 1234.0,1009.6 1235.5,1009.0 1237.0,1006.1 1238.5,1002.1 1240.0,1001.2 1241.5,1000.5 1243.0,998.4 1244.5,993.2 1246.0,992.5 1247.5,997.2 1249.0,988.8 1250.5,982.2 1252.0,983.9 1253.5,983.4 1255.0,980.6 1256.5,974.0 1258.0,976.0 1259.5,971.2 1261.0,967.4 1262.5,966.9 1264.0,966.9 1265.5,967.6 1267.0,965.9 1268.5,961.6 1270.0,960.1 1271.5,954.8 1273.0,952.2 1274.5,943.3 1276.0,937.8 1277.5,940.4 1279.0,933.7 1280.5,931.8 1282.0,930.2 1283.5,926.5 1285.0,923.5 1286.5,925.5 1288.0,914.7 1289.5,918.0 1291.0,921.8 1292.5,914.5 1294.0,909.8 1295.5,907.9 1297.0,905.7 1298.5,892.9 1300.0,889.3 1301.5,887.1 1303.0,887.1 1304.5,885.1 1306.0,884.3 1307.5,879.4 1309.0,874.6 1310.5,865.9 1312.0,859.1 1313.5,857.3 1315.0,855.4 1316.5,851.1 1318.0,855.5 1319.5,851.5 1321.0,845.0 1322.5,848.0 1324.0,843.0 1325.5,842.4 1327.0,839.7 1328.5,837.7 1330.0,835.6 1331.5,831.7 1333.0,830.8 1334.5,834.4 1336.0,823.4 1337.5,824.1 1339.0,824.9 1340.5,819.5 1342.0,815.6 1343.5,822.1 1345.0,816.3 1346.5,818.6 1348.0,814.8 1349.5,810.8 1351.0,809.7 1352.5,808.7 1354.0,808.7 1355.5,805.9 1357.0,803.5 1358.5,802.5 1360.0,804.6 1361.5,803.3 1363.0,797.6 1364.5,796.4 1366.0,798.6 1367.5,796.5 1369.0,796.1 1370.5,794.8 1372.0,796.4 1373.5,799.1 1375.0,801.6 1376.5,800.1 1378.0,804.9 1379.5,801.3 1381.0,807.7 1382.5,803.3 1384.0,798.5 1385.5,793.0 1387.0,780.9 1388.5,781.7 1390.0,788.4 1391.5,802.7 1393.0,801.6 1394.5,811.4 1396.0,807.7 1397.5,804.8 1399.0,794.2 1400.5,796.9 1402.0,796.8 1403.5,799.0 1405.0,798.4 1406.5,795.2 1408.0,799.9 1409.5,801.3 1411.0,801.4 1412.5,803.0 1414.0,804.8 1415.5,804.3 1417.0,803.0 1418.5,805.2 1420.0,815.3 1421.5,818.7 1423.0,819.0 1424.5,819.2 1426.0,821.7 1427.5,823.7 1429.0,824.4 1430.5,824.9 1432.0,833.5 1433.5,832.7 1435.0,831.2 1436.5,831.3 1438.0,835.3 1439.5,842.6 1441.0,846.9 1442.5,847.2 1444.0,849.2 1445.5,849.5 1447.0,847.9 1448.5,853.7 1450.0,853.5 1451.5,858.4 1453.0,852.2 1454.5,851.7 1456.0,855.2 1457.5,853.8 1459.0,852.0 1460.5,855.6 1462.0,862.9 1463.5,869.0 1465.0,872.5 1466.5,878.4 1468.0,881.3 1469.5,881.0 1471.0,880.8 1472.5,880.7 1474.0,883.4 1475.5,886.0 1477.0,885.3 1478.5,887.4 1480.0,888.0 1481.5,887.4 1483.0,890.6 1484.5,898.3 1486.0,901.7 1487.5,906.8 1489.0,906.0 1490.5,908.7 1492.0,912.3 1493.5,913.6 1495.0,911.3 1496.5,913.4 1498.0,917.2 1499.5,918.4 1501.0,925.7 1502.5,932.8 1504.0,933.7 1505.5,942.0 1507.0,940.5 1508.5,941.1 1510.0,943.0 1511.5,943.4 1513.0,947.5 1514.5,948.8 1516.0,954.1 1517.5,954.3 1519.0,955.0 1520.5,955.0 1522.0,953.5 1523.5,958.1 1525.0,959.5 1526.5,965.8 1528.0,967.0 1529.5,972.8 1531.0,974.0 1532.5,975.7 1534.0,976.4 1535.5,978.0 1537.0,981.2 1538.5,984.3 1540.0,982.4 1541.5,986.2 1543.0,994.4 1544.5,991.0 1546.0,990.3 1547.5,990.7 1549.0,990.2 1550.5,997.9 1552.0,998.8 1553.5,1000.4 1555.0,1006.5 1556.5,1011.6 1558.0,1005.9 1559.5,1010.7 1561.0,1013.8 1562.5,1015.7 1564.0,1018.6 1565.5,1020.4 1567.0,1027.5 1568.5,1029.9 1570.0,1032.2 1571.5,1037.8 1573.0,1040.6 1574.5,1042.2 1576.0,1044.4 1577.5,1050.3 1579.0,1049.9 1580.5,1048.1 1582.0,1046.0 1583.5,1047.0 1585.0,1045.8 1586.5,1048.6 1588.0,1050.5 1589.5,1046.4 1591.0,1052.9 1592.5,1059.9 1594.0,1063.1 1595.5,1063.5 1597.0,1071.2 1598.5,1069.4 1600.0,1067.7 1601.5,1068.6 1603.0,1072.2 1604.5,1076.4 1606.0,1078.3 1607.5,1076.8 1609.0,1073.2 1610.5,1074.6 1612.0,1075.6 1613.5,1078.8 1615.0,1076.7 1616.5,1082.0 1618.0,1086.5 1619.5,1086.5 1621.0,1089.0 1622.5,1087.2 1624.0,1086.0 1625.5,1089.0 1627.0,1095.5 1628.5,1097.7 1630.0,1094.8 1631.5,1099.2 1633.0,1097.6 1634.5,1102.7 1636.0,1102.9 1637.5,1101.5 1639.0,1106.4 1640.5,1105.6 1642.0,1106.2 1643.5,1106.8 1645.0,1112.7 1646.5,1114.3 1648.0,1114.2 1649.5,1113.1 1651.0,1117.7 1652.5,1113.7 1654.0,1110.8 1655.5,1115.7 1657.0,1117.5 1658.5,1114.3 1660.0,1107.3 1661.5,1109.4 1663.0,1115.7 1664.5,1117.6 1666.0,1124.5 1667.5,1120.2 1669.0,1126.3 1670.5,1126.0 1672.0,1132.2 1673.5,1130.9 1675.0,1134.2 1676.5,1131.1 1678.0,1128.2 1679.5,1129.5 1681.0,1132.6 1682.5,1133.1 1684.0,1141.2 1685.5,1145.4 1687.0,1143.8 1688.5,1140.3 1690.0,1144.0 1691.5,1145.3 1693.0,1154.6 1694.5,1157.4 1696.0,1162.5 1697.5,1165.3 1699.0,1163.6 1700.5,1169.0 1702.0,1169.1 1703.5,1171.9 1705.0,1169.1 1706.5,1161.7 1708.0,1159.0 1709.5,1165.1 1711.0,1159.1 1712.5,1162.8 1714.0,1174.2 1715.5,1180.4 1717.0,1184.8 1718.5,1192.5 1720.0,1201.4 1721.5,1189.5 1723.0,1191.5 1724.5,1189.5 1726.0,1183.6 1727.5,1179.3 1729.0,1178.9 1730.5,1188.8 1732.0,1190.3 1733.5,1198.7"/>
<polyline stroke="#0000ff" points="233.5,1222.0 235.0,1221.5 236.5,1221.5 238.0,1227.2 239.5,1225.4 241.0,1225.9 242.5,1226.3 244.0,1223.4 245.5,1224.0 247.0,1224.4 248.5,1229.5 250.0,1228.2 251.5,1226.7 253.0,1231.5 254.5,1234.6 256.0,1227.9 257.5,1238.1 259.0,1237.2 260.5,1236.6 262.0,1241.9 263.5,1243.0 265.0,1247.2 266.5,1253.0 268.0,1247.7 269.5,1246.7 271.0,1246.6 272.5,1237.6 274.0,1235.4 275.5,1234.3 277.0,1237.2 278.5,1226.5 280.0,1223.4 281.5,1223.9 283.0,1220.9 284.5,1214.7 286.0,1215.6 287.5,1212.8 289.0,1208.2 290.5,1203.6 292.0,1197.7 293.5,1190.2 295.0,1183.8 296.5,1174.5 298.0,1171.0 299.5,1167.6 301.0,1160.1 302.5,1153.3 304.0,1142.5 305.5,1138.6 307.0,1132.6 308.5,1116.4 310.0,1105.7 311.5,1092.2 313.0,1083.5 314.5,1073.2 316.0,1063.5 317.5,1054.5 319.0,1047.6 320.5,1037.6 322.0,1032.2 323.5,1017.1 325.0,1003.8 326.5,986.9 328.0,977.9 329.5,968.4 331.0,962.0 332.5,948.4 334.0,935.1 335.5,925.5 337.0,922.9 338.5,921.0 340.0,922.4 341.5,918.5 343.0,929.0 344.5,933.7 346.0,944.5 347.5,939.2 349.0,936.9 350.5,932.0 352.0,934.9 353.5,924.9 355.0,919.8 356.5,911.2 358.0,899.3 359.5,894.0 361.0,889.7 362.5,891.9 364.0,917.9 365.5,925.4 367.0,931.9 368.5,936.3 370.0,942.6 371.5,952.7 373.0,957.5 374.5,964.5 376.0,971.5 377.5,979.7 379.0,993.7 380.5,996.8 382.0,1003.6 383.5,1015.4 385.0,1029.5 386.5,1050.6 388.0,1047.0 389.5,1054.0 391.0,1059.7 392.5,1058.2 394.0,1062.0 395.5,1070.2 397.0,1079.6 398.5,1079.8 400.0,1083.0 401.5,1095.2 403.0,1101.8 404.5,1099.5 406.0,1094.8 407.5,1103.8 409.0,1103.6 410.5,1106.8 412.0,1105.9 413.5,1105.2 415.0,1105.7 416.5,1111.3 418.0,1113.6 419.5,1105.6 421.0,1106.9 422.5,1115.5 424.0,1113.0 425.5,1109.7 427.0,1113.1 428.5,1114.5 430.0,1115.0 431.5,1114.7 433.0,1115.4 434.5,1115.7 436.0,1118.0 437.5,1116.0 439.0,1116.6 440.5,1117.4 442.0,1120.8 443.5,1119.0 445.0,1116.4 446.5,1116.9 448.0,1116.5 449.5,1117.7 451.0,1116.5 452.5,1119.0 454.0,1118.7 455.5,1114.7 457.0,1112.5 458.5,1115.3 460.0,1115.2 461.5,1113.3 463.0,1109.3 464.5,1107.3 466.0,1112.5 467.5,1115.4 469.0,1116.3 470.5,1111.9 472.0,1117.1 473.5,1115.7 475.0,1117.4 476.5,1118.4 478.0,1115.6 479.5,1115.3 481.0,1111.9 482.5,1113.8 484.0,1112.6 485.5,1117.6 487.0,1118.4 488.5,1120.3 490.0,1119.6 491.5,1116.6 493.0,1118.2 494.5,1116.9 496.0,1118.5 497.5,1118.1 499.0,1114.2 500.5,1115.3 502.0,1115.7 503.5,1114.1 505.0,1116.0 506.5,1118.1 508.0,1112.6 509.5,1110.3 511.0,1104.8 512.5,1108.1 514.0,1108.4 515.5,1103.4 517.0,1107.8 518.5,1109.8 520.0,1106.1 521.5,1105.3 523.0,1103.3 524.5,1106.3 526.0,1100.9 527.5,1101.2 529.0,1106.7 530.5,1102.6 532.0,1101.1 533.5,1098.7 535.0,1094.5 536.5,1095.3 538.0,1095.9 539.5,1091.3 541.0,1092.2 542.5,1094.0 544.0,1092.7 545.5,1084.3 547.0,1082.2 548.5,1079.4 550.0,1084.0 551.5,1083.1 553.0,1081.1 554.5,1075.3 556.0,1071.4 557.5,1072.3 559.0,1071.3 560.5,1066.8 562.0,1066.5 563.5,1066.3 565.0,1063.6 566.5,1057.9 568.0,1052.2 569.5,1053.8 571.0,1054.1 572.5,1051.1 574.0,1048.1 575.5,1045.1 577.0,1046.1 578.5,1042.8 580.0,1040.3 581.5,1035.2 583.0,1032.8 584.5,1032.5 586.0,1027.5 587.5,1023.3 589.0,1022.7 590.5,1024.2 592.0,1019.6 593.5,1018.5 595.0,1011.9 596.5,1006.7 598.0,1000.4 599.5,998.5 601.0,1001.3 602.5,997.5 604.0,995.2 605.5,993.2 607.0,989.1 608.5,985.8 610.0,984.2 611.5,983.4 613.0,980.8 614.5,978.1 616.0,974.6 617.5,969.3 619.0,967.1 620.5,963.0 622.0,964.6 623.5,955.6 625.0,955.4 626.5,960.8 628.0,953.6 629.5,947.3 631.0,947.3 632.5,949.1 634.0,944.1 635.5,942.5 637.0,939.1 638.5,934.7 640.0,939.8 641.5,931.2 643.0,923.7 644.5,919.7 646.0,918.6 647.5,916.3 649.0,914.5 650.5,910.7 652.0,903.8 653.5,905.2 655.0,902.3 656.5,899.6 658.0,894.6 659.5,894.1 661.0,892.5 662.5,892.2 664.0,887.2 665.5,887.9 667.0,887.4 668.5,882.7 670.0,881.7 671.5,880.5 673.0,884.2 674.5,876.9 676.0,880.4 677.5,879.7 679.0,883.0 680.5,888.4 682.0,886.7 683.5,888.4 685.0,886.8 686.5,892.9 688.0,892.3 689.5,891.8 691.0,885.5 692.5,884.0 694.0,889.4 695.5,887.9 697.0,887.4 698.5,890.1 700.0,888.3 701.5,894.3 703.0,896.3 704.5,899.3 706.0,899.1 707.5,903.3 709.0,903.1 710.5,908.2 712.0,911.9 713.5,913.5 715.0,914.4 716.5,916.5 718.0,910.5 719.5,919.2 721.0,921.6 722.5,924.4 724.0,926.6 725.5,926.5 727.0,931.0 728.5,937.9 730.0,944.0 731.5,943.4 733.0,945.7 734.5,955.9 736.0,955.9 737.5,964.5 739.0,963.8 740.5,961.7 742.0,967.2 743.5,971.7 745.0,965.7 746.5,972.0 748.0,971.0 749.5,975.5 751.0,973.7 752.5,971.0 754.0,976.9 755.5,981.2 757.0,986.1 758.5,987.8 760.0,986.7 761.5,985.4 763.0,985.9 764.5,988.2 766.0,989.1 767.5,992.5 769.0,989.8 770.5,997.6 772.0,1001.8 773.5,1010.7 775.0,1010.5 776.5,1008.2 778.0,1011.6 779.5,1009.4 781.0,1010.9 782.5,1009.3 784.0,1017.7 785.5,1019.1 787.0,1015.1 788.5,1017.7 790.0,1022.3 791.5,1023.4 793.0,1024.4 794.5,1023.4 796.0,1025.5 797.5,1030.3 799.0,1035.9 800.5,1035.2 802.0,1036.1 803.5,1044.4 805.0,1043.5 806.5,1049.5 808.0,1051.5 809.5,1054.9 811.0,1059.9 812.5,1060.1 814.0,1061.4 815.5,1058.7 817.0,1059.3 818.5,1063.9 820.0,1068.1 821.5,1069.3 823.0,1072.3 824.5,1068.8 826.0,1067.9 827.5,1070.8 829.0,1070.0 830.5,1070.3 832.0,1069.2 833.5,1075.2 835.0,1073.3 836.5,1077.5 838.0,1075.8 839.5,1082.6 841.0,1081.0 842.5,1086.0 844.0,1083.1 845.5,1085.7 847.0,1092.3 848.5,1090.2 850.0,1092.5 851.5,1093.3 853.0,1089.9 854.5,1096.6 856.0,1100.3 857.5,1097.9 859.0,1102.3 860.5,1101.3 862.0,1100.9 863.5,1104.4 865.0,1104.5 866.5,1112.4 868.0,1106.0 869.5,1109.8 871.0,1113.1 872.5,1106.8 874.0,1106.1 875.5,1112.9 877.0,1113.0 878.5,1115.3 880.0,1118.9 881.5,1116.6 883.0,1114.7 884.5,1111.0 886.0,1118.0 887.5,1118.3 889.0,1121.4 890.5,1122.9 892.0,1119.5 893.5,1126.7 895.0,1128.0 896.5,1127.4 898.0,1122.6 899.5,1123.5 901.0,1124.1 902.5,1124.7 904.0,1123.4 905.5,1127.1 907.0,1128.0 908.5,1128.5 910.0,1126.8 911.5,1130.9 913.0,1129.8 914.5,1122.0 916.0,1125.4 917.5,1128.7 919.0,1132.1 920.5,1130.1 922.0,1129.7 923.5,1129.1 925.0,1132.5 926.5,1131.2 928.0,1130.4 929.5,1130.3 931.0,1133.9 932.5,1132.6 934.0,1129.4 935.5,1134.7 937.0,1133.6 938.5,1135.7 940.0,1137.0 941.5,1139.6 943.0,1140.3 944.5,1136.7 946.0,1137.0 947.5,1135.0 949.0,1142.2 950.5,1141.9 952.0,1143.9 953.5,1141.0 955.0,1136.0 956.5,1144.2 958.0,1144.0 959.5,1143.6 961.0,1144.1 962.5,1146.1 964.0,1146.9 965.5,1142.1 967.0,1147.8 968.5,1146.4 970.0,1145.9 971.5,1152.1 973.0,1152.3 974.5,1149.2 976.0,1145.0 977.5,1149.6 979.0,1152.6 980.5,1152.0 982.0,1149.2 983.5,1150.0 985.0,1149.8 986.5,1153.6 988.0,1156.7 989.5,1158.0 991.0,1154.2 992.5,1155.7 994.0,1157.6 995.5,1155.6 997.0,1156.1 998.5,1162.4 1000.0,1159.6 1001.5,1160.2 1003.0,1157.7 1004.5,1158.2 1006.0,1154.3 1007.5,1157.4 1009.0,1161.7 1010.5,1164.9 1012.0,1163.3 1013.5,1161.4 1015.0,1159.3 1016.5,1157.2 1018.0,1157.7 1019.5,1159.9 1021.0,1156.8 1022.5,1160.0 1024.0,1156.3 1025.5,1152.8 1027.0,1153.9 1028.5,1152.7 1030.0,1152.8 1031.5,1159.1 1033.0,1157.4 1034.5,1157.1 1036.0,1159.3 1037.5,1159.8 1039.0,1155.0 1040.5,1157.8 1042.0,1156.2 1043.5,1154.0 1045.0,1154.2 1046.5,1149.3 1048.0,1148.9 1049.5,1150.5 1051.0,1152.3 1052.5,1149.8 1054.0,1149.0 1055.5,1151.3 1057.0,1152.5 1058.5,1150.6 1060.0,1150.6 1061.5,1146.1 1063.0,1144.4 1064.5,1145.4 1066.0,1143.6 1067.5,1142.0 1069.0,1146.6 1070.5,1143.0 1072.0,1139.2 1073.5,1141.8 1075.0,1145.8 1076.5,1142.0 1078.0,1143.1 1079.5,1139.4 1081.0,1137.6 1082.5,1136.6 1084.0,1137.4 1085.5,1142.3 1087.0,1135.8 1088.5,1140.0 1090.0,1134.8 1091.5,1134.1 1093.0,1136.7 1094.5,1136.1 1096.0,1134.0 1097.5,1127.7 1099.0,1130.0 1100.5,1126.7 1102.0,1133.2 1103.5,1127.4 1105.0,1124.9 1106.5,1120.4 1108.0,1119.7 1109.5,1116.8 1111.0,1120.7 1112.5,1118.0 1114.0,1118.0 1115.5,1114.3 1117.0,1112.6 1118.5,1116.0 1120.0,1110.5 1121.5,1105.6 1123.0,1109.3 1124.5,1105.9 1126.0,1105.3 1127.5,1108.0 1129.0,1103.5 1130.5,1105.2 1132.0,1101.3 1133.5,1104.3 1135.0,1104.3 1136.5,1098.4 1138.0,1096.4 1139.5,1093.8 1141.0,1094.6 1142.5,1096.4 1144.0,1089.4 1145.5,1092.0 1147.0,1086.8 1148.5,1085.0 1150.0,1081.7 1151.5,1089.4 1153.0,1085.8 1154.5,1083.4 1156.0,1079.9 1157.5,1082.1 1159.0,1074.1 1160.5,1075.6 1162.0,1081.2 1163.5,1074.8 1165.0,1072.3 1166.5,1072.6 1168.0,1067.7 1169.5,1066.9 1171.0,1068.1 1172.5,1065.1 1174.0,1063.0 1175.5,1059.3 1177.0,1058.3 1178.5,1055.8 1180.0,1056.5 1181.5,1052.9 1183.0,1047.0 1184.5,1037.7 1186.0,1040.9 1187.5,1040.4 1189.0,1033.3 1190.5,1026.2 1192.0,1024.4 1193.5,1027.1 1195.0,1020.7 1196.5,1017.9 1198.0,1017.3 1199.5,1017.8 1201.0,1013.0 1202.5,1009.5 1204.0,1006.1 1205.5,1009.0 1207.0,1007.1 1208.5,1001.7 1210.0,995.7 1211.5,994.4 1213.0,996.5 1214.5,992.5 1216.0,993.7 1217.5,991.6 1219.0,989.0 1220.5,987.8 1222.0,985.6 1223.5,979.9 1225.0,977.8 1226.5,982.4 1228.0,972.8 1229.5,968.6 1231.0,969.2 1232.5,963.5 1234.0,957.4 1235.5,952.7 1237.0,954.5 1238.5,955.0 1240.0,954.3 1241.5,949.2 1243.0,948.5 1244.5,941.6 1246.0,940.2 1247.5,935.5 1249.0,933.3 1250.5,931.7 1252.0,929.3 1253.5,921.2 1255.0,922.4 1256.5,916.9 1258.0,911.3 1259.5,909.9 1261.0,903.8 1262.5,902.6 1264.0,900.2 1265.5,895.0 1267.0,892.4 1268.5,887.2 1270.0,883.8 1271.5,877.0 1273.0,876.2 1274.5,871.8 1276.0,868.9 1277.5,866.9 1279.0,864.9 1280.5,857.6 1282.0,853.7 1283.5,854.1 1285.0,854.0 1286.5,851.1 1288.0,848.7 1289.5,845.9 1291.0,839.5 1292.5,832.7 1294.0,825.2 1295.5,820.6 1297.0,818.4 1298.5,817.4 1300.0,814.7 1301.5,810.5 1303.0,805.5 1304.5,801.2 1306.0,794.1 1307.5,788.4 1309.0,784.3 1310.5,778.4 1312.0,773.2 1313.5,773.5 1315.0,771.4 1316.5,766.9 1318.0,763.4 1319.5,767.6 1321.0,759.6 1322.5,756.2 1324.0,755.0 1325.5,748.7 1327.0,746.7 1328.5,747.3 1330.0,741.8 1331.5,736.6 1333.0,733.7 1334.5,730.7 1336.0,730.9 1337.5,727.5 1339.0,724.7 1340.5,724.5 1342.0,725.4 1343.5,722.7 1345.0,720.8 1346.5,711.8 1348.0,715.3 1349.5,718.1 1351.0,714.3 1352.5,707.7 1354.0,703.8 1355.5,705.0 1357.0,701.7 1358.5,704.1 1360.0,701.3 1361.5,703.2 1363.0,704.5 1364.5,695.4 1366.0,697.7 1367.5,696.0 1369.0,692.3 1370.5,692.6 1372.0,693.0 1373.5,695.3 1375.0,688.6 1376.5,691.9 1378.0,695.0 1379.5,690.9 1381.0,688.4 1382.5,685.5 1384.0,680.6 1385.5,682.3 1387.0,681.6 1388.5,680.9 1390.0,684.5 1391.5,680.3 1393.0,677.7 1394.5,680.3 1396.0,674.7 1397.5,674.5 1399.0,678.6 1400.5,680.9 1402.0,686.8 1403.5,688.0 1405.0,695.1 1406.5,698.6 1408.0,698.8 1409.5,697.5 1411.0,701.3 1412.5,704.8 1414.0,702.4 1415.5,706.7 1417.0,710.7 1418.5,711.7 1420.0,716.6 1421.5,718.4 1423.0,714.5 1424.5,716.7 1426.0,716.3 1427.5,720.5 1429.0,719.4 1430.5,724.3 1432.0,726.0 1433.5,729.1 1435.0,729.1 1436.5,727.6 1438.0,737.4 1439.5,737.9 1441.0,743.1 1442.5,744.6 1444.0,747.2 1445.5,752.9 1447.0,752.7 1448.5,757.0 1450.0,753.2 1451.5,759.4 1453.0,760.8 1454.5,762.6 1456.0,765.2 1457.5,768.4 1459.0,774.1 1460.5,768.5 1462.0,772.9 1463.5,774.9 1465.0,781.7 1466.5,781.9 1468.0,785.7 1469.5,787.0 1471.0,791.6 1472.5,795.5 1474.0,794.3 1475.5,796.2 1477.0,794.6 1478.5,799.4 1480.0,803.7 1481.5,802.3 1483.0,807.2 1484.5,802.4 1486.0,802.8 1487.5,806.6 1489.0,811.9 1490.5,816.6 1492.0,819.6 1493.5,822.2 1495.0,826.8 1496.5,826.7 1498.0,826.1 1499.5,827.7 1501.0,838.3 1502.5,831.8 1504.0,836.2 1505.5,844.3 1507.0,845.6 1508.5,844.2 1510.0,848.0 1511.5,853.4 1513.0,857.6 1514.5,855.3 1516.0,860.5 1517.5,863.1 1519.0,867.6 1520.5,871.6 1522.0,870.1 1523.5,868.6 1525.0,874.9 1526.5,882.2 1528.0,882.8 1529.5,883.1 1531.0,890.5 1532.5,885.7 1534.0,890.1 1535.5,889.9 1537.0,892.3 1538.5,894.7 1540.0,900.1 1541.5,896.9 1543.0,898.1 1544.5,897.8 1546.0,904.5 1547.5,905.9 1549.0,909.7 1550.5,909.0 1552.0,912.2 1553.5,918.9 1555.0,919.6 1556.5,923.7 1558.0,927.4 1559.5,928.8 1561.0,928.8 1562.5,937.9 1564.0,941.1 1565.5,945.4 1567.0,940.9 1568.5,941.8 1570.0,943.0 1571.5,948.0 1573.0,955.8 1574.5,958.0 1576.0,958.0 1577.5,959.8 1579.0,963.4 1580.5,962.9 1582.0,965.4 1583.5,966.8 1585.0,962.2 1586.5,966.5 1588.0,974.0 1589.5,972.6 1591.0,973.9 1592.5,975.1 1594.0,978.0 1595.5,986.2 1597.0,988.2 1598.5,989.1 1600.0,985.7 1601.5,992.1 1603.0,991.4 1604.5,991.5 1606.0,999.1 1607.5,1001.6 1609.0,995.3 1610.5,1001.3 1612.0,1003.5 1613.5,1001.3 1615.0,1006.3 1616.5,1003.7 1618.0,1005.7 1619.5,1008.4 1621.0,1012.1 1622.5,1020.7 1624.0,1020.0 1625.5,1023.0 1627.0,1028.0 1628.5,1034.8 1630.0,1036.3 1631.5,1039.8 1633.0,1037.1 1634.5,1034.8 1636.0,1036.8 1637.5,1039.2 1639.0,1037.1 1640.5,1039.6 1642.0,1044.1 1643.5,1037.3 1645.0,1035.1 1646.5,1037.0 1648.0,1030.3 1649.5,1026.2 1651.0,1023.9 1652.5,1027.4 1654.0,1029.4 1655.5,1029.1 1657.0,1031.3 1658.5,1037.6 1660.0,1040.5 1661.5,1036.6 1663.0,1041.6 1664.5,1046.9 1666.0,1053.2 1667.5,1055.2 1669.0,1056.2 1670.5,1057.7 1672.0,1054.4 1673.5,1058.8 1675.0,1058.9 1676.5,1061.8 1678.0,1058.5 1679.5,1059.4 1681.0,1059.6 1682.5,1062.2 1684.0,1072.6 1685.5,1076.3 1687.0,1083.6 1688.5,1084.4 1690.0,1091.9 1691.5,1092.4 1693.0,1100.2 1694.5,1107.4 1696.0,1119.0 1697.5,1129.5 1699.0,1136.7 1700.5,1141.6 1702.0,1135.5 1703.5,1129.6 1705.0,1127.6 1706.5,1124.9 1708.0,1123.5 1709.5,1126.2 1711.0,1124.8 1712.5,1128.1 1714.0,1133.1 1715.5,1134.8 1717.0,1135.5 1718.5,1137.4 1720.0,1144.8 1721.5,1144.4 1723.0,1145.9 1724.5,1136.5 1726.0,1131.6 1727.5,1134.8 1729.0,1140.9 1730.5,1155.2 1732.0,1164.3 1733.5,1149.5"/>
<polyline stroke="#008080" points="233.5,1169.0 235.0,1168.1 236.5,1161.1 238.0,1165.7 239.5,1165.7 241.0,1167.2 242.5,1166.8 244.0,1171.0 245.5,1174.2 247.0,1179.0 248.5,1186.2 250.0,1186.4 251.5,1181.2 253.0,1184.7 254.5,1186.0 256.0,1189.9 257.5,1195.9 259.0,1195.8 260.5,1190.6 262.0,1190.1 263.5,1184.8 265.0,1177.5 266.5,1168.8 268.0,1160.5 269.5,1160.9 271.0,1149.2 272.5,1151.7 274.0,1152.9 275.5,1147.7 277.0,1145.5 278.5,1142.2 280.0,1141.0 281.5,1140.7 283.0,1136.4 284.5,1135.0 286.0,1131.9 287.5,1123.5 289.0,1115.7 290.5,1107.6 292.0,1101.0 293.5,1091.4 295.0,1089.9 296.5,1086.7 298.0,1079.2 299.5,1080.1 301.0,1066.0 302.5,1054.7 304.0,1048.9 305.5,1034.7 307.0,1026.1 308.5,1014.9 310.0,1004.9 311.5,995.7 313.0,984.8 314.5,974.4 316.0,961.7 317.5,951.0 319.0,939.0 320.5,925.7 322.0,919.1 323.5,907.1 325.0,897.9 326.5,896.5 328.0,890.0 329.5,881.3 331.0,877.9 332.5,877.6 334.0,871.4 335.5,872.6 337.0,870.8 338.5,873.6 340.0,873.1 341.5,878.1 343.0,877.9 344.5,874.1 346.0,875.1 347.5,872.5 349.0,874.3 350.5,876.0 352.0,874.9 353.5,866.7 355.0,864.5 356.5,862.5 358.0,857.1 359.5,852.0 361.0,840.8 362.5,842.4 364.0,844.4 365.5,854.4 367.0,881.0 368.5,905.1 370.0,923.7 371.5,943.9 373.0,958.2 374.5,972.4 376.0,993.4 377.5,1009.5 379.0,1020.8 380.5,1036.0 382.0,1052.5 383.5,1070.3 385.0,1083.3 386.5,1095.8 388.0,1102.6 389.5,1117.8 391.0,1132.0 392.5,1142.4 394.0,1151.1 395.5,1157.2 397.0,1168.9 398.5,1175.6 400.0,1175.4 401.5,1174.5 403.0,1183.6 404.5,1181.1 406.0,1185.1 407.5,1189.5 409.0,1184.1 410.5,1186.2 412.0,1186.7 413.5,1189.4 415.0,1190.5 416.5,1195.3 418.0,1193.9 419.5,1192.0 421.0,1194.9 422.5,1192.7 424.0,1191.7 425.5,1198.5 427.0,1193.1 428.5,1192.0 430.0,1194.0 431.5,1192.4 433.0,1189.9 434.5,1198.0 436.0,1196.8 437.5,1196.8 439.0,1197.8 440.5,1196.5 442.0,1195.8 443.5,1198.8 445.0,1205.3 446.5,1202.8 448.0,1201.6 449.5,1196.0 451.0,1198.0 452.5,1196.2 454.0,1200.3 455.5,1199.2 457.0,1199.1 458.5,1198.8 460.0,1197.2 461.5,1194.1 463.0,1198.3 464.5,1194.6 466.0,1193.5 467.5,1196.1 469.0,1196.4 470.5,1199.6 472.0,1203.5 473.5,1203.4 475.0,1203.8 476.5,1204.1 478.0,1206.3 479.5,1199.7 481.0,1202.1 482.5,1199.1 484.0,1195.9 485.5,1197.3 487.0,1195.9 488.5,1196.5 490.0,1196.9 491.5,1187.2 493.0,1189.2 494.5,1195.7 496.0,1195.0 497.5,1197.0 499.0,1195.9 500.5,1192.9 502.0,1194.3 503.5,1200.5 505.0,1203.9 506.5,1200.9 508.0,1201.1 509.5,1202.4 511.0,1197.2 512.5,1198.4 514.0,1203.4 515.5,1205.2 517.0,1198.8 518.5,1200.9 520.0,1195.4 521.5,1191.8 523.0,1187.2 524.5,1193.7 526.0,1192.3 527.5,1197.8 529.0,1194.6 530.5,1192.5 532.0,1187.2 533.5,1193.7 535.0,1191.3 536.5,1190.1 538.0,1184.8 539.5,1190.6 541.0,1192.6 542.5,1187.8 544.0,1187.2 545.5,1187.2 547.0,1187.5 548.5,1184.3 550.0,1186.2 551.5,1181.0 553.0,1177.3 554.5,1176.1 556.0,1169.9 557.5,1171.7 559.0,1176.5 560.5,1175.1 562.0,1171.0 563.5,1172.2 565.0,1166.2 566.5,1167.8 568.0,1170.0 569.5,1169.9 571.0,1165.0 572.5,1166.6 574.0,1168.6 575.5,1161.8 577.0,1161.2 578.5,1154.4 580.0,1149.7 581.5,1154.0 583.0,1152.7 584.5,1150.9 586.0,1147.5 587.5,1146.0 589.0,1147.5 590.5,1149.1 592.0,1143.4 593.5,1136.9 595.0,1141.7 596.5,1140.7 598.0,1139.0 599.5,1136.3 601.0,1139.8 602.5,1134.3 604.0,1132.2 605.5,1125.1 607.0,1125.0 608.5,1124.2 610.0,1124.2 611.5,1124.2 613.0,1120.2 614.5,1124.1 616.0,1117.5 617.5,1115.4 619.0,1116.0 620.5,1111.3 622.0,1113.2 623.5,1113.2 625.0,1109.4 626.5,1112.7 628.0,1108.3 629.5,1106.1 631.0,1101.7 632.5,1097.7 634.0,1098.5 635.5,1098.8 637.0,1097.4 638.5,1099.1 640.0,1090.9 641.5,1090.5 643.0,1088.5 644.5,1094.7 646.0,1091.1 647.5,1088.5 649.0,1085.7 650.5,1088.9 652.0,1085.8 653.5,1085.1 655.0,1078.7 656.5,1084.0 658.0,1083.7 659.5,1082.9 661.0,1084.3 662.5,1080.9 664.0,1079.7 665.5,1081.7 667.0,1081.4 668.5,1079.4 670.0,1079.4 671.5,1078.1 673.0,1080.5 674.5,1081.6 676.0,1079.1 677.5,1082.5 679.0,1074.6 680.5,1074.5 682.0,1079.5 683.5,1074.7 685.0,1069.4 686.5,1075.4 688.0,1075.0 689.5,1069.8 691.0,1073.5 692.5,1070.7 694.0,1069.1 695.5,1072.5 697.0,1073.3 698.5,1072.3 700.0,1074.5 701.5,1074.2 703.0,1076.9 704.5,1078.0 706.0,1080.3 707.5,1078.3 709.0,1075.6 710.5,1075.4 712.0,1078.6 713.5,1084.3 715.0,1084.5 716.5,1080.9 718.0,1084.5 719.5,1081.4 721.0,1086.6 722.5,1086.3 724.0,1089.8 725.5,1092.0 727.0,1091.4 728.5,1094.0 730.0,1092.6 731.5,1095.5 733.0,1100.4 734.5,1110.0 736.0,1104.8 737.5,1101.7 739.0,1099.5 740.5,1104.8 742.0,1100.5 743.5,1101.5 745.0,1106.0 746.5,1103.9 748.0,1110.6 749.5,1112.6 751.0,1109.0 752.5,1108.8 754.0,1107.8 755.5,1108.0 757.0,1113.6 758.5,1116.4 760.0,1116.9 761.5,1117.5 763.0,1116.5 764.5,1119.4 766.0,1116.8 767.5,1120.5 769.0,1126.6 770.5,1128.7 772.0,1125.4 773.5,1125.7 775.0,1131.3 776.5,1134.7 778.0,1127.7 779.5,1128.8 781.0,1132.1 782.5,1135.8 784.0,1132.1 785.5,1134.9 787.0,1134.3 788.5,1141.0 790.0,1138.9 791.5,1136.8 793.0,1136.7 794.5,1141.0 796.0,1142.1 797.5,1138.4 799.0,1141.4 800.5,1139.6 802.0,1141.0 803.5,1141.1 805.0,1141.6 806.5,1144.1 808.0,1144.6 809.5,1148.9 811.0,1151.4 812.5,1149.7 814.0,1147.3 815.5,1152.0 817.0,1147.0 818.5,1145.6 820.0,1153.0 821.5,1155.4 823.0,1156.8 824.5,1154.8 826.0,1152.1 827.5,1154.1 829.0,1158.3 830.5,1156.9 832.0,1157.2 833.5,1156.6 835.0,1157.8 836.5,1164.1 838.0,1165.7 839.5,1162.4 841.0,1162.2 842.5,1164.3 844.0,1168.0 845.5,1164.9 847.0,1166.5 848.5,1162.5 850.0,1163.4 851.5,1168.5 853.0,1171.1 854.5,1166.5 856.0,1166.1 857.5,1170.5 859.0,1168.9 860.5,1167.8 862.0,1170.6 863.5,1171.0 865.0,1173.5 866.5,1173.9 868.0,1170.8 869.5,1171.6 871.0,1172.8 872.5,1170.4 874.0,1171.1 875.5,1177.0 877.0,1172.8 878.5,1178.0 880.0,1178.8 881.5,1177.8 883.0,1179.8 884.5,1180.8 886.0,1183.2 887.5,1180.3 889.0,1180.2 890.5,1180.8 892.0,1186.7 893.5,1186.6 895.0,1181.7 896.5,1182.3 898.0,1182.3 899.5,1184.2 901.0,1185.7 902.5,1191.4 904.0,1183.0 905.5,1187.5 907.0,1188.5 908.5,1185.5 910.0,1186.4 911.5,1186.2 913.0,1187.7 914.5,1190.8 916.0,1185.4 917.5,1190.9 919.0,1189.1 920.5,1192.8 922.0,1191.8 923.5,1193.3 925.0,1192.5 926.5,1193.6 928.0,1191.7 929.5,1188.9 931.0,1192.3 932.5,1193.8 934.0,1197.6 935.5,1188.6 937.0,1190.4 938.5,1195.1 940.0,1190.5 941.5,1191.6 943.0,1198.5 944.5,1198.8 946.0,1192.8 947.5,1197.1 949.0,1198.4 950.5,1197.5 952.0,1196.4 953.5,1196.0 955.0,1193.4 956.5,1193.6 958.0,1197.3 959.5,1196.9 961.0,1201.0 962.5,1197.0 964.0,1190.4 965.5,1194.3 967.0,1197.6 968.5,1198.5 970.0,1198.1 971.5,1195.8 973.0,1201.2 974.5,1197.7 976.0,1199.7 977.5,1198.5 979.0,1195.6 980.5,1201.7 982.0,1194.0 983.5,1195.4 985.0,1200.0 986.5,1199.1 988.0,1201.4 989.5,1200.2 991.0,1198.8 992.5,1205.1 994.0,1201.2 995.5,1199.7 997.0,1197.5 998.5,1197.7 1000.0,1201.6 1001.5,1202.5 1003.0,1201.1 1004.5,1199.0 1006.0,1202.0 1007.5,1197.1 1009.0,1198.8 1010.5,1200.1 1012.0,1198.7 1013.5,1200.8 1015.0,1199.5 1016.5,1198.6 1018.0,1205.0 1019.5,1204.4 1021.0,1204.7 1022.5,1202.2 1024.0,1203.6 1025.5,1203.7 1027.0,1204.6 1028.5,1207.8 1030.0,1202.1 1031.5,1201.2 1033.0,1200.7 1034.5,1191.7 1036.0,1194.3 1037.5,1199.3 1039.0,1201.7 1040.5,1199.0 1042.0,1202.2 1043.5,1203.7 1045.0,1199.4 1046.5,1202.5 1048.0,1204.5 1049.5,1201.3 1051.0,1196.5 1052.5,1201.0 1054.0,1198.1 1055.5,1195.4 1057.0,1195.6 1058.5,1193.2 1060.0,1195.7 1061.5,1195.1 1063.0,1195.0 1064.5,1192.9 1066.0,1188.2 1067.5,1188.2 1069.0,1190.9 1070.5,1188.4 1072.0,1195.9 1073.5,1190.7 1075.0,1187.7 1076.5,1192.2 1078.0,1192.8 1079.5,1191.0 1081.0,1190.3 1082.5,1192.2 1084.0,1194.1 1085.5,1194.6 1087.0,1192.1 1088.5,1193.3 1090.0,1194.9 1091.5,1194.9 1093.0,1185.0 1094.5,1187.1 1096.0,1188.5 1097.5,1189.2 1099.0,1189.9 1100.5,1191.2 1102.0,1190.2 1103.5,1187.2 1105.0,1186.1 1106.5,1189.8 1108.0,1184.4 1109.5,1184.3 1111.0,1187.6 1112.5,1185.0 1114.0,1177.6 1115.5,1181.5 1117.0,1181.0 1118.5,1180.7 1120.0,1183.4 1121.5,1182.4 1123.0,1179.7 1124.5,1181.6 1126.0,1180.8 1127.5,1179.1 1129.0,1178.8 1130.5,1178.1 1132.0,1175.7 1133.5,1173.8 1135.0,1173.7 1136.5,1170.2 1138.0,1167.4 1139.5,1172.3 1141.0,1169.3 1142.5,1167.8 1144.0,1167.2 1145.5,1167.5 1147.0,1167.6 1148.5,1167.7 1150.0,1165.5 1151.5,1169.2 1153.0,1166.5 1154.5,1169.6 1156.0,1163.2 1157.5,1161.8 1159.0,1165.7 1160.5,1162.1 1162.0,1157.9 1163.5,1158.5 1165.0,1155.2 1166.5,1156.9 1168.0,1152.0 1169.5,1154.7 1171.0,1155.5 1172.5,1158.4 1174.0,1158.5 1175.5,1150.7 1177.0,1151.2 1178.5,1143.8 1180.0,1136.9 1181.5,1135.0 1183.0,1144.6 1184.5,1143.4 1186.0,1140.8 1187.5,1140.1 1189.0,1138.4 1190.5,1142.4 1192.0,1138.0 1193.5,1138.8 1195.0,1132.8 1196.5,1124.3 1198.0,1130.3 1199.5,1129.7 1201.0,1129.1 1202.5,1133.7 1204.0,1130.5 1205.5,1132.7 1207.0,1130.9 1208.5,1127.6 1210.0,1127.9 1211.5,1122.8 1213.0,1123.2 1214.5,1121.3 1216.0,1117.7 1217.5,1117.6 1219.0,1117.3 1220.5,1114.6 1222.0,1116.4 1223.5,1113.7 1225.0,1113.9 1226.5,1108.0 1228.0,1105.6 1229.5,1104.1 1231.0,1100.3 1232.5,1099.9 1234.0,1099.5 1235.5,1102.2 1237.0,1099.0 1238.5,1099.8 1240.0,1101.7 1241.5,1097.4 1243.0,1089.2 1244.5,1089.8 1246.0,1091.5 1247.5,1087.1 1249.0,1087.9 1250.5,1085.8 1252.0,1082.5 1253.5,1076.7 1255.0,1071.0 1256.5,1069.7 1258.0,1069.4 1259.5,1069.8 1261.0,1069.1 1262.5,1066.4 1264.0,1065.8 1265.5,1065.6 1267.0,1059.4 1268.5,1058.4 1270.0,1057.5 1271.5,1057.5 1273.0,1056.3 1274.5,1054.9 1276.0,1052.0 1277.5,1053.9 1279.0,1052.4 1280.5,1045.5 1282.0,1045.9 1283.5,1041.9 1285.0,1046.0 1286.5,1041.1 1288.0,1038.3 1289.5,1038.3 1291.0,1036.5 1292.5,1034.8 1294.0,1035.5 1295.5,1029.0 1297.0,1025.7 1298.5,1024.8 1300.0,1018.3 1301.5,1022.1 1303.0,1019.9 1304.5,1017.4 1306.0,1010.3 1307.5,1010.3 1309.0,1008.1 1310.5,1003.5 1312.0,1008.4 1313.5,1004.4 1315.0,998.6 1316.5,996.3 1318.0,995.6 1319.5,994.2 1321.0,991.2 1322.5,991.5 1324.0,992.5 1325.5,985.8 1327.0,985.5 1328.5,984.4 1330.0,985.2 1331.5,987.2 1333.0,983.7 1334.5,976.2 1336.0,974.4 1337.5,976.4 1339.0,972.1 1340.5,970.9 1342.0,971.1 1343.5,965.1 1345.0,968.9 1346.5,968.5 1348.0,967.2 1349.5,961.2 1351.0,957.8 1352.5,955.6 1354.0,955.6 1355.5,954.4 1357.0,954.4 1358.5,959.5 1360.0,960.9 1361.5,957.1 1363.0,957.1 1364.5,963.8 1366.0,960.4 1367.5,962.1 1369.0,962.4 1370.5,955.4 1372.0,952.4 1373.5,951.6 1375.0,948.0 1376.5,945.5 1378.0,945.4 1379.5,947.4 1381.0,943.6 1382.5,941.9 1384.0,940.5 1385.5,937.6 1387.0,944.0 1388.5,936.7 1390.0,938.4 1391.5,943.2 1393.0,939.8 1394.5,944.0 1396.0,947.8 1397.5,943.8 1399.0,945.7 1400.5,944.0 1402.0,947.8 1403.5,948.6 1405.0,949.4 1406.5,953.1 1408.0,952.5 1409.5,954.8 1411.0,954.6 1412.5,950.6 1414.0,954.0 1415.5,957.0 1417.0,954.3 1418.5,962.3 1420.0,964.0 1421.5,966.5 1423.0,966.0 1424.5,969.2 1426.0,971.5 1427.5,970.8 1429.0,971.9 1430.5,967.1 1432.0,974.6 1433.5,971.5 1435.0,967.5 1436.5,970.4 1438.0,972.6 1439.5,977.8 1441.0,977.5 1442.5,982.0 1444.0,982.5 1445.5,992.1 1447.0,992.5 1448.5,996.5 1450.0,991.7 1451.5,995.1 1453.0,993.7 1454.5,997.6 1456.0,1000.3 1457.5,995.8 1459.0,996.3 1460.5,997.6 1462.0,997.6 1463.5,1000.0 1465.0,1000.7 1466.5,999.9 1468.0,1004.1 1469.5,1007.0 1471.0,1003.4 1472.5,1004.8 1474.0,1007.8 1475.5,1009.0 1477.0,1009.8 1478.5,1016.2 1480.0,1020.7 1481.5,1023.8 1483.0,1024.5 1484.5,1031.8 1486.0,1034.5 1487.5,1030.5 1489.0,1031.2 1490.5,1036.1 1492.0,1033.5 1493.5,1036.1 1495.0,1036.9 1496.5,1035.3 1498.0,1036.1 1499.5,1032.7 1501.0,1033.3 1502.5,1029.2 1504.0,1037.6 1505.5,1038.0 1507.0,1036.5 1508.5,1035.4 1510.0,1039.4 1511.5,1044.4 1513.0,1048.0 1514.5,1051.0 1516.0,1048.7 1517.5,1052.8 1519.0,1053.5 1520.5,1053.1 1522.0,1054.6 1523.5,1060.1 1525.0,1064.1 1526.5,1059.2 1528.0,1065.5 1529.5,1067.0 1531.0,1061.9 1532.5,1059.9 1534.0,1060.4 1535.5,1062.9 1537.0,1059.8 1538.5,1056.7 1540.0,1059.6 1541.5,1055.1 1543.0,1060.7 1544.5,1067.7 1546.0,1069.7 1547.5,1073.8 1549.0,1076.6 1550.5,1079.3 1552.0,1079.8 1553.5,1078.3 1555.0,1080.4 1556.5,1082.5 1558.0,1087.2 1559.5,1090.5 1561.0,1089.4 1562.5,1087.5 1564.0,1089.7 1565.5,1096.1 1567.0,1105.9 1568.5,1109.0 1570.0,1109.5 1571.5,1106.7 1573.0,1107.5 1574.5,1103.5 1576.0,1098.9 1577.5,1097.3 1579.0,1102.0 1580.5,1100.6 1582.0,1107.0 1583.5,1110.9 1585.0,1111.1 1586.5,1115.2 1588.0,1115.0 1589.5,1113.5 1591.0,1115.3 1592.5,1114.8 1594.0,1118.5 1595.5,1118.9 1597.0,1120.5 1598.5,1122.2 1600.0,1112.9 1601.5,1119.6 1603.0,1117.8 1604.5,1123.0 1606.0,1124.1 1607.5,1128.4 1609.0,1134.8 1610.5,1129.8 1612.0,1133.4 1613.5,1134.3 1615.0,1129.3 1616.5,1134.3 1618.0,1134.5 1619.5,1132.3 1621.0,1131.0 1622.5,1140.9 1624.0,1134.2 1625.5,1127.3 1627.0,1128.3 1628.5,1130.3 1630.0,1130.7 1631.5,1131.8 1633.0,1130.4 1634.5,1135.5 1636.0,1135.9 1637.5,1134.7 1639.0,1137.5 1640.5,1140.9 1642.0,1146.0 1643.5,1146.9 1645.0,1145.1 1646.5,1146.1 1648.0,1147.6 1649.5,1153.4 1651.0,1148.0 1652.5,1149.3 1654.0,1151.5 1655.5,1147.4 1657.0,1149.8 1658.5,1151.3 1660.0,1150.0 1661.5,1153.0 1663.0,1155.8 1664.5,1157.1 1666.0,1153.8 1667.5,1154.1 1669.0,1161.2 1670.5,1153.1 1672.0,1154.1 1673.5,1157.3 1675.0,1155.5 1676.5,1156.1 1678.0,1154.8 1679.5,1155.8 1681.0,1157.7 1682.5,1153.1 1684.0,1152.7 1685.5,1152.0 1687.0,1150.5 1688.5,1152.2 1690.0,1152.1 1691.5,1161.9 1693.0,1171.7 1694.5,1176.2 1696.0,1176.4 1697.5,1169.5 1699.0,1177.0 1700.5,1172.7 1702.0,1173.4 1703.5,1181.5 1705.0,1173.1 1706.5,1176.3 1708.0,1174.9 1709.5,1170.5 1711.0,1165.0 1712.5,1167.2 1714.0,1163.9 1715.5,1168.7 1717.0,1171.4 1718.5,1161.1 1720.0,1161.8 1721.5,1164.1 1723.0,1161.2 1724.5,1161.0 1726.0,1167.3 1727.5,1168.6 1729.0,1165.0 1730.5,1174.3 1732.0,1187.2 1733.5,1184.8"/>
<polyline stroke="#ff00ff" points="233.5,1186.7 235.0,1179.0 236.5,1188.1 238.0,1219.8 239.5,1170.9 241.0,1199.9 242.5,1216.7 244.0,1169.6 245.5,1221.5 247.0,1208.1 248.5,1180.0 250.0,1224.4 251.5,1194.6 253.0,1215.7 254.5,1228.3 256.0,1199.1 257.5,1230.2 259.0,1227.8 260.5,1217.9 262.0,1236.7 263.5,1246.4 265.0,1250.0 266.5,1246.9 268.0,1245.4 269.5,1240.1 271.0,1233.8 272.5,1226.6 274.0,1223.3 275.5,1216.4 277.0,1210.1 278.5,1207.4 280.0,1201.3 281.5,1196.5 283.0,1185.3 284.5,1185.0 286.0,1179.6 287.5,1173.8 289.0,1169.0 290.5,1169.6 292.0,1163.2 293.5,1146.3 295.0,1130.4 296.5,1123.0 298.0,1114.1 299.5,1111.6 301.0,1097.7 302.5,1087.8 304.0,1085.3 305.5,1080.1 307.0,1071.9 308.5,1063.8 310.0,1057.6 311.5,1042.0 313.0,1028.9 314.5,1014.8 316.0,1008.0 317.5,999.6 319.0,985.3 320.5,977.0 322.0,964.5 323.5,956.7 325.0,944.0 326.5,929.1 328.0,918.7 329.5,907.9 331.0,899.3 332.5,897.5 334.0,893.2 335.5,887.5 337.0,879.4 338.5,881.7 340.0,885.3 341.5,891.6 343.0,890.7 344.5,886.9 346.0,890.4 347.5,894.7 349.0,890.7 350.5,892.0 352.0,885.3 353.5,877.3 355.0,871.3 356.5,871.3 358.0,867.0 359.5,861.6 361.0,847.2 362.5,840.8 364.0,845.8 365.5,861.6 367.0,878.1 368.5,886.1 370.0,903.3 371.5,910.5 373.0,916.9 374.5,944.4 376.0,963.6 377.5,982.9 379.0,1007.4 380.5,1025.2 382.0,1045.1 383.5,1056.1 385.0,1066.7 386.5,1085.0 388.0,1096.7 389.5,1111.0 391.0,1121.6 392.5,1127.0 394.0,1142.1 395.5,1147.0 397.0,1157.7 398.5,1158.0 400.0,1159.2 401.5,1167.4 403.0,1171.9 404.5,1173.4 406.0,1171.9 407.5,1178.0 409.0,1175.5 410.5,1178.0 412.0,1179.9 413.5,1182.7 415.0,1188.0 416.5,1186.8 418.0,1189.8 419.5,1191.5 421.0,1185.4 422.5,1183.9 424.0,1185.0 425.5,1183.7 427.0,1184.9 428.5,1179.8 430.0,1185.1 431.5,1187.7 433.0,1186.2 434.5,1183.4 436.0,1186.8 437.5,1187.3 439.0,1190.2 440.5,1189.8 442.0,1191.7 443.5,1189.7 445.0,1193.8 446.5,1186.1 448.0,1186.7 449.5,1191.5 451.0,1187.6 452.5,1191.7 454.0,1188.5 455.5,1190.3 457.0,1188.8 458.5,1189.2 460.0,1191.1 461.5,1191.0 463.0,1190.5 464.5,1197.1 466.0,1194.3 467.5,1190.9 469.0,1195.7 470.5,1197.6 472.0,1199.5 473.5,1202.4 475.0,1197.3 476.5,1201.7 478.0,1204.9 479.5,1203.7 481.0,1204.9 482.5,1198.5 484.0,1203.6 485.5,1212.9 487.0,1207.3 488.5,1209.3 490.0,1213.7 491.5,1216.3 493.0,1220.6 494.5,1214.3 496.0,1217.2 497.5,1221.0 499.0,1216.1 500.5,1217.6 502.0,1223.2 503.5,1223.1 505.0,1220.6 506.5,1211.9 508.0,1215.6 509.5,1218.7 511.0,1217.3 512.5,1217.5 514.0,1225.9 515.5,1220.4 517.0,1216.2 518.5,1218.6 520.0,1218.0 521.5,1217.2 523.0,1217.4 524.5,1219.2 526.0,1217.8 527.5,1213.2 529.0,1214.1 530.5,1215.7 532.0,1213.0 533.5,1215.7 535.0,1215.3 536.5,1210.0 538.0,1211.2 539.5,1215.7 541.0,1215.2 542.5,1210.1 544.0,1210.5 545.5,1206.5 547.0,1202.6 548.5,1206.2 550.0,1206.2 551.5,1205.8 553.0,1203.9 554.5,1203.6 556.0,1200.9 557.5,1202.0 559.0,1202.8 560.5,1200.0 562.0,1200.7 563.5,1194.1 565.0,1193.8 566.5,1199.2 568.0,1200.9 569.5,1196.5 571.0,1193.6 572.5,1189.6 574.0,1191.9 575.5,1193.3 577.0,1187.2 578.5,1189.7 580.0,1190.2 581.5,1189.1 583.0,1184.2 584.5,1186.3 586.0,1181.5 587.5,1186.5 589.0,1184.5 590.5,1179.4 592.0,1183.9 593.5,1184.6 595.0,1179.2 596.5,1184.4 598.0,1178.0 599.5,1178.4 601.0,1181.1 602.5,1172.7 604.0,1177.8 605.5,1177.2 607.0,1176.0 608.5,1172.9 610.0,1175.0 611.5,1171.8 613.0,1170.4 614.5,1171.1 616.0,1168.7 617.5,1174.3 619.0,1168.4 620.5,1166.8 622.0,1167.6 623.5,1168.0 625.0,1169.5 626.5,1169.5 628.0,1166.1 629.5,1164.4 631.0,1164.7 632.5,1166.3 634.0,1166.0 635.5,1162.3 637.0,1156.9 638.5,1165.7 640.0,1165.4 641.5,1162.3 643.0,1161.5 644.5,1159.1 646.0,1156.9 647.5,1157.9 649.0,1158.4 650.5,1157.3 652.0,1154.7 653.5,1156.7 655.0,1159.6 656.5,1157.4 658.0,1157.6 659.5,1152.4 661.0,1155.2 662.5,1156.3 664.0,1153.1 665.5,1150.4 667.0,1154.8 668.5,1152.7 670.0,1154.4 671.5,1152.6 673.0,1154.1 674.5,1152.2 676.0,1148.4 677.5,1150.9 679.0,1151.1 680.5,1153.3 682.0,1151.1 683.5,1150.3 685.0,1153.3 686.5,1154.9 688.0,1154.1 689.5,1154.4 691.0,1153.1 692.5,1153.5 694.0,1154.1 695.5,1153.3 697.0,1152.6 698.5,1153.2 700.0,1159.6 701.5,1156.0 703.0,1154.3 704.5,1154.4 706.0,1155.6 707.5,1156.8 709.0,1153.7 710.5,1150.7 712.0,1155.8 713.5,1152.9 715.0,1156.2 716.5,1157.3 718.0,1159.8 719.5,1162.0 721.0,1159.2 722.5,1156.0 724.0,1153.8 725.5,1154.4 727.0,1156.9 728.5,1152.5 730.0,1156.7 731.5,1158.6 733.0,1160.8 734.5,1159.7 736.0,1160.9 737.5,1160.0 739.0,1161.0 740.5,1158.8 742.0,1163.5 743.5,1169.4 745.0,1167.8 746.5,1168.0 748.0,1165.6 749.5,1171.4 751.0,1168.6 752.5,1171.7 754.0,1172.0 755.5,1169.6 757.0,1174.5 758.5,1174.2 760.0,1174.5 761.5,1175.9 763.0,1175.5 764.5,1174.7 766.0,1176.9 767.5,1175.8 769.0,1176.7 770.5,1175.5 772.0,1173.3 773.5,1175.0 775.0,1176.4 776.5,1178.1 778.0,1181.8 779.5,1175.8 781.0,1178.6 782.5,1174.6 784.0,1176.2 785.5,1179.0 787.0,1175.6 788.5,1175.9 790.0,1181.8 791.5,1183.8 793.0,1183.9 794.5,1182.6 796.0,1190.1 797.5,1187.1 799.0,1184.2 800.5,1190.5 802.0,1190.2 803.5,1187.3 805.0,1190.8 806.5,1189.7 808.0,1190.4 809.5,1190.0 811.0,1186.8 812.5,1191.1 814.0,1190.8 815.5,1187.5 817.0,1187.5 818.5,1192.2 820.0,1190.5 821.5,1190.8 823.0,1193.0 824.5,1192.5 826.0,1188.4 827.5,1192.9 829.0,1195.8 830.5,1196.3 832.0,1198.6 833.5,1196.5 835.0,1197.0 836.5,1199.8 838.0,1196.2 839.5,1200.3 841.0,1202.2 842.5,1200.2 844.0,1202.5 845.5,1201.1 847.0,1196.3 848.5,1200.3 850.0,1200.1 851.5,1199.9 853.0,1199.6 854.5,1202.6 856.0,1201.8 857.5,1198.3 859.0,1200.5 860.5,1202.2 862.0,1198.9 863.5,1198.8 865.0,1199.3 866.5,1199.0 868.0,1201.4 869.5,1203.9 871.0,1206.8 872.5,1205.9 874.0,1205.1 875.5,1205.5 877.0,1206.2 878.5,1202.3 880.0,1203.8 881.5,1203.9 883.0,1202.6 884.5,1201.6 886.0,1201.4 887.5,1202.1 889.0,1200.0 890.5,1203.8 892.0,1203.9 893.5,1203.9 895.0,1204.7 896.5,1206.0 898.0,1203.0 899.5,1203.4 901.0,1200.0 902.5,1197.4 904.0,1197.7 905.5,1206.7 907.0,1201.0 908.5,1204.3 910.0,1208.6 911.5,1204.5 913.0,1208.4 914.5,1210.6 916.0,1208.6 917.5,1211.6 919.0,1208.5 920.5,1204.1 922.0,1206.5 923.5,1205.4 925.0,1202.9 926.5,1202.7 928.0,1212.0 929.5,1207.8 931.0,1207.2 932.5,1206.2 934.0,1207.9 935.5,1207.7 937.0,1207.2 938.5,1205.2 940.0,1204.2 941.5,1205.9 943.0,1209.1 944.5,1214.5 946.0,1213.4 947.5,1214.7 949.0,1212.1 950.5,1209.8 952.0,1206.4 953.5,1208.9 955.0,1204.7 956.5,1207.8 958.0,1214.2 959.5,1212.6 961.0,1213.8 962.5,1210.8 964.0,1207.3 965.5,1209.0 967.0,1210.0 968.5,1214.2 970.0,1217.5 971.5,1211.5 973.0,1210.5 974.5,1211.5 976.0,1211.3 977.5,1209.0 979.0,1211.8 980.5,1213.6 982.0,1213.9 983.5,1210.1 985.0,1211.7 986.5,1208.5 988.0,1214.0 989.5,1211.3 991.0,1211.8 992.5,1212.0 994.0,1211.6 995.5,1210.4 997.0,1208.3 998.5,1216.6 1000.0,1215.6 1001.5,1214.6 1003.0,1219.2 1004.5,1215.2 1006.0,1215.3 1007.5,1214.5 1009.0,1217.1 1010.5,1216.4 1012.0,1215.5 1013.5,1214.0 1015.0,1215.0 1016.5,1217.7 1018.0,1210.4 1019.5,1212.9 1021.0,1213.7 1022.5,1213.9 1024.0,1209.8 1025.5,1215.4 1027.0,1213.5 1028.5,1213.9 1030.0,1213.7 1031.5,1210.5 1033.0,1212.7 1034.5,1210.1 1036.0,1211.2 1037.5,1213.3 1039.0,1214.4 1040.5,1214.7 1042.0,1214.1 1043.5,1219.4 1045.0,1216.7 1046.5,1211.1 1048.0,1211.2 1049.5,1211.3 1051.0,1212.3 1052.5,1211.3 1054.0,1210.2 1055.5,1216.0 1057.0,1213.6 1058.5,1211.0 1060.0,1210.5 1061.5,1210.1 1063.0,1213.6 1064.5,1212.0 1066.0,1212.3 1067.5,1201.6 1069.0,1206.5 1070.5,1210.4 1072.0,1212.8 1073.5,1208.3 1075.0,1202.2 1076.5,1206.5 1078.0,1205.3 1079.5,1201.5 1081.0,1203.8 1082.5,1209.2 1084.0,1211.2 1085.5,1210.5 1087.0,1206.0 1088.5,1214.0 1090.0,1207.7 1091.5,1207.8 1093.0,1205.2 1094.5,1211.0 1096.0,1210.6 1097.5,1210.7 1099.0,1208.6 1100.5,1207.1 1102.0,1207.0 1103.5,1201.5 1105.0,1206.6 1106.5,1208.0 1108.0,1204.2 1109.5,1203.7 1111.0,1204.4 1112.5,1207.6 1114.0,1205.4 1115.5,1203.3 1117.0,1201.4 1118.5,1198.2 1120.0,1199.5 1121.5,1201.6 1123.0,1201.0 1124.5,1201.4 1126.0,1203.0 1127.5,1202.4 1129.0,1201.4 1130.5,1201.8 1132.0,1200.4 1133.5,1198.7 1135.0,1199.1 1136.5,1193.2 1138.0,1198.5 1139.5,1194.1 1141.0,1197.5 1142.5,1197.2 1144.0,1199.6 1145.5,1198.0 1147.0,1195.0 1148.5,1199.6 1150.0,1198.9 1151.5,1198.1 1153.0,1198.0 1154.5,1200.2 1156.0,1200.5 1157.5,1198.9 1159.0,1193.4 1160.5,1193.5 1162.0,1193.7 1163.5,1196.2 1165.0,1191.8 1166.5,1187.9 1168.0,1189.8 1169.5,1186.8 1171.0,1185.4 1172.5,1185.4 1174.0,1180.9 1175.5,1185.4 1177.0,1185.5 1178.5,1182.9 1180.0,1179.9 1181.5,1182.3 1183.0,1185.9 1184.5,1181.3 1186.0,1178.3 1187.5,1181.3 1189.0,1176.9 1190.5,1173.2 1192.0,1176.7 1193.5,1176.8 1195.0,1177.1 1196.5,1176.2 1198.0,1177.6 1199.5,1176.3 1201.0,1174.3 1202.5,1173.7 1204.0,1175.8 1205.5,1176.6 1207.0,1175.9 1208.5,1174.5 1210.0,1163.1 1211.5,1164.4 1213.0,1166.3 1214.5,1166.5 1216.0,1160.7 1217.5,1165.5 1219.0,1163.7 1220.5,1159.6 1222.0,1160.2 1223.5,1159.3 1225.0,1157.7 1226.5,1160.4 1228.0,1158.9 1229.5,1155.7 1231.0,1156.8 1232.5,1158.6 1234.0,1156.5 1235.5,1161.6 1237.0,1157.3 1238.5,1162.5 1240.0,1162.3 1241.5,1156.5 1243.0,1156.7 1244.5,1158.6 1246.0,1154.2 1247.5,1148.8 1249.0,1149.4 1250.5,1153.3 1252.0,1144.4 1253.5,1145.6 1255.0,1144.6 1256.5,1142.6 1258.0,1140.7 1259.5,1139.5 1261.0,1141.8 1262.5,1140.7 1264.0,1135.3 1265.5,1139.6 1267.0,1133.4 1268.5,1135.4 1270.0,1134.9 1271.5,1136.4 1273.0,1134.5 1274.5,1135.0 1276.0,1132.3 1277.5,1133.3 1279.0,1131.8 1280.5,1135.1 1282.0,1128.4 1283.5,1129.9 1285.0,1128.0 1286.5,1125.0 1288.0,1120.9 1289.5,1120.7 1291.0,1114.5 1292.5,1111.1 1294.0,1114.2 1295.5,1108.1 1297.0,1112.2 1298.5,1108.7 1300.0,1107.4 1301.5,1106.1 1303.0,1105.6 1304.5,1103.0 1306.0,1101.2 1307.5,1100.6 1309.0,1102.6 1310.5,1102.6 1312.0,1101.9 1313.5,1098.4 1315.0,1095.0 1316.5,1089.4 1318.0,1092.4 1319.5,1092.9 1321.0,1088.0 1322.5,1088.3 1324.0,1088.6 1325.5,1084.2 1327.0,1084.2 1328.5,1081.7 1330.0,1074.9 1331.5,1075.7 1333.0,1076.0 1334.5,1077.7 1336.0,1074.3 1337.5,1073.7 1339.0,1072.2 1340.5,1073.5 1342.0,1074.0 1343.5,1075.8 1345.0,1075.5 1346.5,1073.2 1348.0,1072.5 1349.5,1071.8 1351.0,1071.2 1352.5,1074.4 1354.0,1064.9 1355.5,1067.2 1357.0,1069.7 1358.5,1071.5 1360.0,1065.9 1361.5,1066.9 1363.0,1068.0 1364.5,1063.5 1366.0,1057.2 1367.5,1058.3 1369.0,1055.7 1370.5,1058.2 1372.0,1054.7 1373.5,1059.4 1375.0,1056.9 1376.5,1053.3 1378.0,1053.4 1379.5,1052.1 1381.0,1055.4 1382.5,1059.3 1384.0,1055.8 1385.5,1057.4 1387.0,1053.6 1388.5,1055.3 1390.0,1061.2 1391.5,1053.5 1393.0,1057.3 1394.5,1059.6 1396.0,1052.8 1397.5,1052.8 1399.0,1055.3 1400.5,1061.4 1402.0,1059.9 1403.5,1059.4 1405.0,1061.2 1406.5,1059.6 1408.0,1058.4 1409.5,1056.0 1411.0,1058.1 1412.5,1053.6 1414.0,1057.8 1415.5,1054.6 1417.0,1053.4 1418.5,1059.3 1420.0,1062.9 1421.5,1059.4 1423.0,1064.8 1424.5,1063.8 1426.0,1065.2 1427.5,1070.7 1429.0,1068.9 1430.5,1071.6 1432.0,1071.6 1433.5,1077.7 1435.0,1075.1 1436.5,1071.7 1438.0,1071.8 1439.5,1073.1 1441.0,1076.6 1442.5,1077.6 1444.0,1080.6 1445.5,1079.9 1447.0,1079.8 1448.5,1080.8 1450.0,1080.4 1451.5,1081.8 1453.0,1084.0 1454.5,1085.0 1456.0,1082.5 1457.5,1079.3 1459.0,1081.7 1460.5,1086.1 1462.0,1081.1 1463.5,1085.1 1465.0,1089.9 1466.5,1089.0 1468.0,1087.7 1469.5,1095.2 1471.0,1097.0 1472.5,1093.1 1474.0,1096.1 1475.5,1097.5 1477.0,1091.6 1478.5,1099.4 1480.0,1093.4 1481.5,1092.5 1483.0,1091.0 1484.5,1093.5 1486.0,1091.1 1487.5,1093.6 1489.0,1097.6 1490.5,1096.8 1492.0,1096.4 1493.5,1103.0 1495.0,1101.1 1496.5,1106.7 1498.0,1107.1 1499.5,1109.4 1501.0,1111.3 1502.5,1113.2 1504.0,1114.1 1505.5,1112.7 1507.0,1111.5 1508.5,1111.4 1510.0,1107.4 1511.5,1101.5 1513.0,1100.7 1514.5,1102.5 1516.0,1107.3 1517.5,1112.2 1519.0,1115.3 1520.5,1114.6 1522.0,1115.6 1523.5,1112.5 1525.0,1107.3 1526.5,1113.0 1528.0,1110.7 1529.5,1110.9 1531.0,1110.4 1532.5,1114.5 1534.0,1110.9 1535.5,1113.1 1537.0,1112.1 1538.5,1109.7 1540.0,1109.2 1541.5,1115.6 1543.0,1118.9 1544.5,1121.7 1546.0,1126.2 1547.5,1124.1 1549.0,1123.2 1550.5,1122.3 1552.0,1122.7 1553.5,1121.8 1555.0,1120.1 1556.5,1127.1 1558.0,1119.6 1559.5,1122.1 1561.0,1124.3 1562.5,1123.9 1564.0,1121.2 1565.5,1123.0 1567.0,1123.8 1568.5,1123.1 1570.0,1126.5 1571.5,1127.7 1573.0,1128.4 1574.5,1132.7 1576.0,1130.4 1577.5,1134.3 1579.0,1134.3 1580.5,1137.8 1582.0,1139.3 1583.5,1141.2 1585.0,1139.8 1586.5,1140.9 1588.0,1142.1 1589.5,1145.7 1591.0,1148.6 1592.5,1150.2 1594.0,1146.4 1595.5,1146.6 1597.0,1142.5 1598.5,1139.5 1600.0,1142.3 1601.5,1143.7 1603.0,1141.3 1604.5,1139.9 1606.0,1145.6 1607.5,1143.9 1609.0,1140.8 1610.5,1151.3 1612.0,1150.1 1613.5,1148.6 1615.0,1152.5 1616.5,1151.2 1618.0,1157.8 1619.5,1152.7 1621.0,1151.8 1622.5,1155.4 1624.0,1154.7 1625.5,1160.0 1627.0,1153.7 1628.5,1153.6 1630.0,1156.9 1631.5,1158.5 1633.0,1160.0 1634.5,1158.5 1636.0,1163.0 1637.5,1157.3 1639.0,1157.2 1640.5,1160.6 1642.0,1159.4 1643.5,1160.2 1645.0,1161.5 1646.5,1162.5 1648.0,1162.3 1649.5,1164.1 1651.0,1161.9 1652.5,1166.4 1654.0,1162.4 1655.5,1171.0 1657.0,1173.0 1658.5,1170.9 1660.0,1166.4 1661.5,1164.0 1663.0,1168.8 1664.5,1167.1 1666.0,1167.0 1667.5,1163.0 1669.0,1166.3 1670.5,1161.3 1672.0,1161.2 1673.5,1155.5 1675.0,1156.3 1676.5,1160.3 1678.0,1158.4 1679.5,1158.9 1681.0,1165.4 1682.5,1167.4 1684.0,1174.4 1685.5,1167.3 1687.0,1175.6 1688.5,1179.5 1690.0,1173.8 1691.5,1173.5 1693.0,1181.9 1694.5,1178.3 1696.0,1178.5 1697.5,1183.9 1699.0,1182.5 1700.5,1184.8 1702.0,1181.2 1703.5,1184.1 1705.0,1188.3 1706.5,1185.8 1708.0,1173.8 1709.5,1179.2 1711.0,1177.5 1712.5,1170.2 1714.0,1173.7 1715.5,1159.2 1717.0,1167.2 1718.5,1168.3 1720.0,1192.3 1721.5,1201.7 1723.0,1208.9 1724.5,1238.7 1726.0,1248.7 1727.5,1227.6 1729.0,1219.6 1730.5,1203.9 1732.0,1202.6 1733.5,1204.0"/>
<polyline stroke="#808000" points="233.5,1247.6 235.0,1223.1 236.5,1239.2 238.0,1238.7 239.5,1233.5 241.0,1246.3 242.5,1225.6 244.0,1242.5 245.5,1242.1 247.0,1228.6 248.5,1243.0 250.0,1231.1 251.5,1229.3 253.0,1246.2 254.5,1236.3 256.0,1248.3 257.5,1248.6 259.0,1234.9 260.5,1251.3 262.0,1245.6 263.5,1233.3 265.0,1229.9 266.5,1218.1 268.0,1212.8 269.5,1198.5 271.0,1188.7 272.5,1180.9 274.0,1179.2 275.5,1177.9 277.0,1170.4 278.5,1162.6 280.0,1161.2 281.5,1150.5 283.0,1143.8 284.5,1144.6 286.0,1145.3 287.5,1137.0 289.0,1126.8 290.5,1124.4 292.0,1110.2 293.5,1102.4 295.0,1098.8 296.5,1093.7 298.0,1084.2 299.5,1078.6 301.0,1080.4 302.5,1072.1 304.0,1059.7 305.5,1052.5 307.0,1042.4 308.5,1029.5 310.0,1025.1 311.5,1010.8 313.0,995.4 314.5,980.3 316.0,973.7 317.5,964.6 319.0,959.6 320.5,946.9 322.0,930.8 323.5,909.9 325.0,895.2 326.5,880.2 328.0,868.4 329.5,857.9 331.0,856.6 332.5,842.2 334.0,834.4 335.5,832.3 337.0,831.3 338.5,829.8 340.0,833.4 341.5,832.4 343.0,836.1 344.5,840.2 346.0,842.8 347.5,838.4 349.0,836.3 350.5,837.0 352.0,835.0 353.5,828.6 355.0,819.2 356.5,814.6 358.0,811.9 359.5,805.6 361.0,800.9 362.5,803.8 364.0,804.6 365.5,807.0 367.0,807.4 368.5,808.3 370.0,825.5 371.5,847.3 373.0,868.9 374.5,893.9 376.0,922.3 377.5,953.6 379.0,969.5 380.5,991.8 382.0,1013.1 383.5,1036.4 385.0,1049.9 386.5,1060.7 388.0,1076.0 389.5,1088.5 391.0,1100.5 392.5,1118.5 394.0,1129.6 395.5,1141.6 397.0,1148.9 398.5,1150.7 400.0,1150.9 401.5,1149.0 403.0,1153.8 404.5,1154.8 406.0,1157.1 407.5,1157.4 409.0,1157.0 410.5,1157.6 412.0,1163.3 413.5,1167.6 415.0,1165.4 416.5,1166.8 418.0,1170.0 419.5,1165.5 421.0,1165.3 422.5,1163.9 424.0,1169.3 425.5,1169.0 427.0,1166.9 428.5,1164.1 430.0,1167.9 431.5,1172.9 433.0,1171.5 434.5,1171.0 436.0,1173.9 437.5,1170.0 439.0,1171.5 440.5,1173.3 442.0,1169.8 443.5,1168.3 445.0,1170.9 446.5,1171.5 448.0,1172.3 449.5,1174.9 451.0,1176.9 452.5,1175.3 454.0,1175.7 455.5,1179.1 457.0,1181.9 458.5,1183.2 460.0,1178.1 461.5,1181.5 463.0,1182.4 464.5,1180.7 466.0,1181.9 467.5,1184.6 469.0,1189.4 470.5,1184.4 472.0,1187.3 473.5,1187.6 475.0,1187.5 476.5,1191.5 478.0,1192.3 479.5,1188.3 481.0,1189.5 482.5,1192.2 484.0,1189.6 485.5,1195.1 487.0,1195.6 488.5,1196.8 490.0,1198.9 491.5,1204.5 493.0,1203.8 494.5,1205.6 496.0,1212.8 497.5,1210.5 499.0,1210.4 500.5,1209.5 502.0,1216.0 503.5,1216.6 505.0,1217.0 506.5,1216.8 508.0,1215.9 509.5,1213.9 511.0,1213.2 512.5,1215.8 514.0,1215.4 515.5,1218.3 517.0,1212.9 518.5,1211.2 520.0,1209.5 521.5,1214.3 523.0,1208.7 524.5,1210.7 526.0,1212.6 527.5,1208.1 529.0,1207.9 530.5,1200.5 532.0,1201.9 533.5,1199.5 535.0,1202.9 536.5,1204.1 538.0,1202.7 539.5,1207.4 541.0,1208.4 542.5,1207.0 544.0,1207.7 545.5,1206.5 547.0,1210.0 548.5,1217.3 550.0,1212.2 551.5,1212.8 553.0,1211.0 554.5,1213.3 556.0,1212.9 557.5,1210.4 559.0,1205.5 560.5,1206.8 562.0,1211.3 563.5,1208.3 565.0,1208.8 566.5,1206.1 568.0,1201.1 569.5,1205.0 571.0,1205.6 572.5,1202.5 574.0,1201.6 575.5,1202.6 577.0,1200.1 578.5,1201.0 580.0,1199.7 581.5,1193.3 583.0,1196.5 584.5,1196.4 586.0,1194.8 587.5,1197.0 589.0,1195.1 590.5,1196.3 592.0,1197.9 593.5,1195.4 595.0,1190.0 596.5,1190.3 598.0,1194.6 599.5,1192.6 601.0,1190.1 602.5,1191.2 604.0,1193.0 605.5,1192.6 607.0,1193.3 608.5,1189.8 610.0,1189.9 611.5,1190.2 613.0,1190.7 614.5,1185.6 616.0,1188.4 617.5,1186.9 619.0,1192.6 620.5,1194.7 622.0,1194.7 623.5,1192.1 625.0,1187.7 626.5,1189.6 628.0,1187.0 629.5,1187.3 631.0,1183.4 632.5,1182.2 634.0,1184.3 635.5,1187.6 637.0,1183.4 638.5,1187.1 640.0,1189.6 641.5,1179.7 643.0,1179.4 644.5,1177.8 646.0,1178.9 647.5,1178.2 649.0,1178.9 650.5,1181.6 652.0,1182.0 653.5,1180.1 655.0,1178.7 656.5,1178.5 658.0,1178.3 659.5,1179.1 661.0,1177.6 662.5,1177.8 664.0,1172.9 665.5,1175.9 667.0,1179.0 668.5,1175.0 670.0,1169.1 671.5,1174.1 673.0,1171.6 674.5,1163.5 676.0,1168.4 677.5,1172.6 679.0,1172.8 680.5,1174.9 682.0,1174.2 683.5,1172.7 685.0,1167.4 686.5,1168.3 688.0,1172.4 689.5,1174.8 691.0,1171.2 692.5,1171.2 694.0,1174.4 695.5,1169.4 697.0,1167.7 698.5,1172.0 700.0,1174.6 701.5,1173.2 703.0,1168.3 704.5,1172.8 706.0,1171.3 707.5,1175.3 709.0,1175.1 710.5,1175.6 712.0,1177.1 713.5,1174.8 715.0,1177.7 716.5,1180.2 718.0,1179.0 719.5,1181.2 721.0,1177.6 722.5,1180.5 724.0,1180.6 725.5,1177.6 727.0,1179.4 728.5,1179.4 730.0,1179.4 731.5,1181.3 733.0,1184.5 734.5,1182.0 736.0,1182.3 737.5,1178.9 739.0,1181.9 740.5,1185.8 742.0,1186.0 743.5,1185.2 745.0,1182.7 746.5,1181.2 748.0,1183.4 749.5,1181.4 751.0,1181.4 752.5,1188.0 754.0,1186.5 755.5,1193.4 757.0,1188.8 758.5,1192.1 760.0,1189.9 761.5,1192.0 763.0,1189.9 764.5,1191.6 766.0,1191.8 767.5,1190.7 769.0,1192.7 770.5,1195.7 772.0,1191.1 773.5,1193.1 775.0,1192.1 776.5,1191.2 778.0,1196.6 779.5,1187.7 781.0,1188.6 782.5,1187.7 784.0,1191.4 785.5,1193.7 787.0,1204.8 788.5,1200.3 790.0,1202.3 791.5,1203.1 793.0,1199.1 794.5,1200.7 796.0,1204.7 797.5,1202.2 799.0,1201.5 800.5,1202.5 802.0,1198.0 803.5,1198.5 805.0,1202.0 806.5,1203.6 808.0,1200.3 809.5,1200.9 811.0,1202.0 812.5,1202.3 814.0,1204.6 815.5,1203.9 817.0,1203.8 818.5,1200.2 820.0,1200.1 821.5,1204.0 823.0,1200.5 824.5,1203.9 826.0,1203.2 827.5,1202.4 829.0,1206.1 830.5,1204.1 832.0,1202.9 833.5,1203.4 835.0,1205.6 836.5,1213.1 838.0,1203.2 839.5,1205.0 841.0,1206.2 842.5,1209.3 844.0,1207.1 845.5,1201.1 847.0,1209.2 848.5,1206.2 850.0,1207.2 851.5,1204.9 853.0,1204.8 854.5,1206.7 856.0,1210.7 857.5,1211.9 859.0,1208.5 860.5,1210.4 862.0,1209.2 863.5,1210.0 865.0,1210.7 866.5,1212.2 868.0,1209.7 869.5,1210.2 871.0,1211.8 872.5,1212.1 874.0,1210.2 875.5,1216.3 877.0,1213.2 878.5,1215.1 880.0,1215.2 881.5,1217.7 883.0,1210.5 884.5,1218.9 886.0,1216.7 887.5,1212.7 889.0,1215.5 890.5,1221.8 892.0,1218.9 893.5,1212.9 895.0,1213.1 896.5,1217.6 898.0,1211.6 899.5,1212.0 901.0,1212.2 902.5,1217.8 904.0,1213.3 905.5,1215.4 907.0,1211.7 908.5,1209.9 910.0,1214.3 911.5,1214.7 913.0,1208.6 914.5,1212.7 916.0,1214.5 917.5,1211.4 919.0,1212.6 920.5,1213.7 922.0,1212.3 923.5,1212.0 925.0,1212.3 926.5,1213.8 928.0,1212.0 929.5,1214.9 931.0,1212.6 932.5,1215.7 934.0,1216.7 935.5,1214.5 937.0,1218.8 938.5,1223.1 940.0,1222.6 941.5,1215.7 943.0,1220.5 944.5,1220.0 946.0,1218.8 947.5,1217.4 949.0,1218.7 950.5,1222.8 952.0,1221.9 953.5,1219.1 955.0,1217.9 956.5,1218.5 958.0,1221.4 959.5,1225.5 961.0,1219.4 962.5,1220.1 964.0,1220.1 965.5,1219.1 967.0,1221.9 968.5,1223.3 970.0,1218.7 971.5,1218.3 973.0,1224.3 974.5,1223.9 976.0,1223.8 977.5,1221.5 979.0,1221.1 980.5,1223.2 982.0,1221.5 983.5,1219.3 985.0,1221.6 986.5,1224.6 988.0,1220.5 989.5,1224.2 991.0,1224.9 992.5,1220.8 994.0,1221.8 995.5,1222.3 997.0,1223.9 998.5,1224.5 1000.0,1219.7 1001.5,1218.1 1003.0,1223.9 1004.5,1223.4 1006.0,1223.4 1007.5,1223.1 1009.0,1225.5 1010.5,1219.0 1012.0,1222.0 1013.5,1218.4 1015.0,1220.3 1016.5,1222.6 1018.0,1216.3 1019.5,1219.0 1021.0,1219.2 1022.5,1219.5 1024.0,1221.3 1025.5,1219.9 1027.0,1220.4 1028.5,1225.6 1030.0,1228.2 1031.5,1225.7 1033.0,1223.1 1034.5,1232.0 1036.0,1231.8 1037.5,1229.0 1039.0,1224.9 1040.5,1224.9 1042.0,1227.1 1043.5,1224.5 1045.0,1229.8 1046.5,1227.8 1048.0,1227.1 1049.5,1223.6 1051.0,1222.6 1052.5,1222.8 1054.0,1225.4 1055.5,1224.7 1057.0,1224.1 1058.5,1225.5 1060.0,1225.7 1061.5,1228.7 1063.0,1225.5 1064.5,1222.2 1066.0,1224.1 1067.5,1228.5 1069.0,1224.6 1070.5,1224.6 1072.0,1224.0 1073.5,1225.6 1075.0,1225.8 1076.5,1223.1 1078.0,1223.7 1079.5,1227.0 1081.0,1228.3 1082.5,1228.0 1084.0,1227.7 1085.5,1224.7 1087.0,1223.6 1088.5,1226.5 1090.0,1221.9 1091.5,1222.6 1093.0,1218.5 1094.5,1220.2 1096.0,1219.8 1097.5,1217.7 1099.0,1221.1 1100.5,1218.6 1102.0,1218.0 1103.5,1218.1 1105.0,1216.7 1106.5,1221.4 1108.0,1218.0 1109.5,1218.1 1111.0,1214.7 1112.5,1215.4 1114.0,1216.2 1115.5,1216.2 1117.0,1215.4 1118.5,1216.8 1120.0,1220.6 1121.5,1217.4 1123.0,1215.9 1124.5,1215.1 1126.0,1221.9 1127.5,1221.6 1129.0,1218.1 1130.5,1217.5 1132.0,1213.8 1133.5,1213.9 1135.0,1215.0 1136.5,1214.7 1138.0,1212.0 1139.5,1211.2 1141.0,1214.1 1142.5,1214.2 1144.0,1207.8 1145.5,1211.0 1147.0,1215.1 1148.5,1210.8 1150.0,1211.0 1151.5,1206.8 1153.0,1210.0 1154.5,1205.6 1156.0,1202.4 1157.5,1203.0 1159.0,1208.8 1160.5,1202.2 1162.0,1197.3 1163.5,1200.4 1165.0,1200.8 1166.5,1206.5 1168.0,1205.1 1169.5,1205.8 1171.0,1208.8 1172.5,1210.8 1174.0,1210.1 1175.5,1210.3 1177.0,1202.8 1178.5,1200.7 1180.0,1201.1 1181.5,1202.2 1183.0,1200.6 1184.5,1197.0 1186.0,1194.1 1187.5,1197.7 1189.0,1198.8 1190.5,1202.7 1192.0,1196.5 1193.5,1198.4 1195.0,1192.3 1196.5,1191.4 1198.0,1191.1 1199.5,1191.0 1201.0,1189.4 1202.5,1189.0 1204.0,1189.4 1205.5,1187.7 1207.0,1188.9 1208.5,1186.8 1210.0,1185.4 1211.5,1188.2 1213.0,1185.9 1214.5,1184.3 1216.0,1183.8 1217.5,1184.1 1219.0,1185.7 1220.5,1183.1 1222.0,1187.2 1223.5,1190.1 1225.0,1189.7 1226.5,1185.5 1228.0,1181.5 1229.5,1182.2 1231.0,1182.1 1232.5,1181.4 1234.0,1177.0 1235.5,1174.6 1237.0,1179.1 1238.5,1175.8 1240.0,1179.6 1241.5,1181.7 1243.0,1177.2 1244.5,1180.1 1246.0,1178.4 1247.5,1173.2 1249.0,1165.6 1250.5,1160.7 1252.0,1162.6 1253.5,1161.4 1255.0,1162.1 1256.5,1159.0 1258.0,1159.7 1259.5,1160.2 1261.0,1156.9 1262.5,1155.6 1264.0,1160.4 1265.5,1161.0 1267.0,1157.9 1268.5,1158.7 1270.0,1160.6 1271.5,1163.2 1273.0,1156.5 1274.5,1157.2 1276.0,1160.9 1277.5,1155.8 1279.0,1156.5 1280.5,1146.4 1282.0,1152.0 1283.5,1150.2 1285.0,1143.3 1286.5,1147.0 1288.0,1148.0 1289.5,1146.8 1291.0,1145.0 1292.5,1140.3 1294.0,1136.1 1295.5,1135.1 1297.0,1135.6 1298.5,1136.7 1300.0,1134.7 1301.5,1135.2 1303.0,1137.6 1304.5,1136.7 1306.0,1141.0 1307.5,1141.9 1309.0,1132.8 1310.5,1129.9 1312.0,1126.0 1313.5,1122.9 1315.0,1124.4 1316.5,1119.3 1318.0,1116.0 1319.5,1116.1 1321.0,1117.5 1322.5,1113.8 1324.0,1111.3 1325.5,1112.9 1327.0,1111.2 1328.5,1109.5 1330.0,1109.4 1331.5,1103.8 1333.0,1104.4 1334.5,1102.2 1336.0,1104.8 1337.5,1104.7 1339.0,1099.2 1340.5,1102.9 1342.0,1097.8 1343.5,1101.0 1345.0,1099.7 1346.5,1095.7 1348.0,1093.6 1349.5,1094.8 1351.0,1095.4 1352.5,1093.3 1354.0,1095.4 1355.5,1090.9 1357.0,1092.4 1358.5,1092.9 1360.0,1087.7 1361.5,1091.0 1363.0,1088.1 1364.5,1083.1 1366.0,1085.9 1367.5,1086.9 1369.0,1088.5 1370.5,1084.2 1372.0,1086.3 1373.5,1086.1 1375.0,1083.9 1376.5,1083.2 1378.0,1080.4 1379.5,1077.0 1381.0,1078.9 1382.5,1080.2 1384.0,1078.3 1385.5,1076.3 1387.0,1072.5 1388.5,1076.8 1390.0,1077.6 1391.5,1073.2 1393.0,1075.4 1394.5,1078.1 1396.0,1076.8 1397.5,1078.8 1399.0,1079.9 1400.5,1075.0 1402.0,1076.9 1403.5,1080.3 1405.0,1082.5 1406.5,1084.6 1408.0,1077.4 1409.5,1080.1 1411.0,1084.1 1412.5,1086.7 1414.0,1088.9 1415.5,1083.6 1417.0,1083.9 1418.5,1083.6 1420.0,1088.6 1421.5,1086.0 1423.0,1092.2 1424.5,1095.3 1426.0,1096.0 1427.5,1091.2 1429.0,1094.8 1430.5,1101.1 1432.0,1098.2 1433.5,1100.4 1435.0,1102.0 1436.5,1104.4 1438.0,1103.2 1439.5,1102.2 1441.0,1099.9 1442.5,1100.0 1444.0,1099.6 1445.5,1101.6 1447.0,1100.3 1448.5,1103.2 1450.0,1098.1 1451.5,1104.2 1453.0,1104.0 1454.5,1107.2 1456.0,1106.6 1457.5,1108.6 1459.0,1111.4 1460.5,1107.3 1462.0,1107.6 1463.5,1107.7 1465.0,1108.7 1466.5,1104.6 1468.0,1107.0 1469.5,1108.1 1471.0,1106.9 1472.5,1108.2 1474.0,1105.7 1475.5,1112.4 1477.0,1113.3 1478.5,1117.8 1480.0,1114.1 1481.5,1113.4 1483.0,1118.8 1484.5,1116.8 1486.0,1121.3 1487.5,1120.8 1489.0,1121.0 1490.5,1122.5 1492.0,1122.1 1493.5,1126.1 1495.0,1124.1 1496.5,1118.2 1498.0,1122.4 1499.5,1118.5 1501.0,1120.7 1502.5,1119.2 1504.0,1120.1 1505.5,1126.6 1507.0,1124.5 1508.5,1123.8 1510.0,1124.8 1511.5,1126.2 1513.0,1131.4 1514.5,1127.0 1516.0,1125.7 1517.5,1130.9 1519.0,1127.5 1520.5,1129.4 1522.0,1134.4 1523.5,1132.6 1525.0,1129.5 1526.5,1126.8 1528.0,1124.2 1529.5,1123.5 1531.0,1125.4 1532.5,1130.2 1534.0,1133.1 1535.5,1132.7 1537.0,1135.0 1538.5,1142.2 1540.0,1140.2 1541.5,1143.8 1543.0,1145.6 1544.5,1141.8 1546.0,1137.6 1547.5,1136.7 1549.0,1129.3 1550.5,1128.3 1552.0,1130.8 1553.5,1135.5 1555.0,1135.8 1556.5,1144.0 1558.0,1144.4 1559.5,1144.7 1561.0,1145.7 1562.5,1146.0 1564.0,1145.9 1565.5,1151.6 1567.0,1151.2 1568.5,1149.6 1570.0,1151.7 1571.5,1147.7 1573.0,1148.9 1574.5,1147.2 1576.0,1143.2 1577.5,1145.5 1579.0,1139.9 1580.5,1142.8 1582.0,1140.0 1583.5,1142.3 1585.0,1147.5 1586.5,1149.3 1588.0,1149.5 1589.5,1153.8 1591.0,1156.4 1592.5,1155.8 1594.0,1155.8 1595.5,1159.0 1597.0,1161.4 1598.5,1156.1 1600.0,1158.8 1601.5,1161.8 1603.0,1161.3 1604.5,1158.3 1606.0,1162.8 1607.5,1158.8 1609.0,1162.0 1610.5,1166.2 1612.0,1157.9 1613.5,1161.3 1615.0,1163.7 1616.5,1163.9 1618.0,1161.8 1619.5,1162.7 1621.0,1160.8 1622.5,1164.5 1624.0,1167.4 1625.5,1165.3 1627.0,1164.6 1628.5,1166.6 1630.0,1169.4 1631.5,1171.3 1633.0,1172.3 1634.5,1173.9 1636.0,1171.7 1637.5,1168.0 1639.0,1177.0 1640.5,1183.2 1642.0,1177.5 1643.5,1178.1 1645.0,1181.7 1646.5,1183.8 1648.0,1182.0 1649.5,1181.4 1651.0,1176.0 1652.5,1174.2 1654.0,1173.3 1655.5,1170.9 1657.0,1180.1 1658.5,1187.5 1660.0,1192.2 1661.5,1185.3 1663.0,1182.1 1664.5,1176.0 1666.0,1183.9 1667.5,1181.9 1669.0,1183.4 1670.5,1186.4 1672.0,1181.3 1673.5,1189.0 1675.0,1199.9 1676.5,1191.8 1678.0,1203.3 1679.5,1210.8 1681.0,1188.9 1682.5,1216.0 1684.0,1209.3 1685.5,1197.2 1687.0,1221.1 1688.5,1194.6 1690.0,1207.0 1691.5,1213.8 1693.0,1188.7 1694.5,1218.2 1696.0,1208.6 1697.5,1200.7 1699.0,1220.7 1700.5,1192.1 1702.0,1205.9 1703.5,1213.1 1705.0,1190.5 1706.5,1218.1 1708.0,1204.0 1709.5,1197.2 1711.0,1222.7 1712.5,1196.1 1714.0,1215.0 1715.5,1225.7 1717.0,1189.3 1718.5,1236.2 1720.0,1218.2 1721.5,1203.7 1723.0,1226.4 1724.5,1191.5 1726.0,1217.6 1727.5,1238.4 1729.0,1174.9 1730.5,1241.5 1732.0,1240.2 1733.5,1198.9"/>
</g>
<g stroke="#000" stroke-width="4.1" stroke-linecap="round" fill="none">
<path d="M349.88,810.70 L353.02,1199.50" stroke-dasharray="4.000 13.491"/>
<path d="M681.96,696.70 L690.94,1189.40" stroke-dasharray="4.000 13.456"/>
<path d="M1387.00,340.90 L1387.10,1095.60" stroke-dasharray="4.000 13.458"/>
</g>
<path d="M349.1,755.2 L334.5,800.5 L365.2,800.5Z M676.7,1200.7 L706.3,1199.5 L692.8,1244.3Z M1372.5,1099.5 L1402.2,1099.5 L1387.3,1143.5Z" fill="#000" stroke="#000" stroke-width="3" stroke-linejoin="round"/>
<g stroke-width="10" stroke-linecap="round">
<path d="M1428.6,108.3 H1570.3" stroke="#000000"/>
<path d="M1428.6,185.9 H1570.3" stroke="#ff0000"/>
<path d="M1428.6,263.5 H1570.3" stroke="#0000ff"/>
<path d="M1428.6,341.1 H1570.3" stroke="#008080"/>
<path d="M1428.6,418.7 H1570.3" stroke="#ff00ff"/>
<path d="M1428.6,496.3 H1570.3" stroke="#808000"/>
</g>
<g font-size="63.5px">
<text x="1588.5" y="130.3">0 ns</text>
<text x="1588.5" y="207.9">2 µs</text>
<text x="1588.5" y="285.5">4 µs</text>
<text x="1588.5" y="363.1">6 µs</text>
<text x="1588.5" y="440.7">8 µs</text>
<text x="1588.5" y="518.3">10 µs</text>
</g>
</svg></body></html>
